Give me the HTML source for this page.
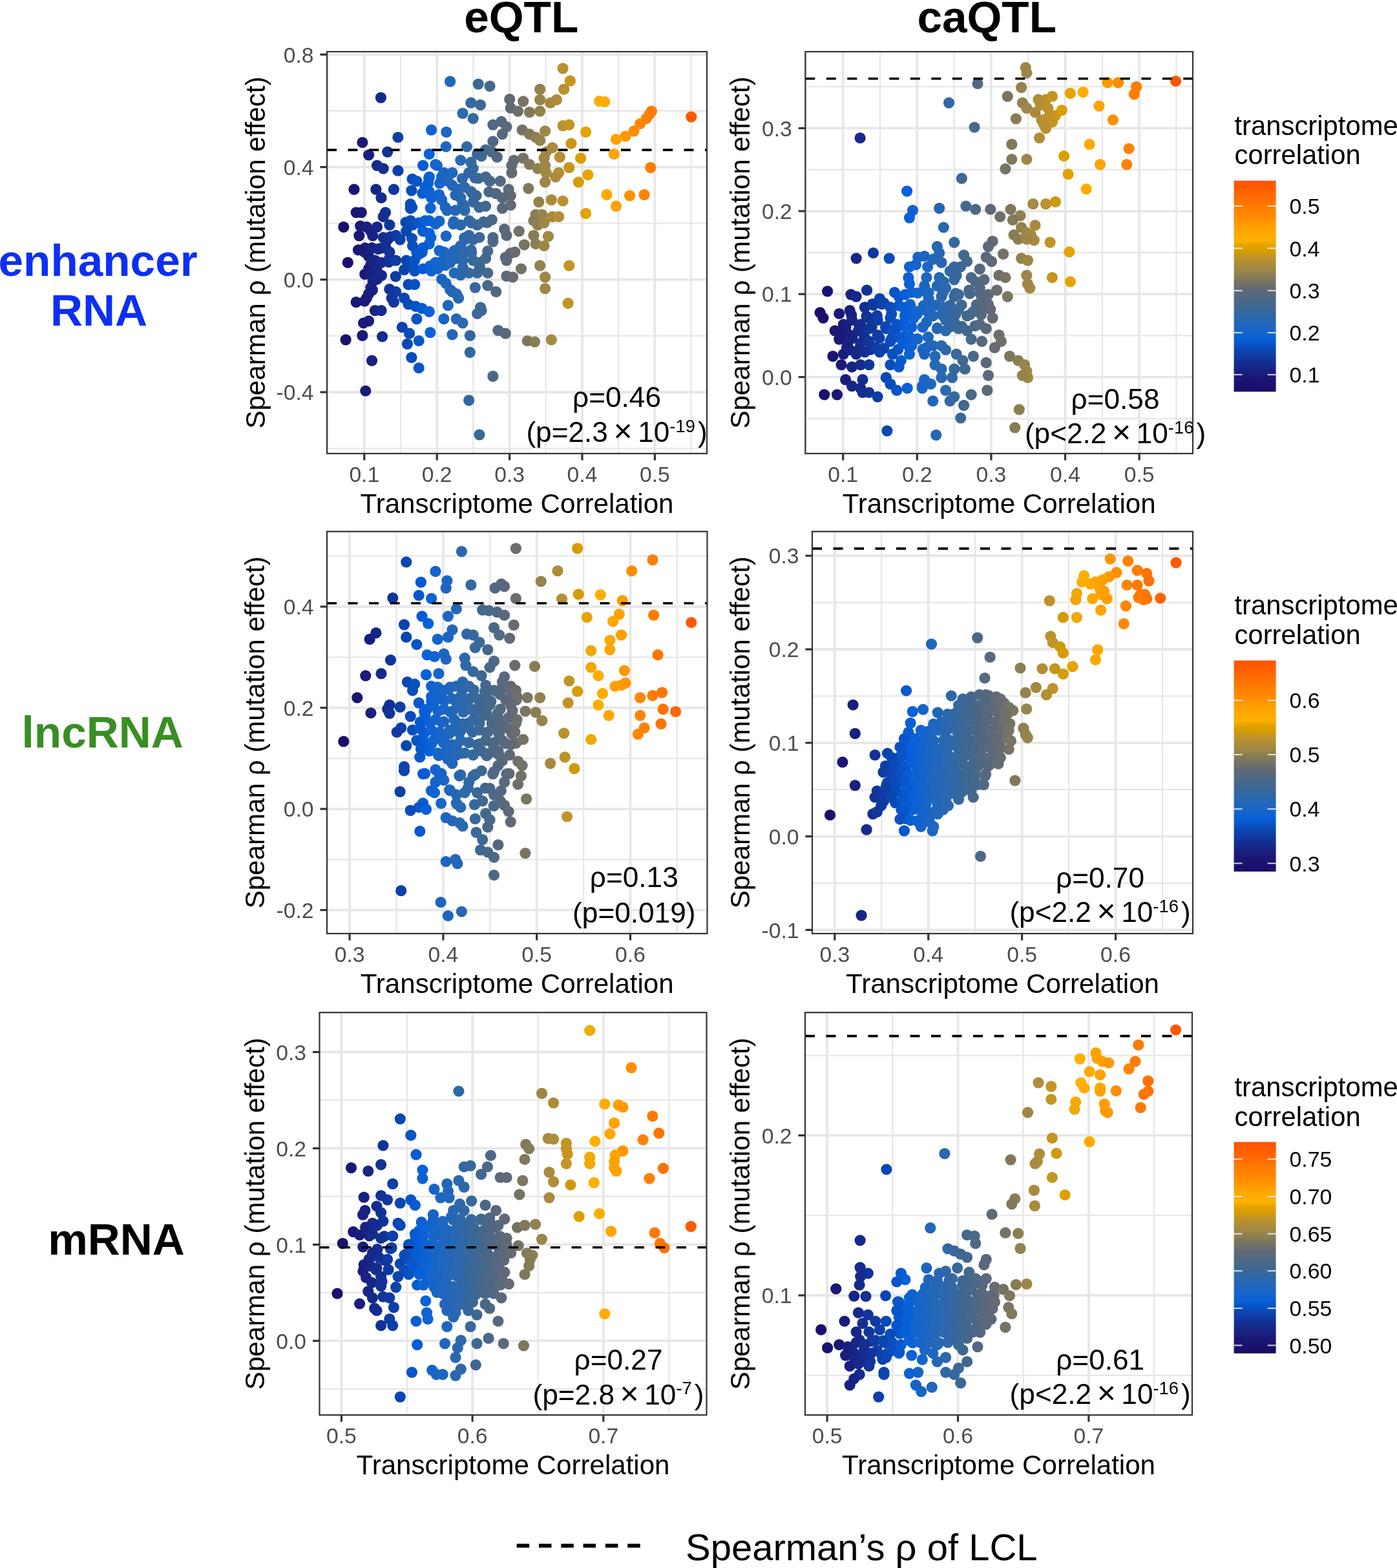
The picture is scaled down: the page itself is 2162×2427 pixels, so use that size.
<!DOCTYPE html>
<html><head><meta charset="utf-8"><title>eQTL caQTL transcriptome correlation</title>
<style>html,body{margin:0;padding:0;background:#fff;}svg{display:block;}text{font-family:"Liberation Sans", Arial, Helvetica, sans-serif;}.tk{font-size:33.7px;fill:#4d4d4d;}.at{font-size:42.1px;fill:#000;}.an{font-size:44.2px;fill:#000;}.sup{font-size:27.4px;}.lt{font-size:41.8px;fill:#000;}.ll{font-size:33.8px;fill:#000;}.hd{font-size:69.3px;font-weight:bold;}</style></head><body>
<svg width="2162" height="2427" viewBox="0 0 2162 2427">
<rect width="2162" height="2427" fill="#fff"/>
<text x="806.7" y="50.3" text-anchor="middle" class="hd" fill="#000">eQTL</text>
<text x="1527.2" y="50.3" text-anchor="middle" class="hd" fill="#000">caQTL</text>
<text x="151.6" y="426.5" text-anchor="middle" class="hd" fill="#0d2ff2">enhancer</text>
<text x="153" y="503.8" text-anchor="middle" class="hd" fill="#0d2ff2">RNA</text>
<text x="158.7" y="1157.4" text-anchor="middle" class="hd" fill="#388e23">lncRNA</text>
<text x="180" y="1942.3" text-anchor="middle" class="hd" fill="#000">mRNA</text>
<g id="pA">
<rect x="506" y="80" width="588.0" height="622.0" fill="#fff"/>
<clipPath id="cA"><rect x="506" y="80" width="588.0" height="622.0"/></clipPath>
<g clip-path="url(#cA)">
<line x1="506" x2="1094" y1="171.5" y2="171.5" stroke="#e7e7e7" stroke-width="2.3"/>
<line x1="506" x2="1094" y1="345.7" y2="345.7" stroke="#e7e7e7" stroke-width="2.3"/>
<line x1="506" x2="1094" y1="519.9" y2="519.9" stroke="#e7e7e7" stroke-width="2.3"/>
<line x1="506" x2="1094" y1="694.1" y2="694.1" stroke="#e7e7e7" stroke-width="2.3"/>
<line x1="507.6" x2="507.6" y1="80" y2="702" stroke="#e7e7e7" stroke-width="2.3"/>
<line x1="620.0" x2="620.0" y1="80" y2="702" stroke="#e7e7e7" stroke-width="2.3"/>
<line x1="732.4" x2="732.4" y1="80" y2="702" stroke="#e7e7e7" stroke-width="2.3"/>
<line x1="844.8" x2="844.8" y1="80" y2="702" stroke="#e7e7e7" stroke-width="2.3"/>
<line x1="957.2" x2="957.2" y1="80" y2="702" stroke="#e7e7e7" stroke-width="2.3"/>
<line x1="1069.6" x2="1069.6" y1="80" y2="702" stroke="#e7e7e7" stroke-width="2.3"/>
<line x1="506" x2="1094" y1="84.4" y2="84.4" stroke="#e7e7e7" stroke-width="3.8"/>
<line x1="506" x2="1094" y1="258.6" y2="258.6" stroke="#e7e7e7" stroke-width="3.8"/>
<line x1="506" x2="1094" y1="432.8" y2="432.8" stroke="#e7e7e7" stroke-width="3.8"/>
<line x1="506" x2="1094" y1="607.0" y2="607.0" stroke="#e7e7e7" stroke-width="3.8"/>
<line x1="563.8" x2="563.8" y1="80" y2="702" stroke="#e7e7e7" stroke-width="3.8"/>
<line x1="676.2" x2="676.2" y1="80" y2="702" stroke="#e7e7e7" stroke-width="3.8"/>
<line x1="788.6" x2="788.6" y1="80" y2="702" stroke="#e7e7e7" stroke-width="3.8"/>
<line x1="901.0" x2="901.0" y1="80" y2="702" stroke="#e7e7e7" stroke-width="3.8"/>
<line x1="1013.4" x2="1013.4" y1="80" y2="702" stroke="#e7e7e7" stroke-width="3.8"/>
<circle cx="555.8" cy="364.8" r="8.6" fill="#1b1775"/>
<circle cx="576.8" cy="365.0" r="8.6" fill="#182282"/>
<circle cx="604.2" cy="366.3" r="8.6" fill="#113499"/>
<circle cx="564.9" cy="383.8" r="8.6" fill="#1b1b79"/>
<circle cx="590.7" cy="383.9" r="8.6" fill="#152b8d"/>
<circle cx="578.6" cy="404.3" r="8.6" fill="#172484"/>
<circle cx="601.8" cy="405.6" r="8.6" fill="#123397"/>
<circle cx="564.7" cy="424.4" r="8.6" fill="#1b1b79"/>
<circle cx="590.5" cy="426.3" r="8.6" fill="#152b8d"/>
<circle cx="612.3" cy="427.8" r="8.6" fill="#0f3aa1"/>
<circle cx="576.4" cy="448.9" r="8.6" fill="#182282"/>
<circle cx="602.8" cy="447.5" r="8.6" fill="#113398"/>
<circle cx="676.3" cy="256.0" r="8.6" fill="#1464cc"/>
<circle cx="638.1" cy="277.2" r="8.6" fill="#094ebe"/>
<circle cx="663.7" cy="276.1" r="8.6" fill="#0b61d6"/>
<circle cx="689.2" cy="276.8" r="8.6" fill="#1b65c2"/>
<circle cx="715.4" cy="276.3" r="8.6" fill="#2a68ae"/>
<circle cx="740.4" cy="276.0" r="8.6" fill="#3b6896"/>
<circle cx="653.7" cy="299.1" r="8.6" fill="#085cd3"/>
<circle cx="679.6" cy="301.3" r="8.6" fill="#1664c9"/>
<circle cx="705.0" cy="301.8" r="8.6" fill="#2467b6"/>
<circle cx="730.7" cy="298.9" r="8.6" fill="#35689f"/>
<circle cx="756.8" cy="297.0" r="8.6" fill="#47688a"/>
<circle cx="637.6" cy="321.0" r="8.6" fill="#094ebd"/>
<circle cx="666.2" cy="322.1" r="8.6" fill="#0d62d4"/>
<circle cx="689.2" cy="320.8" r="8.6" fill="#1c65c2"/>
<circle cx="718.0" cy="320.9" r="8.6" fill="#2c68ab"/>
<circle cx="741.7" cy="320.8" r="8.6" fill="#3c6895"/>
<circle cx="628.0" cy="344.0" r="8.6" fill="#0b46b1"/>
<circle cx="650.0" cy="345.0" r="8.6" fill="#0858ce"/>
<circle cx="679.9" cy="342.3" r="8.6" fill="#1664c9"/>
<circle cx="702.3" cy="343.2" r="8.6" fill="#2367b8"/>
<circle cx="729.5" cy="344.9" r="8.6" fill="#3468a0"/>
<circle cx="754.1" cy="344.3" r="8.6" fill="#45688b"/>
<circle cx="637.4" cy="369.1" r="8.6" fill="#094ebd"/>
<circle cx="666.7" cy="367.8" r="8.6" fill="#0d62d4"/>
<circle cx="690.3" cy="365.3" r="8.6" fill="#1c65c1"/>
<circle cx="718.7" cy="368.1" r="8.6" fill="#2c68ab"/>
<circle cx="741.9" cy="367.5" r="8.6" fill="#3c6895"/>
<circle cx="653.2" cy="390.4" r="8.6" fill="#085bd2"/>
<circle cx="680.0" cy="387.8" r="8.6" fill="#1664c9"/>
<circle cx="703.0" cy="388.0" r="8.6" fill="#2367b7"/>
<circle cx="729.7" cy="391.9" r="8.6" fill="#3468a0"/>
<circle cx="754.8" cy="388.6" r="8.6" fill="#46688b"/>
<circle cx="639.0" cy="412.1" r="8.6" fill="#094fbf"/>
<circle cx="665.6" cy="411.6" r="8.6" fill="#0c62d4"/>
<circle cx="689.1" cy="410.6" r="8.6" fill="#1b65c2"/>
<circle cx="716.4" cy="414.0" r="8.6" fill="#2b68ad"/>
<circle cx="742.4" cy="413.2" r="8.6" fill="#3d6894"/>
<circle cx="871.1" cy="105.8" r="8.6" fill="#b9912f"/>
<circle cx="882.4" cy="125.2" r="8.6" fill="#c7961c"/>
<circle cx="696.6" cy="126.2" r="8.6" fill="#2066bc"/>
<circle cx="740.2" cy="130.1" r="8.6" fill="#3b6896"/>
<circle cx="758.0" cy="133.3" r="8.6" fill="#486889"/>
<circle cx="872.7" cy="138.2" r="8.6" fill="#bb912d"/>
<circle cx="835.6" cy="138.2" r="8.6" fill="#93834c"/>
<circle cx="589.4" cy="151.1" r="8.6" fill="#152a8c"/>
<circle cx="788.7" cy="153.7" r="8.6" fill="#606878"/>
<circle cx="809.7" cy="156.9" r="8.6" fill="#777364"/>
<circle cx="835.6" cy="154.3" r="8.6" fill="#93834c"/>
<circle cx="851.7" cy="159.2" r="8.6" fill="#a68940"/>
<circle cx="861.4" cy="154.3" r="8.6" fill="#b08c38"/>
<circle cx="927.6" cy="156.6" r="8.6" fill="#ffae00"/>
<circle cx="935.7" cy="157.5" r="8.6" fill="#ffab00"/>
<circle cx="728.9" cy="159.2" r="8.6" fill="#3368a1"/>
<circle cx="743.5" cy="162.4" r="8.6" fill="#3d6893"/>
<circle cx="790.3" cy="167.2" r="8.6" fill="#626976"/>
<circle cx="801.6" cy="172.1" r="8.6" fill="#6e6f6a"/>
<circle cx="819.4" cy="173.7" r="8.6" fill="#81795b"/>
<circle cx="835.6" cy="172.1" r="8.6" fill="#93834c"/>
<circle cx="716.0" cy="175.3" r="8.6" fill="#2b68ad"/>
<circle cx="732.2" cy="183.4" r="8.6" fill="#36689e"/>
<circle cx="1008.4" cy="172.1" r="8.6" fill="#ff7d00"/>
<circle cx="1005.2" cy="176.9" r="8.6" fill="#ff7e00"/>
<circle cx="1000.3" cy="183.4" r="8.6" fill="#ff8100"/>
<circle cx="990.7" cy="191.5" r="8.6" fill="#ff8600"/>
<circle cx="981.0" cy="202.8" r="8.6" fill="#ff8b00"/>
<circle cx="968.0" cy="210.9" r="8.6" fill="#ff9600"/>
<circle cx="953.5" cy="215.7" r="8.6" fill="#ffa200"/>
<circle cx="1069.8" cy="180.8" r="8.6" fill="#ff5800"/>
<circle cx="762.9" cy="193.1" r="8.6" fill="#4c6886"/>
<circle cx="775.8" cy="188.2" r="8.6" fill="#56687f"/>
<circle cx="783.9" cy="196.3" r="8.6" fill="#5d687a"/>
<circle cx="871.1" cy="194.7" r="8.6" fill="#b9912f"/>
<circle cx="880.8" cy="193.1" r="8.6" fill="#c49521"/>
<circle cx="667.6" cy="201.2" r="8.6" fill="#0e62d3"/>
<circle cx="690.8" cy="204.4" r="8.6" fill="#1c66c1"/>
<circle cx="615.9" cy="212.5" r="8.6" fill="#0e3da5"/>
<circle cx="808.1" cy="201.2" r="8.6" fill="#757265"/>
<circle cx="819.4" cy="207.6" r="8.6" fill="#81795b"/>
<circle cx="829.1" cy="212.5" r="8.6" fill="#8b7f51"/>
<circle cx="843.6" cy="202.8" r="8.6" fill="#9e8746"/>
<circle cx="835.6" cy="217.3" r="8.6" fill="#93834c"/>
<circle cx="777.4" cy="207.6" r="8.6" fill="#57687e"/>
<circle cx="906.6" cy="204.4" r="8.6" fill="#e3a300"/>
<circle cx="560.9" cy="220.5" r="8.6" fill="#1b1977"/>
<circle cx="762.9" cy="218.9" r="8.6" fill="#4c6886"/>
<circle cx="690.2" cy="227.0" r="8.6" fill="#1c65c1"/>
<circle cx="722.5" cy="227.0" r="8.6" fill="#2f68a7"/>
<circle cx="884.0" cy="222.2" r="8.6" fill="#c99718"/>
<circle cx="854.9" cy="228.6" r="8.6" fill="#a98a3d"/>
<circle cx="845.3" cy="235.1" r="8.6" fill="#a08745"/>
<circle cx="751.6" cy="231.9" r="8.6" fill="#43688d"/>
<circle cx="761.3" cy="235.1" r="8.6" fill="#4b6887"/>
<circle cx="745.1" cy="241.6" r="8.6" fill="#3e6892"/>
<circle cx="738.6" cy="238.3" r="8.6" fill="#3a6898"/>
<circle cx="599.7" cy="235.1" r="8.6" fill="#123195"/>
<circle cx="570.6" cy="239.9" r="8.6" fill="#191f7e"/>
<circle cx="664.3" cy="238.3" r="8.6" fill="#0b61d6"/>
<circle cx="769.3" cy="243.2" r="8.6" fill="#516883"/>
<circle cx="950.3" cy="238.3" r="8.6" fill="#ffa300"/>
<circle cx="866.3" cy="243.2" r="8.6" fill="#b58e33"/>
<circle cx="898.6" cy="244.8" r="8.6" fill="#da9f02"/>
<circle cx="712.8" cy="248.0" r="8.6" fill="#2968b0"/>
<circle cx="654.6" cy="256.1" r="8.6" fill="#075cd4"/>
<circle cx="674.0" cy="254.5" r="8.6" fill="#1364cd"/>
<circle cx="809.7" cy="244.8" r="8.6" fill="#777364"/>
<circle cx="795.2" cy="248.0" r="8.6" fill="#676c71"/>
<circle cx="791.9" cy="256.1" r="8.6" fill="#646a74"/>
<circle cx="791.9" cy="267.4" r="8.6" fill="#646a74"/>
<circle cx="819.4" cy="254.5" r="8.6" fill="#81795b"/>
<circle cx="832.3" cy="260.9" r="8.6" fill="#8f814f"/>
<circle cx="842.0" cy="244.8" r="8.6" fill="#9c8648"/>
<circle cx="843.6" cy="256.1" r="8.6" fill="#9e8746"/>
<circle cx="845.3" cy="267.4" r="8.6" fill="#a08745"/>
<circle cx="583.5" cy="256.1" r="8.6" fill="#162788"/>
<circle cx="593.2" cy="260.9" r="8.6" fill="#142d8f"/>
<circle cx="615.9" cy="264.2" r="8.6" fill="#0e3da5"/>
<circle cx="1006.8" cy="259.3" r="8.6" fill="#ff7d00"/>
<circle cx="728.9" cy="251.2" r="8.6" fill="#3368a1"/>
<circle cx="732.2" cy="260.9" r="8.6" fill="#36689e"/>
<circle cx="725.7" cy="267.4" r="8.6" fill="#3168a4"/>
<circle cx="735.4" cy="275.5" r="8.6" fill="#38689b"/>
<circle cx="686.9" cy="267.4" r="8.6" fill="#1a65c4"/>
<circle cx="699.9" cy="267.4" r="8.6" fill="#2166ba"/>
<circle cx="683.7" cy="273.9" r="8.6" fill="#1865c6"/>
<circle cx="693.4" cy="280.3" r="8.6" fill="#1e66bf"/>
<circle cx="680.5" cy="283.6" r="8.6" fill="#1764c8"/>
<circle cx="864.6" cy="267.4" r="8.6" fill="#b38e35"/>
<circle cx="880.8" cy="259.3" r="8.6" fill="#c49521"/>
<circle cx="859.8" cy="273.9" r="8.6" fill="#ae8b39"/>
<circle cx="909.9" cy="270.6" r="8.6" fill="#e7a500"/>
<circle cx="895.3" cy="281.9" r="8.6" fill="#d79d04"/>
<circle cx="751.6" cy="273.9" r="8.6" fill="#43688d"/>
<circle cx="758.0" cy="280.3" r="8.6" fill="#486889"/>
<circle cx="774.2" cy="280.3" r="8.6" fill="#556880"/>
<circle cx="644.9" cy="280.3" r="8.6" fill="#0854c7"/>
<circle cx="664.3" cy="273.9" r="8.6" fill="#0b61d6"/>
<circle cx="662.7" cy="283.6" r="8.6" fill="#0a61d7"/>
<circle cx="657.9" cy="290.0" r="8.6" fill="#075fd9"/>
<circle cx="664.3" cy="296.5" r="8.6" fill="#0b61d6"/>
<circle cx="843.6" cy="281.9" r="8.6" fill="#9e8746"/>
<circle cx="548.0" cy="293.2" r="8.6" fill="#1b1572"/>
<circle cx="581.9" cy="293.2" r="8.6" fill="#172686"/>
<circle cx="609.4" cy="293.2" r="8.6" fill="#10389e"/>
<circle cx="699.9" cy="286.8" r="8.6" fill="#2166ba"/>
<circle cx="709.6" cy="293.2" r="8.6" fill="#2767b2"/>
<circle cx="719.2" cy="290.0" r="8.6" fill="#2d68aa"/>
<circle cx="728.9" cy="296.5" r="8.6" fill="#3368a1"/>
<circle cx="737.0" cy="302.9" r="8.6" fill="#396899"/>
<circle cx="817.8" cy="291.6" r="8.6" fill="#7f785d"/>
<circle cx="787.1" cy="293.2" r="8.6" fill="#5f6879"/>
<circle cx="790.3" cy="302.9" r="8.6" fill="#626976"/>
<circle cx="767.7" cy="299.7" r="8.6" fill="#506884"/>
<circle cx="777.4" cy="306.2" r="8.6" fill="#57687e"/>
<circle cx="939.0" cy="301.3" r="8.6" fill="#ffa900"/>
<circle cx="974.5" cy="302.9" r="8.6" fill="#ff9100"/>
<circle cx="997.1" cy="301.3" r="8.6" fill="#ff8300"/>
<circle cx="636.9" cy="294.9" r="8.6" fill="#094dbc"/>
<circle cx="590.0" cy="306.2" r="8.6" fill="#152b8d"/>
<circle cx="667.6" cy="306.2" r="8.6" fill="#0e62d3"/>
<circle cx="683.7" cy="309.4" r="8.6" fill="#1865c6"/>
<circle cx="833.9" cy="312.6" r="8.6" fill="#91824e"/>
<circle cx="853.3" cy="309.4" r="8.6" fill="#a88a3f"/>
<circle cx="871.1" cy="311.0" r="8.6" fill="#b9912f"/>
<circle cx="712.8" cy="306.2" r="8.6" fill="#2968b0"/>
<circle cx="716.0" cy="315.9" r="8.6" fill="#2b68ad"/>
<circle cx="732.2" cy="312.6" r="8.6" fill="#36689e"/>
<circle cx="953.5" cy="319.1" r="8.6" fill="#ffa200"/>
<circle cx="635.2" cy="315.9" r="8.6" fill="#0a4cba"/>
<circle cx="635.2" cy="322.3" r="8.6" fill="#0a4cba"/>
<circle cx="790.3" cy="317.5" r="8.6" fill="#626976"/>
<circle cx="777.4" cy="322.3" r="8.6" fill="#57687e"/>
<circle cx="751.6" cy="319.1" r="8.6" fill="#43688d"/>
<circle cx="691.8" cy="325.6" r="8.6" fill="#1d66c0"/>
<circle cx="704.7" cy="325.6" r="8.6" fill="#2467b6"/>
<circle cx="719.2" cy="325.6" r="8.6" fill="#2d68aa"/>
<circle cx="906.6" cy="330.4" r="8.6" fill="#e3a300"/>
<circle cx="551.2" cy="328.8" r="8.6" fill="#1b1673"/>
<circle cx="559.3" cy="328.8" r="8.6" fill="#1b1976"/>
<circle cx="596.5" cy="328.8" r="8.6" fill="#132f92"/>
<circle cx="593.2" cy="335.3" r="8.6" fill="#142d8f"/>
<circle cx="829.1" cy="332.0" r="8.6" fill="#8b7f51"/>
<circle cx="838.8" cy="332.0" r="8.6" fill="#98844a"/>
<circle cx="854.9" cy="335.3" r="8.6" fill="#a98a3d"/>
<circle cx="864.6" cy="335.3" r="8.6" fill="#b38e35"/>
<circle cx="825.9" cy="341.7" r="8.6" fill="#877d55"/>
<circle cx="531.8" cy="351.4" r="8.6" fill="#1a0f6b"/>
<circle cx="557.7" cy="349.8" r="8.6" fill="#1b1876"/>
<circle cx="567.4" cy="351.4" r="8.6" fill="#1a1d7b"/>
<circle cx="573.9" cy="357.9" r="8.6" fill="#182180"/>
<circle cx="583.5" cy="351.4" r="8.6" fill="#162788"/>
<circle cx="602.9" cy="348.2" r="8.6" fill="#113398"/>
<circle cx="635.2" cy="341.7" r="8.6" fill="#0a4cba"/>
<circle cx="638.5" cy="348.2" r="8.6" fill="#094fbe"/>
<circle cx="648.2" cy="344.9" r="8.6" fill="#0857cb"/>
<circle cx="657.9" cy="341.7" r="8.6" fill="#075fd9"/>
<circle cx="664.3" cy="341.7" r="8.6" fill="#0b61d6"/>
<circle cx="674.0" cy="346.6" r="8.6" fill="#1364cd"/>
<circle cx="701.5" cy="346.6" r="8.6" fill="#2267b8"/>
<circle cx="712.8" cy="348.2" r="8.6" fill="#2968b0"/>
<circle cx="725.7" cy="341.7" r="8.6" fill="#3168a4"/>
<circle cx="738.6" cy="348.2" r="8.6" fill="#3a6898"/>
<circle cx="748.3" cy="343.3" r="8.6" fill="#41688f"/>
<circle cx="761.3" cy="340.1" r="8.6" fill="#4b6887"/>
<circle cx="780.6" cy="354.6" r="8.6" fill="#5a687c"/>
<circle cx="803.3" cy="357.9" r="8.6" fill="#707069"/>
<circle cx="783.9" cy="364.3" r="8.6" fill="#5d687a"/>
<circle cx="832.3" cy="348.2" r="8.6" fill="#8f814f"/>
<circle cx="842.0" cy="344.9" r="8.6" fill="#9c8648"/>
<circle cx="612.6" cy="364.3" r="8.6" fill="#0f3ba2"/>
<circle cx="628.8" cy="357.9" r="8.6" fill="#0b47b2"/>
<circle cx="654.6" cy="357.9" r="8.6" fill="#075cd4"/>
<circle cx="664.3" cy="361.1" r="8.6" fill="#0b61d6"/>
<circle cx="593.2" cy="367.6" r="8.6" fill="#142d8f"/>
<circle cx="599.7" cy="370.8" r="8.6" fill="#123195"/>
<circle cx="619.1" cy="370.8" r="8.6" fill="#0d3fa8"/>
<circle cx="725.7" cy="364.3" r="8.6" fill="#3168a4"/>
<circle cx="719.2" cy="370.8" r="8.6" fill="#2d68aa"/>
<circle cx="732.2" cy="370.8" r="8.6" fill="#36689e"/>
<circle cx="762.9" cy="367.6" r="8.6" fill="#4c6886"/>
<circle cx="762.9" cy="374.0" r="8.6" fill="#4c6886"/>
<circle cx="825.9" cy="364.3" r="8.6" fill="#877d55"/>
<circle cx="848.5" cy="365.9" r="8.6" fill="#a38843"/>
<circle cx="811.3" cy="378.9" r="8.6" fill="#787463"/>
<circle cx="829.1" cy="377.3" r="8.6" fill="#8b7f51"/>
<circle cx="842.0" cy="380.5" r="8.6" fill="#9c8648"/>
<circle cx="554.5" cy="386.9" r="8.6" fill="#1b1774"/>
<circle cx="564.2" cy="390.2" r="8.6" fill="#1b1b79"/>
<circle cx="570.6" cy="396.6" r="8.6" fill="#191f7e"/>
<circle cx="575.5" cy="383.7" r="8.6" fill="#182281"/>
<circle cx="585.2" cy="385.3" r="8.6" fill="#162889"/>
<circle cx="596.5" cy="380.5" r="8.6" fill="#132f92"/>
<circle cx="602.9" cy="390.2" r="8.6" fill="#113398"/>
<circle cx="638.5" cy="380.5" r="8.6" fill="#094fbe"/>
<circle cx="644.9" cy="390.2" r="8.6" fill="#0854c7"/>
<circle cx="664.3" cy="377.3" r="8.6" fill="#0b61d6"/>
<circle cx="654.6" cy="383.7" r="8.6" fill="#075cd4"/>
<circle cx="712.8" cy="380.5" r="8.6" fill="#2968b0"/>
<circle cx="706.3" cy="386.9" r="8.6" fill="#2567b5"/>
<circle cx="719.2" cy="390.2" r="8.6" fill="#2d68aa"/>
<circle cx="728.9" cy="386.9" r="8.6" fill="#3368a1"/>
<circle cx="686.9" cy="390.2" r="8.6" fill="#1a65c4"/>
<circle cx="696.6" cy="393.4" r="8.6" fill="#2066bc"/>
<circle cx="790.3" cy="391.8" r="8.6" fill="#626976"/>
<circle cx="796.8" cy="390.2" r="8.6" fill="#696d6f"/>
<circle cx="782.3" cy="398.3" r="8.6" fill="#5b687b"/>
<circle cx="538.3" cy="406.3" r="8.6" fill="#1a116e"/>
<circle cx="573.9" cy="409.6" r="8.6" fill="#182180"/>
<circle cx="580.3" cy="403.1" r="8.6" fill="#172585"/>
<circle cx="590.0" cy="406.3" r="8.6" fill="#152b8d"/>
<circle cx="602.9" cy="399.9" r="8.6" fill="#113398"/>
<circle cx="612.6" cy="403.1" r="8.6" fill="#0f3ba2"/>
<circle cx="628.8" cy="403.1" r="8.6" fill="#0b47b2"/>
<circle cx="641.7" cy="403.1" r="8.6" fill="#0951c3"/>
<circle cx="648.2" cy="393.4" r="8.6" fill="#0857cb"/>
<circle cx="674.0" cy="406.3" r="8.6" fill="#1364cd"/>
<circle cx="685.3" cy="403.1" r="8.6" fill="#1965c5"/>
<circle cx="696.6" cy="406.3" r="8.6" fill="#2066bc"/>
<circle cx="706.3" cy="399.9" r="8.6" fill="#2567b5"/>
<circle cx="716.0" cy="403.1" r="8.6" fill="#2b68ad"/>
<circle cx="732.2" cy="403.1" r="8.6" fill="#36689e"/>
<circle cx="741.9" cy="406.3" r="8.6" fill="#3c6895"/>
<circle cx="751.6" cy="399.9" r="8.6" fill="#43688d"/>
<circle cx="783.9" cy="403.1" r="8.6" fill="#5d687a"/>
<circle cx="806.5" cy="416.0" r="8.6" fill="#737267"/>
<circle cx="835.6" cy="411.2" r="8.6" fill="#93834c"/>
<circle cx="880.8" cy="411.2" r="8.6" fill="#c49521"/>
<circle cx="570.6" cy="416.0" r="8.6" fill="#191f7e"/>
<circle cx="583.5" cy="419.3" r="8.6" fill="#162788"/>
<circle cx="573.9" cy="425.7" r="8.6" fill="#182180"/>
<circle cx="586.8" cy="425.7" r="8.6" fill="#15298a"/>
<circle cx="625.5" cy="417.6" r="8.6" fill="#0b44af"/>
<circle cx="641.7" cy="419.3" r="8.6" fill="#0951c3"/>
<circle cx="654.6" cy="416.0" r="8.6" fill="#075cd4"/>
<circle cx="667.6" cy="419.3" r="8.6" fill="#0e62d3"/>
<circle cx="677.2" cy="416.0" r="8.6" fill="#1564cb"/>
<circle cx="703.1" cy="422.5" r="8.6" fill="#2367b7"/>
<circle cx="712.8" cy="425.7" r="8.6" fill="#2968b0"/>
<circle cx="725.7" cy="422.5" r="8.6" fill="#3168a4"/>
<circle cx="738.6" cy="422.5" r="8.6" fill="#3a6898"/>
<circle cx="754.8" cy="422.5" r="8.6" fill="#46688b"/>
<circle cx="783.9" cy="427.3" r="8.6" fill="#5d687a"/>
<circle cx="793.6" cy="428.9" r="8.6" fill="#666b72"/>
<circle cx="843.6" cy="428.9" r="8.6" fill="#9e8746"/>
<circle cx="577.1" cy="435.4" r="8.6" fill="#182383"/>
<circle cx="583.5" cy="432.2" r="8.6" fill="#162788"/>
<circle cx="573.9" cy="445.1" r="8.6" fill="#182180"/>
<circle cx="632.0" cy="440.3" r="8.6" fill="#0a49b6"/>
<circle cx="641.7" cy="440.3" r="8.6" fill="#0951c3"/>
<circle cx="683.7" cy="432.2" r="8.6" fill="#1865c6"/>
<circle cx="690.2" cy="438.6" r="8.6" fill="#1c65c1"/>
<circle cx="696.6" cy="448.3" r="8.6" fill="#2066bc"/>
<circle cx="735.4" cy="445.1" r="8.6" fill="#38689b"/>
<circle cx="754.8" cy="441.9" r="8.6" fill="#46688b"/>
<circle cx="767.7" cy="451.6" r="8.6" fill="#506884"/>
<circle cx="843.6" cy="446.7" r="8.6" fill="#9e8746"/>
<circle cx="570.6" cy="454.8" r="8.6" fill="#191f7e"/>
<circle cx="567.4" cy="461.3" r="8.6" fill="#1a1d7b"/>
<circle cx="612.6" cy="451.6" r="8.6" fill="#0f3ba2"/>
<circle cx="606.2" cy="461.3" r="8.6" fill="#11369b"/>
<circle cx="625.5" cy="461.3" r="8.6" fill="#0b44af"/>
<circle cx="699.9" cy="451.6" r="8.6" fill="#2166ba"/>
<circle cx="706.3" cy="454.8" r="8.6" fill="#2567b5"/>
<circle cx="709.6" cy="461.3" r="8.6" fill="#2767b2"/>
<circle cx="551.2" cy="467.7" r="8.6" fill="#1b1673"/>
<circle cx="564.2" cy="466.1" r="8.6" fill="#1b1b79"/>
<circle cx="609.4" cy="467.7" r="8.6" fill="#10389e"/>
<circle cx="632.0" cy="471.0" r="8.6" fill="#0a49b6"/>
<circle cx="693.4" cy="472.6" r="8.6" fill="#1e66bf"/>
<circle cx="879.2" cy="469.3" r="8.6" fill="#c19426"/>
<circle cx="743.5" cy="475.8" r="8.6" fill="#3d6893"/>
<circle cx="745.1" cy="480.6" r="8.6" fill="#3e6892"/>
<circle cx="580.3" cy="480.6" r="8.6" fill="#172585"/>
<circle cx="590.0" cy="480.6" r="8.6" fill="#152b8d"/>
<circle cx="643.3" cy="474.2" r="8.6" fill="#0953c5"/>
<circle cx="653.0" cy="477.4" r="8.6" fill="#085bd2"/>
<circle cx="664.3" cy="482.3" r="8.6" fill="#0b61d6"/>
<circle cx="738.6" cy="485.5" r="8.6" fill="#3a6898"/>
<circle cx="644.9" cy="493.6" r="8.6" fill="#0854c7"/>
<circle cx="686.9" cy="493.6" r="8.6" fill="#1a65c4"/>
<circle cx="706.3" cy="493.6" r="8.6" fill="#2567b5"/>
<circle cx="716.0" cy="500.0" r="8.6" fill="#2b68ad"/>
<circle cx="570.6" cy="496.8" r="8.6" fill="#191f7e"/>
<circle cx="562.5" cy="500.0" r="8.6" fill="#1b1a78"/>
<circle cx="622.3" cy="506.5" r="8.6" fill="#0c42ab"/>
<circle cx="633.6" cy="516.2" r="8.6" fill="#0a4ab8"/>
<circle cx="560.9" cy="519.4" r="8.6" fill="#1b1977"/>
<circle cx="591.6" cy="521.0" r="8.6" fill="#142c8e"/>
<circle cx="665.9" cy="514.6" r="8.6" fill="#0c62d4"/>
<circle cx="699.9" cy="517.8" r="8.6" fill="#2166ba"/>
<circle cx="727.3" cy="519.4" r="8.6" fill="#3268a2"/>
<circle cx="770.9" cy="511.3" r="8.6" fill="#526882"/>
<circle cx="782.3" cy="516.2" r="8.6" fill="#5b687b"/>
<circle cx="535.1" cy="525.9" r="8.6" fill="#1a106d"/>
<circle cx="630.4" cy="532.3" r="8.6" fill="#0a48b4"/>
<circle cx="648.2" cy="527.5" r="8.6" fill="#0857cb"/>
<circle cx="816.2" cy="527.5" r="8.6" fill="#7d775f"/>
<circle cx="827.5" cy="529.1" r="8.6" fill="#897e53"/>
<circle cx="853.3" cy="525.9" r="8.6" fill="#a88a3f"/>
<circle cx="727.3" cy="545.3" r="8.6" fill="#3268a2"/>
<circle cx="575.5" cy="558.2" r="8.6" fill="#182281"/>
<circle cx="636.9" cy="553.3" r="8.6" fill="#094dbc"/>
<circle cx="648.2" cy="569.5" r="8.6" fill="#0857cb"/>
<circle cx="762.9" cy="582.4" r="8.6" fill="#4c6886"/>
<circle cx="565.8" cy="605.0" r="8.6" fill="#1a1c7a"/>
<circle cx="725.7" cy="619.6" r="8.6" fill="#3168a4"/>
<circle cx="741.9" cy="672.9" r="8.6" fill="#3c6895"/>
<line x1="506" x2="1094" y1="232.1" y2="232.1" stroke="#000" stroke-width="3.6" stroke-dasharray="15 17.5"/>
</g>
<rect x="506" y="80" width="588.0" height="622.0" fill="none" stroke="#333333" stroke-width="2.2"/>
<line x1="563.8" x2="563.8" y1="702" y2="712.5" stroke="#333333" stroke-width="3.2"/>
<text x="563.8" y="746.2" text-anchor="middle" class="tk">0.1</text>
<line x1="676.2" x2="676.2" y1="702" y2="712.5" stroke="#333333" stroke-width="3.2"/>
<text x="676.2" y="746.2" text-anchor="middle" class="tk">0.2</text>
<line x1="788.6" x2="788.6" y1="702" y2="712.5" stroke="#333333" stroke-width="3.2"/>
<text x="788.6" y="746.2" text-anchor="middle" class="tk">0.3</text>
<line x1="901.0" x2="901.0" y1="702" y2="712.5" stroke="#333333" stroke-width="3.2"/>
<text x="901.0" y="746.2" text-anchor="middle" class="tk">0.4</text>
<line x1="1013.4" x2="1013.4" y1="702" y2="712.5" stroke="#333333" stroke-width="3.2"/>
<text x="1013.4" y="746.2" text-anchor="middle" class="tk">0.5</text>
<line x1="495.5" x2="506" y1="84.4" y2="84.4" stroke="#333333" stroke-width="3.2"/>
<text x="485.5" y="96.5" text-anchor="end" class="tk">0.8</text>
<line x1="495.5" x2="506" y1="258.6" y2="258.6" stroke="#333333" stroke-width="3.2"/>
<text x="485.5" y="270.7" text-anchor="end" class="tk">0.4</text>
<line x1="495.5" x2="506" y1="432.8" y2="432.8" stroke="#333333" stroke-width="3.2"/>
<text x="485.5" y="444.9" text-anchor="end" class="tk">0.0</text>
<line x1="495.5" x2="506" y1="607.0" y2="607.0" stroke="#333333" stroke-width="3.2"/>
<text x="485.5" y="619.1" text-anchor="end" class="tk">-0.4</text>
<text x="800.0" y="793.5" text-anchor="middle" class="at">Transcriptome Correlation</text>
<text transform="translate(409.5,391.0) rotate(-90)" text-anchor="middle" class="at">Spearman ρ (mutation effect)</text>
<text x="954.5" y="629.5" text-anchor="middle" class="an">ρ=0.46</text>
<text x="954.5" y="684.0" text-anchor="middle" class="an">(p=2.3<tspan dx="8.5" style="font-size:50px">×</tspan><tspan dx="8.5">10</tspan><tspan class="sup" dy="-15.4">-19</tspan><tspan dy="15.4" dx="4">)</tspan></text>
</g>
<g id="pB">
<rect x="1246.3" y="80" width="599.7" height="622.0" fill="#fff"/>
<clipPath id="cB"><rect x="1246.3" y="80" width="599.7" height="622.0"/></clipPath>
<g clip-path="url(#cB)">
<line x1="1246.3" x2="1846" y1="134.2" y2="134.2" stroke="#e7e7e7" stroke-width="2.3"/>
<line x1="1246.3" x2="1846" y1="262.6" y2="262.6" stroke="#e7e7e7" stroke-width="2.3"/>
<line x1="1246.3" x2="1846" y1="391.0" y2="391.0" stroke="#e7e7e7" stroke-width="2.3"/>
<line x1="1246.3" x2="1846" y1="519.4" y2="519.4" stroke="#e7e7e7" stroke-width="2.3"/>
<line x1="1246.3" x2="1846" y1="647.8" y2="647.8" stroke="#e7e7e7" stroke-width="2.3"/>
<line x1="1247.4" x2="1247.4" y1="80" y2="702" stroke="#e7e7e7" stroke-width="2.3"/>
<line x1="1362.0" x2="1362.0" y1="80" y2="702" stroke="#e7e7e7" stroke-width="2.3"/>
<line x1="1476.6" x2="1476.6" y1="80" y2="702" stroke="#e7e7e7" stroke-width="2.3"/>
<line x1="1591.2" x2="1591.2" y1="80" y2="702" stroke="#e7e7e7" stroke-width="2.3"/>
<line x1="1705.8" x2="1705.8" y1="80" y2="702" stroke="#e7e7e7" stroke-width="2.3"/>
<line x1="1820.4" x2="1820.4" y1="80" y2="702" stroke="#e7e7e7" stroke-width="2.3"/>
<line x1="1246.3" x2="1846" y1="198.4" y2="198.4" stroke="#e7e7e7" stroke-width="3.8"/>
<line x1="1246.3" x2="1846" y1="326.8" y2="326.8" stroke="#e7e7e7" stroke-width="3.8"/>
<line x1="1246.3" x2="1846" y1="455.2" y2="455.2" stroke="#e7e7e7" stroke-width="3.8"/>
<line x1="1246.3" x2="1846" y1="583.6" y2="583.6" stroke="#e7e7e7" stroke-width="3.8"/>
<line x1="1304.7" x2="1304.7" y1="80" y2="702" stroke="#e7e7e7" stroke-width="3.8"/>
<line x1="1419.3" x2="1419.3" y1="80" y2="702" stroke="#e7e7e7" stroke-width="3.8"/>
<line x1="1533.9" x2="1533.9" y1="80" y2="702" stroke="#e7e7e7" stroke-width="3.8"/>
<line x1="1648.5" x2="1648.5" y1="80" y2="702" stroke="#e7e7e7" stroke-width="3.8"/>
<line x1="1763.1" x2="1763.1" y1="80" y2="702" stroke="#e7e7e7" stroke-width="3.8"/>
<circle cx="1420.3" cy="453.5" r="8.6" fill="#1564cb"/>
<circle cx="1437.0" cy="452.8" r="8.6" fill="#1e66be"/>
<circle cx="1459.3" cy="452.8" r="8.6" fill="#2a68ae"/>
<circle cx="1479.0" cy="454.0" r="8.6" fill="#37689b"/>
<circle cx="1500.9" cy="454.5" r="8.6" fill="#47688a"/>
<circle cx="1517.1" cy="454.4" r="8.6" fill="#536881"/>
<circle cx="1350.2" cy="470.5" r="8.6" fill="#10379e"/>
<circle cx="1368.0" cy="469.2" r="8.6" fill="#0b44af"/>
<circle cx="1391.0" cy="473.0" r="8.6" fill="#0857cc"/>
<circle cx="1408.5" cy="471.3" r="8.6" fill="#0c62d4"/>
<circle cx="1429.6" cy="472.8" r="8.6" fill="#1a65c4"/>
<circle cx="1449.1" cy="472.3" r="8.6" fill="#2567b5"/>
<circle cx="1470.3" cy="472.6" r="8.6" fill="#3268a3"/>
<circle cx="1488.1" cy="472.0" r="8.6" fill="#3d6893"/>
<circle cx="1511.3" cy="471.5" r="8.6" fill="#4f6884"/>
<circle cx="1529.3" cy="470.9" r="8.6" fill="#5d687a"/>
<circle cx="1317.8" cy="487.7" r="8.6" fill="#182282"/>
<circle cx="1341.1" cy="489.3" r="8.6" fill="#123195"/>
<circle cx="1357.3" cy="488.7" r="8.6" fill="#0e3da4"/>
<circle cx="1379.8" cy="485.6" r="8.6" fill="#094ebd"/>
<circle cx="1400.5" cy="488.3" r="8.6" fill="#075fd8"/>
<circle cx="1419.5" cy="486.0" r="8.6" fill="#1464cc"/>
<circle cx="1437.9" cy="486.1" r="8.6" fill="#1e66be"/>
<circle cx="1457.2" cy="486.9" r="8.6" fill="#2968af"/>
<circle cx="1478.9" cy="486.6" r="8.6" fill="#37689c"/>
<circle cx="1501.3" cy="486.9" r="8.6" fill="#47688a"/>
<circle cx="1518.6" cy="487.0" r="8.6" fill="#546880"/>
<circle cx="1308.9" cy="506.8" r="8.6" fill="#1a1d7c"/>
<circle cx="1329.8" cy="504.1" r="8.6" fill="#152a8b"/>
<circle cx="1349.1" cy="505.8" r="8.6" fill="#10379c"/>
<circle cx="1370.6" cy="505.6" r="8.6" fill="#0b46b2"/>
<circle cx="1388.1" cy="506.8" r="8.6" fill="#0855c8"/>
<circle cx="1410.9" cy="506.3" r="8.6" fill="#0e62d2"/>
<circle cx="1428.1" cy="506.3" r="8.6" fill="#1965c5"/>
<circle cx="1450.7" cy="507.7" r="8.6" fill="#2567b4"/>
<circle cx="1470.4" cy="506.0" r="8.6" fill="#3268a3"/>
<circle cx="1488.4" cy="505.0" r="8.6" fill="#3e6893"/>
<circle cx="1509.0" cy="504.4" r="8.6" fill="#4d6886"/>
<circle cx="1301.1" cy="523.1" r="8.6" fill="#1b1977"/>
<circle cx="1319.1" cy="523.3" r="8.6" fill="#182383"/>
<circle cx="1337.7" cy="521.3" r="8.6" fill="#132e91"/>
<circle cx="1361.0" cy="523.3" r="8.6" fill="#0d3fa8"/>
<circle cx="1379.9" cy="524.4" r="8.6" fill="#094ebd"/>
<circle cx="1400.0" cy="520.3" r="8.6" fill="#075fd8"/>
<circle cx="1420.0" cy="524.6" r="8.6" fill="#1564cb"/>
<circle cx="1436.4" cy="521.7" r="8.6" fill="#1e66bf"/>
<circle cx="1310.5" cy="537.5" r="8.6" fill="#1a1e7d"/>
<circle cx="1329.6" cy="540.5" r="8.6" fill="#15298b"/>
<circle cx="1347.0" cy="541.1" r="8.6" fill="#11359a"/>
<circle cx="1367.9" cy="539.1" r="8.6" fill="#0b44af"/>
<circle cx="1389.8" cy="541.0" r="8.6" fill="#0856ca"/>
<circle cx="1407.5" cy="537.9" r="8.6" fill="#0b61d5"/>
<circle cx="1428.1" cy="540.6" r="8.6" fill="#1965c5"/>
<circle cx="1587.2" cy="104.7" r="8.6" fill="#9b8649"/>
<circle cx="1588.9" cy="113.0" r="8.6" fill="#9d8647"/>
<circle cx="1513.0" cy="129.5" r="8.6" fill="#506883"/>
<circle cx="1714.1" cy="127.8" r="8.6" fill="#ff9900"/>
<circle cx="1730.6" cy="127.8" r="8.6" fill="#ff8b00"/>
<circle cx="1758.6" cy="134.4" r="8.6" fill="#ff7c00"/>
<circle cx="1755.3" cy="145.9" r="8.6" fill="#ff7e00"/>
<circle cx="1819.6" cy="125.5" r="8.6" fill="#ff5800"/>
<circle cx="1580.6" cy="135.4" r="8.6" fill="#92824d"/>
<circle cx="1559.2" cy="149.2" r="8.6" fill="#7b7561"/>
<circle cx="1656.4" cy="144.3" r="8.6" fill="#e6a400"/>
<circle cx="1676.2" cy="142.6" r="8.6" fill="#ffad00"/>
<circle cx="1607.0" cy="154.2" r="8.6" fill="#af8c39"/>
<circle cx="1618.5" cy="154.2" r="8.6" fill="#ba912e"/>
<circle cx="1628.4" cy="149.2" r="8.6" fill="#c5961f"/>
<circle cx="1582.3" cy="159.1" r="8.6" fill="#94834c"/>
<circle cx="1588.9" cy="167.4" r="8.6" fill="#9d8647"/>
<circle cx="1602.0" cy="174.0" r="8.6" fill="#aa8a3d"/>
<circle cx="1610.3" cy="162.4" r="8.6" fill="#b28d36"/>
<circle cx="1621.8" cy="167.4" r="8.6" fill="#bd922b"/>
<circle cx="1633.4" cy="178.9" r="8.6" fill="#cd9812"/>
<circle cx="1643.3" cy="170.7" r="8.6" fill="#d89d04"/>
<circle cx="1701.0" cy="164.1" r="8.6" fill="#ffa200"/>
<circle cx="1468.5" cy="159.1" r="8.6" fill="#3068a5"/>
<circle cx="1572.4" cy="183.8" r="8.6" fill="#887d54"/>
<circle cx="1611.9" cy="185.5" r="8.6" fill="#b48e34"/>
<circle cx="1621.8" cy="182.2" r="8.6" fill="#bd922b"/>
<circle cx="1628.4" cy="188.8" r="8.6" fill="#c5961f"/>
<circle cx="1618.5" cy="198.7" r="8.6" fill="#ba912e"/>
<circle cx="1615.2" cy="192.1" r="8.6" fill="#b78f31"/>
<circle cx="1722.4" cy="185.5" r="8.6" fill="#ff9100"/>
<circle cx="1508.1" cy="197.0" r="8.6" fill="#4c6886"/>
<circle cx="1331.1" cy="213.5" r="8.6" fill="#152a8c"/>
<circle cx="1608.6" cy="213.5" r="8.6" fill="#b08c38"/>
<circle cx="1565.8" cy="223.4" r="8.6" fill="#81795b"/>
<circle cx="1686.1" cy="223.4" r="8.6" fill="#ffaa00"/>
<circle cx="1747.1" cy="230.0" r="8.6" fill="#ff8200"/>
<circle cx="1646.6" cy="241.5" r="8.6" fill="#da9f01"/>
<circle cx="1565.8" cy="246.5" r="8.6" fill="#81795b"/>
<circle cx="1588.9" cy="246.5" r="8.6" fill="#9d8647"/>
<circle cx="1702.6" cy="254.7" r="8.6" fill="#ffa200"/>
<circle cx="1743.8" cy="254.7" r="8.6" fill="#ff8400"/>
<circle cx="1555.9" cy="261.3" r="8.6" fill="#777464"/>
<circle cx="1653.1" cy="269.6" r="8.6" fill="#e2a300"/>
<circle cx="1488.3" cy="276.2" r="8.6" fill="#3e6893"/>
<circle cx="1403.6" cy="295.9" r="8.6" fill="#0860d8"/>
<circle cx="1681.2" cy="292.6" r="8.6" fill="#ffac00"/>
<circle cx="1598.8" cy="315.7" r="8.6" fill="#a78940"/>
<circle cx="1618.5" cy="315.7" r="8.6" fill="#ba912e"/>
<circle cx="1633.4" cy="312.4" r="8.6" fill="#cd9812"/>
<circle cx="1453.7" cy="322.3" r="8.6" fill="#2767b2"/>
<circle cx="1494.9" cy="319.0" r="8.6" fill="#42688d"/>
<circle cx="1509.7" cy="324.0" r="8.6" fill="#4e6885"/>
<circle cx="1532.8" cy="324.0" r="8.6" fill="#5f6878"/>
<circle cx="1564.1" cy="324.0" r="8.6" fill="#80785c"/>
<circle cx="1579.0" cy="333.8" r="8.6" fill="#8f814e"/>
<circle cx="1567.4" cy="340.4" r="8.6" fill="#837a59"/>
<circle cx="1412.5" cy="325.6" r="8.6" fill="#0f63d1"/>
<circle cx="1407.5" cy="337.1" r="8.6" fill="#0b61d5"/>
<circle cx="1547.7" cy="335.5" r="8.6" fill="#6f6f6a"/>
<circle cx="1602.0" cy="348.7" r="8.6" fill="#aa8a3d"/>
<circle cx="1460.3" cy="352.0" r="8.6" fill="#2b68ad"/>
<circle cx="1580.6" cy="352.0" r="8.6" fill="#92824d"/>
<circle cx="1588.9" cy="360.2" r="8.6" fill="#9d8647"/>
<circle cx="1569.1" cy="363.5" r="8.6" fill="#847b58"/>
<circle cx="1575.7" cy="370.1" r="8.6" fill="#8b7f51"/>
<circle cx="1595.5" cy="363.5" r="8.6" fill="#a38842"/>
<circle cx="1600.4" cy="371.8" r="8.6" fill="#a88a3e"/>
<circle cx="1588.9" cy="370.1" r="8.6" fill="#9d8647"/>
<circle cx="1625.1" cy="375.1" r="8.6" fill="#c09428"/>
<circle cx="1476.8" cy="375.1" r="8.6" fill="#36689e"/>
<circle cx="1450.4" cy="381.7" r="8.6" fill="#2567b4"/>
<circle cx="1453.7" cy="391.5" r="8.6" fill="#2767b2"/>
<circle cx="1536.1" cy="373.4" r="8.6" fill="#636975"/>
<circle cx="1529.5" cy="381.7" r="8.6" fill="#5d687a"/>
<circle cx="1654.8" cy="389.9" r="8.6" fill="#e4a300"/>
<circle cx="1351.5" cy="391.5" r="8.6" fill="#10389f"/>
<circle cx="1325.1" cy="399.8" r="8.6" fill="#162788"/>
<circle cx="1376.2" cy="399.8" r="8.6" fill="#0a4bb8"/>
<circle cx="1420.7" cy="398.1" r="8.6" fill="#1564cb"/>
<circle cx="1430.6" cy="396.5" r="8.6" fill="#1a65c3"/>
<circle cx="1443.8" cy="401.4" r="8.6" fill="#2266b9"/>
<circle cx="1457.0" cy="406.4" r="8.6" fill="#2968b0"/>
<circle cx="1491.6" cy="394.8" r="8.6" fill="#406890"/>
<circle cx="1496.6" cy="404.7" r="8.6" fill="#43688c"/>
<circle cx="1486.7" cy="413.0" r="8.6" fill="#3c6894"/>
<circle cx="1526.2" cy="398.1" r="8.6" fill="#5a687c"/>
<circle cx="1534.5" cy="404.7" r="8.6" fill="#616877"/>
<circle cx="1552.6" cy="393.2" r="8.6" fill="#747266"/>
<circle cx="1580.6" cy="399.8" r="8.6" fill="#92824d"/>
<circle cx="1590.5" cy="403.1" r="8.6" fill="#9e8746"/>
<circle cx="1407.5" cy="413.0" r="8.6" fill="#0b61d5"/>
<circle cx="1417.4" cy="409.7" r="8.6" fill="#1364cd"/>
<circle cx="1435.6" cy="413.0" r="8.6" fill="#1d66c0"/>
<circle cx="1470.2" cy="419.6" r="8.6" fill="#3168a4"/>
<circle cx="1476.8" cy="413.0" r="8.6" fill="#36689e"/>
<circle cx="1480.1" cy="426.2" r="8.6" fill="#38689a"/>
<circle cx="1516.3" cy="416.3" r="8.6" fill="#536881"/>
<circle cx="1405.9" cy="429.5" r="8.6" fill="#0a61d7"/>
<circle cx="1407.5" cy="439.3" r="8.6" fill="#0b61d5"/>
<circle cx="1433.9" cy="429.5" r="8.6" fill="#1c65c1"/>
<circle cx="1430.6" cy="442.6" r="8.6" fill="#1a65c3"/>
<circle cx="1453.7" cy="429.5" r="8.6" fill="#2767b2"/>
<circle cx="1460.3" cy="436.0" r="8.6" fill="#2b68ad"/>
<circle cx="1476.8" cy="432.8" r="8.6" fill="#36689e"/>
<circle cx="1450.4" cy="442.6" r="8.6" fill="#2567b4"/>
<circle cx="1463.6" cy="445.9" r="8.6" fill="#2d68aa"/>
<circle cx="1503.1" cy="429.5" r="8.6" fill="#486889"/>
<circle cx="1509.7" cy="436.0" r="8.6" fill="#4e6885"/>
<circle cx="1522.9" cy="432.8" r="8.6" fill="#58687e"/>
<circle cx="1516.3" cy="445.9" r="8.6" fill="#536881"/>
<circle cx="1546.0" cy="426.2" r="8.6" fill="#6d6e6b"/>
<circle cx="1555.9" cy="429.5" r="8.6" fill="#777464"/>
<circle cx="1588.9" cy="426.2" r="8.6" fill="#9d8647"/>
<circle cx="1590.5" cy="439.3" r="8.6" fill="#9e8746"/>
<circle cx="1593.8" cy="445.9" r="8.6" fill="#a28843"/>
<circle cx="1628.4" cy="429.5" r="8.6" fill="#c5961f"/>
<circle cx="1656.4" cy="436.0" r="8.6" fill="#e6a400"/>
<circle cx="1280.6" cy="450.9" r="8.6" fill="#1a126f"/>
<circle cx="1316.9" cy="455.8" r="8.6" fill="#182282"/>
<circle cx="1325.1" cy="459.1" r="8.6" fill="#162788"/>
<circle cx="1341.6" cy="449.2" r="8.6" fill="#123195"/>
<circle cx="1361.4" cy="462.4" r="8.6" fill="#0d40a9"/>
<circle cx="1384.5" cy="452.5" r="8.6" fill="#0952c3"/>
<circle cx="1391.1" cy="459.1" r="8.6" fill="#0857cc"/>
<circle cx="1400.9" cy="455.8" r="8.6" fill="#075fd9"/>
<circle cx="1410.8" cy="452.5" r="8.6" fill="#0e62d3"/>
<circle cx="1433.9" cy="452.5" r="8.6" fill="#1c65c1"/>
<circle cx="1437.2" cy="462.4" r="8.6" fill="#1e66be"/>
<circle cx="1457.0" cy="459.1" r="8.6" fill="#2968b0"/>
<circle cx="1476.8" cy="459.1" r="8.6" fill="#36689e"/>
<circle cx="1483.4" cy="455.8" r="8.6" fill="#3a6897"/>
<circle cx="1499.8" cy="449.2" r="8.6" fill="#46688a"/>
<circle cx="1519.6" cy="462.4" r="8.6" fill="#556880"/>
<circle cx="1529.5" cy="455.8" r="8.6" fill="#5d687a"/>
<circle cx="1542.7" cy="449.2" r="8.6" fill="#6a6d6e"/>
<circle cx="1559.2" cy="459.1" r="8.6" fill="#7b7561"/>
<circle cx="1269.1" cy="483.9" r="8.6" fill="#1a0e6a"/>
<circle cx="1274.0" cy="492.1" r="8.6" fill="#1a0f6c"/>
<circle cx="1298.7" cy="485.5" r="8.6" fill="#1b1876"/>
<circle cx="1315.2" cy="480.6" r="8.6" fill="#182180"/>
<circle cx="1338.3" cy="475.6" r="8.6" fill="#132f92"/>
<circle cx="1351.5" cy="472.3" r="8.6" fill="#10389f"/>
<circle cx="1364.7" cy="470.7" r="8.6" fill="#0c42ac"/>
<circle cx="1377.9" cy="475.6" r="8.6" fill="#094cba"/>
<circle cx="1397.7" cy="475.6" r="8.6" fill="#075dd5"/>
<circle cx="1404.2" cy="485.5" r="8.6" fill="#0961d8"/>
<circle cx="1417.4" cy="482.2" r="8.6" fill="#1364cd"/>
<circle cx="1400.9" cy="492.1" r="8.6" fill="#075fd9"/>
<circle cx="1414.1" cy="492.1" r="8.6" fill="#1063d0"/>
<circle cx="1427.3" cy="478.9" r="8.6" fill="#1965c6"/>
<circle cx="1440.5" cy="475.6" r="8.6" fill="#2066bc"/>
<circle cx="1443.8" cy="488.8" r="8.6" fill="#2266b9"/>
<circle cx="1433.9" cy="498.7" r="8.6" fill="#1c65c1"/>
<circle cx="1460.3" cy="475.6" r="8.6" fill="#2b68ad"/>
<circle cx="1470.2" cy="485.5" r="8.6" fill="#3168a4"/>
<circle cx="1483.4" cy="478.9" r="8.6" fill="#3a6897"/>
<circle cx="1463.6" cy="495.4" r="8.6" fill="#2d68aa"/>
<circle cx="1476.8" cy="498.7" r="8.6" fill="#36689e"/>
<circle cx="1496.6" cy="488.8" r="8.6" fill="#43688c"/>
<circle cx="1506.4" cy="482.2" r="8.6" fill="#4b6887"/>
<circle cx="1519.6" cy="475.6" r="8.6" fill="#556880"/>
<circle cx="1532.8" cy="478.9" r="8.6" fill="#5f6878"/>
<circle cx="1536.1" cy="492.1" r="8.6" fill="#636975"/>
<circle cx="1305.3" cy="502.0" r="8.6" fill="#1b1b79"/>
<circle cx="1318.5" cy="495.4" r="8.6" fill="#182383"/>
<circle cx="1331.7" cy="502.0" r="8.6" fill="#152b8d"/>
<circle cx="1344.9" cy="492.1" r="8.6" fill="#113498"/>
<circle cx="1358.1" cy="495.4" r="8.6" fill="#0e3da5"/>
<circle cx="1377.9" cy="492.1" r="8.6" fill="#094cba"/>
<circle cx="1387.8" cy="502.0" r="8.6" fill="#0854c8"/>
<circle cx="1400.9" cy="505.3" r="8.6" fill="#075fd9"/>
<circle cx="1450.4" cy="508.6" r="8.6" fill="#2567b4"/>
<circle cx="1463.6" cy="511.9" r="8.6" fill="#2d68aa"/>
<circle cx="1483.4" cy="508.6" r="8.6" fill="#3a6897"/>
<circle cx="1496.6" cy="511.9" r="8.6" fill="#43688c"/>
<circle cx="1516.3" cy="502.0" r="8.6" fill="#536881"/>
<circle cx="1526.2" cy="508.6" r="8.6" fill="#5a687c"/>
<circle cx="1292.2" cy="511.9" r="8.6" fill="#1b1673"/>
<circle cx="1302.0" cy="515.2" r="8.6" fill="#1b1977"/>
<circle cx="1315.2" cy="518.5" r="8.6" fill="#182180"/>
<circle cx="1328.4" cy="511.9" r="8.6" fill="#15298a"/>
<circle cx="1344.9" cy="508.6" r="8.6" fill="#113498"/>
<circle cx="1358.1" cy="518.5" r="8.6" fill="#0e3da5"/>
<circle cx="1371.3" cy="508.6" r="8.6" fill="#0a47b2"/>
<circle cx="1381.2" cy="511.9" r="8.6" fill="#094fbf"/>
<circle cx="1391.1" cy="521.8" r="8.6" fill="#0857cc"/>
<circle cx="1407.5" cy="521.8" r="8.6" fill="#0b61d5"/>
<circle cx="1417.4" cy="525.1" r="8.6" fill="#1364cd"/>
<circle cx="1298.7" cy="525.1" r="8.6" fill="#1b1876"/>
<circle cx="1311.9" cy="531.7" r="8.6" fill="#191f7e"/>
<circle cx="1331.7" cy="531.7" r="8.6" fill="#152b8d"/>
<circle cx="1344.9" cy="528.4" r="8.6" fill="#113498"/>
<circle cx="1354.8" cy="538.2" r="8.6" fill="#0f3ba2"/>
<circle cx="1377.9" cy="528.4" r="8.6" fill="#094cba"/>
<circle cx="1397.7" cy="531.7" r="8.6" fill="#075dd5"/>
<circle cx="1410.8" cy="535.0" r="8.6" fill="#0e62d3"/>
<circle cx="1433.9" cy="538.2" r="8.6" fill="#1c65c1"/>
<circle cx="1443.8" cy="535.0" r="8.6" fill="#2266b9"/>
<circle cx="1457.0" cy="535.0" r="8.6" fill="#2968b0"/>
<circle cx="1503.1" cy="525.1" r="8.6" fill="#486889"/>
<circle cx="1519.6" cy="528.4" r="8.6" fill="#556880"/>
<circle cx="1546.0" cy="518.5" r="8.6" fill="#6d6e6b"/>
<circle cx="1549.3" cy="528.4" r="8.6" fill="#707069"/>
<circle cx="1288.9" cy="551.4" r="8.6" fill="#1b1572"/>
<circle cx="1305.3" cy="548.1" r="8.6" fill="#1b1b79"/>
<circle cx="1315.2" cy="541.5" r="8.6" fill="#182180"/>
<circle cx="1325.1" cy="548.1" r="8.6" fill="#162788"/>
<circle cx="1338.3" cy="544.8" r="8.6" fill="#132f92"/>
<circle cx="1361.4" cy="544.8" r="8.6" fill="#0d40a9"/>
<circle cx="1381.2" cy="548.1" r="8.6" fill="#094fbf"/>
<circle cx="1394.4" cy="558.0" r="8.6" fill="#085ad0"/>
<circle cx="1407.5" cy="548.1" r="8.6" fill="#0b61d5"/>
<circle cx="1430.6" cy="548.1" r="8.6" fill="#1a65c3"/>
<circle cx="1447.1" cy="551.4" r="8.6" fill="#2367b7"/>
<circle cx="1463.6" cy="541.5" r="8.6" fill="#2d68aa"/>
<circle cx="1480.1" cy="548.1" r="8.6" fill="#38689a"/>
<circle cx="1490.0" cy="558.0" r="8.6" fill="#3f6891"/>
<circle cx="1506.4" cy="551.4" r="8.6" fill="#4b6887"/>
<circle cx="1539.4" cy="538.2" r="8.6" fill="#666b72"/>
<circle cx="1562.5" cy="551.4" r="8.6" fill="#7e775e"/>
<circle cx="1575.7" cy="558.0" r="8.6" fill="#8b7f51"/>
<circle cx="1585.6" cy="564.6" r="8.6" fill="#98854a"/>
<circle cx="1302.0" cy="564.6" r="8.6" fill="#1b1977"/>
<circle cx="1318.5" cy="567.9" r="8.6" fill="#182383"/>
<circle cx="1331.7" cy="564.6" r="8.6" fill="#152b8d"/>
<circle cx="1344.9" cy="564.6" r="8.6" fill="#113498"/>
<circle cx="1377.9" cy="564.6" r="8.6" fill="#094cba"/>
<circle cx="1391.1" cy="567.9" r="8.6" fill="#0857cc"/>
<circle cx="1447.1" cy="564.6" r="8.6" fill="#2367b7"/>
<circle cx="1457.0" cy="571.2" r="8.6" fill="#2968b0"/>
<circle cx="1476.8" cy="571.2" r="8.6" fill="#36689e"/>
<circle cx="1493.3" cy="571.2" r="8.6" fill="#41688e"/>
<circle cx="1526.2" cy="561.3" r="8.6" fill="#5a687c"/>
<circle cx="1588.9" cy="574.5" r="8.6" fill="#9d8647"/>
<circle cx="1590.5" cy="584.4" r="8.6" fill="#9e8746"/>
<circle cx="1582.3" cy="581.1" r="8.6" fill="#94834c"/>
<circle cx="1308.6" cy="587.7" r="8.6" fill="#1a1d7b"/>
<circle cx="1318.5" cy="597.6" r="8.6" fill="#182383"/>
<circle cx="1335.0" cy="587.7" r="8.6" fill="#142d8f"/>
<circle cx="1331.7" cy="600.9" r="8.6" fill="#152b8d"/>
<circle cx="1371.3" cy="584.4" r="8.6" fill="#0a47b2"/>
<circle cx="1377.9" cy="594.3" r="8.6" fill="#094cba"/>
<circle cx="1430.6" cy="587.7" r="8.6" fill="#1a65c3"/>
<circle cx="1427.3" cy="597.6" r="8.6" fill="#1965c6"/>
<circle cx="1440.5" cy="594.3" r="8.6" fill="#2066bc"/>
<circle cx="1457.0" cy="584.4" r="8.6" fill="#2968b0"/>
<circle cx="1473.5" cy="584.4" r="8.6" fill="#3468a1"/>
<circle cx="1529.5" cy="581.1" r="8.6" fill="#5d687a"/>
<circle cx="1275.7" cy="610.8" r="8.6" fill="#1a106d"/>
<circle cx="1295.5" cy="610.8" r="8.6" fill="#1b1775"/>
<circle cx="1344.9" cy="607.5" r="8.6" fill="#113498"/>
<circle cx="1358.1" cy="614.1" r="8.6" fill="#0e3da5"/>
<circle cx="1335.0" cy="607.5" r="8.6" fill="#142d8f"/>
<circle cx="1387.8" cy="604.2" r="8.6" fill="#0854c8"/>
<circle cx="1404.2" cy="600.9" r="8.6" fill="#0961d8"/>
<circle cx="1427.3" cy="600.9" r="8.6" fill="#1965c6"/>
<circle cx="1463.6" cy="604.2" r="8.6" fill="#2d68aa"/>
<circle cx="1476.8" cy="614.1" r="8.6" fill="#36689e"/>
<circle cx="1470.2" cy="620.7" r="8.6" fill="#3168a4"/>
<circle cx="1503.1" cy="610.8" r="8.6" fill="#486889"/>
<circle cx="1527.9" cy="604.2" r="8.6" fill="#5c687b"/>
<circle cx="1443.8" cy="620.7" r="8.6" fill="#2266b9"/>
<circle cx="1491.6" cy="627.3" r="8.6" fill="#406890"/>
<circle cx="1577.3" cy="633.9" r="8.6" fill="#8d8050"/>
<circle cx="1486.7" cy="647.0" r="8.6" fill="#3c6894"/>
<circle cx="1372.9" cy="666.8" r="8.6" fill="#0a48b4"/>
<circle cx="1448.7" cy="673.4" r="8.6" fill="#2467b6"/>
<circle cx="1570.7" cy="661.9" r="8.6" fill="#867c56"/>
<line x1="1246.3" x2="1846" y1="121.8" y2="121.8" stroke="#000" stroke-width="3.6" stroke-dasharray="15 17.5"/>
</g>
<rect x="1246.3" y="80" width="599.7" height="622.0" fill="none" stroke="#333333" stroke-width="2.2"/>
<line x1="1304.7" x2="1304.7" y1="702" y2="712.5" stroke="#333333" stroke-width="3.2"/>
<text x="1304.7" y="746.2" text-anchor="middle" class="tk">0.1</text>
<line x1="1419.3" x2="1419.3" y1="702" y2="712.5" stroke="#333333" stroke-width="3.2"/>
<text x="1419.3" y="746.2" text-anchor="middle" class="tk">0.2</text>
<line x1="1533.9" x2="1533.9" y1="702" y2="712.5" stroke="#333333" stroke-width="3.2"/>
<text x="1533.9" y="746.2" text-anchor="middle" class="tk">0.3</text>
<line x1="1648.5" x2="1648.5" y1="702" y2="712.5" stroke="#333333" stroke-width="3.2"/>
<text x="1648.5" y="746.2" text-anchor="middle" class="tk">0.4</text>
<line x1="1763.1" x2="1763.1" y1="702" y2="712.5" stroke="#333333" stroke-width="3.2"/>
<text x="1763.1" y="746.2" text-anchor="middle" class="tk">0.5</text>
<line x1="1235.8" x2="1246.3" y1="198.4" y2="198.4" stroke="#333333" stroke-width="3.2"/>
<text x="1225.8" y="210.5" text-anchor="end" class="tk">0.3</text>
<line x1="1235.8" x2="1246.3" y1="326.8" y2="326.8" stroke="#333333" stroke-width="3.2"/>
<text x="1225.8" y="338.9" text-anchor="end" class="tk">0.2</text>
<line x1="1235.8" x2="1246.3" y1="455.2" y2="455.2" stroke="#333333" stroke-width="3.2"/>
<text x="1225.8" y="467.3" text-anchor="end" class="tk">0.1</text>
<line x1="1235.8" x2="1246.3" y1="583.6" y2="583.6" stroke="#333333" stroke-width="3.2"/>
<text x="1225.8" y="595.7" text-anchor="end" class="tk">0.0</text>
<text x="1546.2" y="793.5" text-anchor="middle" class="at">Transcriptome Correlation</text>
<text transform="translate(1159.7,391.0) rotate(-90)" text-anchor="middle" class="at">Spearman ρ (mutation effect)</text>
<text x="1726" y="632.5" text-anchor="middle" class="an">ρ=0.58</text>
<text x="1726" y="686.0" text-anchor="middle" class="an">(p&lt;2.2<tspan dx="8.5" style="font-size:50px">×</tspan><tspan dx="8.5">10</tspan><tspan class="sup" dy="-15.4">-16</tspan><tspan dy="15.4" dx="4">)</tspan></text>
</g>
<g id="pC">
<rect x="506" y="822.7" width="588.5" height="622.3" fill="#fff"/>
<clipPath id="cC"><rect x="506" y="822.7" width="588.5" height="622.3"/></clipPath>
<g clip-path="url(#cC)">
<line x1="506" x2="1094.5" y1="860.7" y2="860.7" stroke="#e7e7e7" stroke-width="2.3"/>
<line x1="506" x2="1094.5" y1="1017.3" y2="1017.3" stroke="#e7e7e7" stroke-width="2.3"/>
<line x1="506" x2="1094.5" y1="1173.8" y2="1173.8" stroke="#e7e7e7" stroke-width="2.3"/>
<line x1="506" x2="1094.5" y1="1330.3" y2="1330.3" stroke="#e7e7e7" stroke-width="2.3"/>
<line x1="468.7" x2="468.7" y1="822.7" y2="1445" stroke="#e7e7e7" stroke-width="2.3"/>
<line x1="613.5" x2="613.5" y1="822.7" y2="1445" stroke="#e7e7e7" stroke-width="2.3"/>
<line x1="758.3" x2="758.3" y1="822.7" y2="1445" stroke="#e7e7e7" stroke-width="2.3"/>
<line x1="903.1" x2="903.1" y1="822.7" y2="1445" stroke="#e7e7e7" stroke-width="2.3"/>
<line x1="1047.9" x2="1047.9" y1="822.7" y2="1445" stroke="#e7e7e7" stroke-width="2.3"/>
<line x1="506" x2="1094.5" y1="939.0" y2="939.0" stroke="#e7e7e7" stroke-width="3.8"/>
<line x1="506" x2="1094.5" y1="1095.5" y2="1095.5" stroke="#e7e7e7" stroke-width="3.8"/>
<line x1="506" x2="1094.5" y1="1252.1" y2="1252.1" stroke="#e7e7e7" stroke-width="3.8"/>
<line x1="506" x2="1094.5" y1="1408.6" y2="1408.6" stroke="#e7e7e7" stroke-width="3.8"/>
<line x1="541.1" x2="541.1" y1="822.7" y2="1445" stroke="#e7e7e7" stroke-width="3.8"/>
<line x1="685.9" x2="685.9" y1="822.7" y2="1445" stroke="#e7e7e7" stroke-width="3.8"/>
<line x1="830.7" x2="830.7" y1="822.7" y2="1445" stroke="#e7e7e7" stroke-width="3.8"/>
<line x1="975.5" x2="975.5" y1="822.7" y2="1445" stroke="#e7e7e7" stroke-width="3.8"/>
<circle cx="678.7" cy="1068.3" r="8.6" fill="#1564ca"/>
<circle cx="694.3" cy="1067.1" r="8.6" fill="#1e66bf"/>
<circle cx="715.6" cy="1068.0" r="8.6" fill="#2a68ae"/>
<circle cx="733.1" cy="1067.9" r="8.6" fill="#36689e"/>
<circle cx="750.4" cy="1070.7" r="8.6" fill="#42688e"/>
<circle cx="769.4" cy="1070.6" r="8.6" fill="#506883"/>
<circle cx="788.7" cy="1066.4" r="8.6" fill="#606878"/>
<circle cx="667.9" cy="1085.2" r="8.6" fill="#0d62d3"/>
<circle cx="688.1" cy="1084.1" r="8.6" fill="#1a65c3"/>
<circle cx="705.6" cy="1086.0" r="8.6" fill="#2467b6"/>
<circle cx="724.0" cy="1085.3" r="8.6" fill="#2f68a6"/>
<circle cx="742.7" cy="1087.7" r="8.6" fill="#3c6895"/>
<circle cx="759.8" cy="1085.5" r="8.6" fill="#496888"/>
<circle cx="782.9" cy="1083.6" r="8.6" fill="#5b687b"/>
<circle cx="799.0" cy="1083.3" r="8.6" fill="#6b6d6d"/>
<circle cx="656.6" cy="1101.1" r="8.6" fill="#075dd6"/>
<circle cx="677.9" cy="1100.7" r="8.6" fill="#1564cb"/>
<circle cx="697.4" cy="1102.4" r="8.6" fill="#2066bc"/>
<circle cx="717.0" cy="1102.2" r="8.6" fill="#2b68ad"/>
<circle cx="734.9" cy="1102.5" r="8.6" fill="#37689c"/>
<circle cx="753.0" cy="1103.9" r="8.6" fill="#44688c"/>
<circle cx="770.4" cy="1103.6" r="8.6" fill="#516882"/>
<circle cx="793.0" cy="1100.2" r="8.6" fill="#646a74"/>
<circle cx="650.3" cy="1117.6" r="8.6" fill="#0858cd"/>
<circle cx="665.2" cy="1118.0" r="8.6" fill="#0b61d6"/>
<circle cx="683.8" cy="1117.8" r="8.6" fill="#1865c7"/>
<circle cx="705.9" cy="1118.2" r="8.6" fill="#2467b6"/>
<circle cx="725.1" cy="1119.0" r="8.6" fill="#3068a5"/>
<circle cx="742.0" cy="1119.8" r="8.6" fill="#3c6895"/>
<circle cx="761.3" cy="1120.0" r="8.6" fill="#4a6888"/>
<circle cx="780.2" cy="1116.1" r="8.6" fill="#59687d"/>
<circle cx="798.5" cy="1119.6" r="8.6" fill="#6a6d6e"/>
<circle cx="656.0" cy="1136.0" r="8.6" fill="#075dd5"/>
<circle cx="678.2" cy="1134.1" r="8.6" fill="#1564cb"/>
<circle cx="695.5" cy="1135.3" r="8.6" fill="#1e66be"/>
<circle cx="712.2" cy="1132.6" r="8.6" fill="#2868b1"/>
<circle cx="731.2" cy="1133.1" r="8.6" fill="#3468a0"/>
<circle cx="753.0" cy="1134.2" r="8.6" fill="#44688c"/>
<circle cx="772.4" cy="1136.8" r="8.6" fill="#536881"/>
<circle cx="792.3" cy="1135.8" r="8.6" fill="#636a75"/>
<circle cx="667.7" cy="1151.4" r="8.6" fill="#0d62d3"/>
<circle cx="686.3" cy="1149.6" r="8.6" fill="#1965c5"/>
<circle cx="706.7" cy="1153.3" r="8.6" fill="#2567b5"/>
<circle cx="725.1" cy="1149.0" r="8.6" fill="#3068a5"/>
<circle cx="741.4" cy="1151.5" r="8.6" fill="#3b6896"/>
<circle cx="762.1" cy="1150.3" r="8.6" fill="#4b6887"/>
<circle cx="782.4" cy="1150.7" r="8.6" fill="#5b687c"/>
<circle cx="798.7" cy="1150.1" r="8.6" fill="#6a6d6e"/>
<circle cx="678.9" cy="1169.5" r="8.6" fill="#1564ca"/>
<circle cx="697.2" cy="1167.5" r="8.6" fill="#1f66bc"/>
<circle cx="712.7" cy="1165.9" r="8.6" fill="#2868b1"/>
<circle cx="732.3" cy="1168.0" r="8.6" fill="#35689f"/>
<circle cx="753.2" cy="1169.6" r="8.6" fill="#44688c"/>
<circle cx="772.2" cy="1168.4" r="8.6" fill="#536881"/>
<circle cx="788.7" cy="1168.7" r="8.6" fill="#606878"/>
<circle cx="777.4" cy="1177.5" r="8.6" fill="#57687f"/>
<circle cx="657.6" cy="1197.3" r="8.6" fill="#075ed7"/>
<circle cx="683.0" cy="1197.4" r="8.6" fill="#1865c7"/>
<circle cx="710.9" cy="1200.8" r="8.6" fill="#2767b2"/>
<circle cx="735.4" cy="1198.6" r="8.6" fill="#37689c"/>
<circle cx="762.8" cy="1197.8" r="8.6" fill="#4b6887"/>
<circle cx="787.9" cy="1197.4" r="8.6" fill="#5f6879"/>
<circle cx="667.4" cy="1223.8" r="8.6" fill="#0d62d4"/>
<circle cx="695.7" cy="1222.6" r="8.6" fill="#1f66bd"/>
<circle cx="724.3" cy="1219.9" r="8.6" fill="#3068a6"/>
<circle cx="751.1" cy="1219.9" r="8.6" fill="#42688d"/>
<circle cx="775.4" cy="1224.0" r="8.6" fill="#556880"/>
<circle cx="682.6" cy="1243.5" r="8.6" fill="#1765c7"/>
<circle cx="706.7" cy="1244.1" r="8.6" fill="#2567b5"/>
<circle cx="734.5" cy="1245.4" r="8.6" fill="#37689c"/>
<circle cx="764.2" cy="1247.3" r="8.6" fill="#4c6886"/>
<circle cx="798.4" cy="848.8" r="8.6" fill="#6a6d6e"/>
<circle cx="893.7" cy="848.8" r="8.6" fill="#d59c05"/>
<circle cx="714.4" cy="853.7" r="8.6" fill="#2968af"/>
<circle cx="628.8" cy="869.8" r="8.6" fill="#0b46b1"/>
<circle cx="1010.0" cy="866.6" r="8.6" fill="#ff7c00"/>
<circle cx="674.0" cy="884.4" r="8.6" fill="#1263ce"/>
<circle cx="863.0" cy="883.7" r="8.6" fill="#b18c37"/>
<circle cx="977.7" cy="883.7" r="8.6" fill="#ff8e00"/>
<circle cx="651.4" cy="901.2" r="8.6" fill="#0859cf"/>
<circle cx="691.8" cy="898.9" r="8.6" fill="#1c66c0"/>
<circle cx="690.2" cy="910.2" r="8.6" fill="#1c65c2"/>
<circle cx="728.9" cy="905.4" r="8.6" fill="#3368a2"/>
<circle cx="766.1" cy="910.2" r="8.6" fill="#4e6885"/>
<circle cx="775.8" cy="903.8" r="8.6" fill="#56687f"/>
<circle cx="780.6" cy="907.7" r="8.6" fill="#59687d"/>
<circle cx="837.2" cy="899.9" r="8.6" fill="#95834c"/>
<circle cx="607.8" cy="925.7" r="8.6" fill="#10369c"/>
<circle cx="648.2" cy="921.5" r="8.6" fill="#0856ca"/>
<circle cx="667.6" cy="926.4" r="8.6" fill="#0d62d4"/>
<circle cx="798.4" cy="926.4" r="8.6" fill="#6a6d6e"/>
<circle cx="869.5" cy="927.0" r="8.6" fill="#b79031"/>
<circle cx="895.3" cy="919.9" r="8.6" fill="#d79d04"/>
<circle cx="929.3" cy="920.6" r="8.6" fill="#ffad00"/>
<circle cx="963.2" cy="929.6" r="8.6" fill="#ff9b00"/>
<circle cx="706.3" cy="942.5" r="8.6" fill="#2567b5"/>
<circle cx="693.4" cy="953.9" r="8.6" fill="#1d66bf"/>
<circle cx="746.7" cy="944.2" r="8.6" fill="#3f6891"/>
<circle cx="756.4" cy="945.1" r="8.6" fill="#46688a"/>
<circle cx="769.3" cy="947.4" r="8.6" fill="#506883"/>
<circle cx="780.6" cy="952.2" r="8.6" fill="#59687d"/>
<circle cx="653.0" cy="953.9" r="8.6" fill="#085ad1"/>
<circle cx="662.7" cy="965.2" r="8.6" fill="#0961d8"/>
<circle cx="908.3" cy="955.5" r="8.6" fill="#e5a400"/>
<circle cx="958.3" cy="950.6" r="8.6" fill="#ff9f00"/>
<circle cx="948.6" cy="961.9" r="8.6" fill="#ffa500"/>
<circle cx="1011.7" cy="952.2" r="8.6" fill="#ff7b00"/>
<circle cx="1069.8" cy="963.5" r="8.6" fill="#ff5800"/>
<circle cx="625.5" cy="966.8" r="8.6" fill="#0c43ae"/>
<circle cx="764.5" cy="971.6" r="8.6" fill="#4d6886"/>
<circle cx="795.2" cy="967.4" r="8.6" fill="#676b71"/>
<circle cx="581.9" cy="979.7" r="8.6" fill="#172586"/>
<circle cx="572.2" cy="989.4" r="8.6" fill="#191f7e"/>
<circle cx="699.9" cy="974.9" r="8.6" fill="#2166ba"/>
<circle cx="693.4" cy="986.2" r="8.6" fill="#1d66bf"/>
<circle cx="677.2" cy="989.4" r="8.6" fill="#1464cc"/>
<circle cx="722.5" cy="981.3" r="8.6" fill="#2e68a8"/>
<circle cx="732.2" cy="982.9" r="8.6" fill="#35689f"/>
<circle cx="741.9" cy="994.2" r="8.6" fill="#3c6895"/>
<circle cx="735.4" cy="1002.3" r="8.6" fill="#37689c"/>
<circle cx="772.6" cy="982.9" r="8.6" fill="#536881"/>
<circle cx="788.7" cy="987.8" r="8.6" fill="#606878"/>
<circle cx="628.8" cy="986.2" r="8.6" fill="#0b46b1"/>
<circle cx="644.9" cy="997.5" r="8.6" fill="#0953c6"/>
<circle cx="961.6" cy="982.9" r="8.6" fill="#ff9c00"/>
<circle cx="943.8" cy="991.0" r="8.6" fill="#ffa700"/>
<circle cx="943.8" cy="1005.6" r="8.6" fill="#ffa700"/>
<circle cx="914.7" cy="1007.2" r="8.6" fill="#efa800"/>
<circle cx="1018.1" cy="1013.6" r="8.6" fill="#ff7700"/>
<circle cx="754.8" cy="1005.6" r="8.6" fill="#45688b"/>
<circle cx="661.1" cy="1013.6" r="8.6" fill="#0860d9"/>
<circle cx="672.4" cy="1016.2" r="8.6" fill="#1163d0"/>
<circle cx="686.9" cy="1012.0" r="8.6" fill="#1a65c4"/>
<circle cx="690.2" cy="1020.1" r="8.6" fill="#1c65c2"/>
<circle cx="719.2" cy="1018.5" r="8.6" fill="#2c68ab"/>
<circle cx="720.9" cy="1029.8" r="8.6" fill="#2d68a9"/>
<circle cx="764.5" cy="1023.3" r="8.6" fill="#4d6886"/>
<circle cx="758.0" cy="1033.0" r="8.6" fill="#486889"/>
<circle cx="604.5" cy="1021.7" r="8.6" fill="#113499"/>
<circle cx="796.8" cy="1029.8" r="8.6" fill="#686c70"/>
<circle cx="827.5" cy="1031.4" r="8.6" fill="#887e54"/>
<circle cx="914.7" cy="1033.0" r="8.6" fill="#efa800"/>
<circle cx="926.0" cy="1045.9" r="8.6" fill="#ffae00"/>
<circle cx="966.4" cy="1037.9" r="8.6" fill="#ff9800"/>
<circle cx="565.8" cy="1045.9" r="8.6" fill="#1b1b79"/>
<circle cx="590.0" cy="1042.7" r="8.6" fill="#152a8c"/>
<circle cx="659.5" cy="1044.3" r="8.6" fill="#0760da"/>
<circle cx="678.9" cy="1042.7" r="8.6" fill="#1564ca"/>
<circle cx="732.2" cy="1039.5" r="8.6" fill="#35689f"/>
<circle cx="745.1" cy="1045.9" r="8.6" fill="#3e6892"/>
<circle cx="780.6" cy="1047.6" r="8.6" fill="#59687d"/>
<circle cx="777.4" cy="1055.6" r="8.6" fill="#57687f"/>
<circle cx="630.4" cy="1055.6" r="8.6" fill="#0a47b3"/>
<circle cx="641.7" cy="1058.9" r="8.6" fill="#0951c1"/>
<circle cx="638.5" cy="1068.6" r="8.6" fill="#094ebd"/>
<circle cx="667.6" cy="1062.1" r="8.6" fill="#0d62d4"/>
<circle cx="677.2" cy="1063.7" r="8.6" fill="#1464cc"/>
<circle cx="686.9" cy="1068.6" r="8.6" fill="#1a65c4"/>
<circle cx="696.6" cy="1063.7" r="8.6" fill="#1f66bd"/>
<circle cx="706.3" cy="1062.1" r="8.6" fill="#2567b5"/>
<circle cx="716.0" cy="1055.6" r="8.6" fill="#2a68ae"/>
<circle cx="725.7" cy="1062.1" r="8.6" fill="#3168a5"/>
<circle cx="751.6" cy="1060.5" r="8.6" fill="#42688d"/>
<circle cx="764.5" cy="1068.6" r="8.6" fill="#4d6886"/>
<circle cx="777.4" cy="1063.7" r="8.6" fill="#57687f"/>
<circle cx="790.3" cy="1062.1" r="8.6" fill="#616977"/>
<circle cx="798.4" cy="1068.6" r="8.6" fill="#6a6d6e"/>
<circle cx="880.8" cy="1054.0" r="8.6" fill="#c39523"/>
<circle cx="893.7" cy="1070.2" r="8.6" fill="#d59c05"/>
<circle cx="951.9" cy="1062.1" r="8.6" fill="#ffa300"/>
<circle cx="961.6" cy="1060.5" r="8.6" fill="#ff9c00"/>
<circle cx="968.0" cy="1057.2" r="8.6" fill="#ff9700"/>
<circle cx="932.5" cy="1073.4" r="8.6" fill="#ffac00"/>
<circle cx="990.7" cy="1079.9" r="8.6" fill="#ff8600"/>
<circle cx="1010.0" cy="1076.6" r="8.6" fill="#ff7c00"/>
<circle cx="1024.6" cy="1071.8" r="8.6" fill="#ff7300"/>
<circle cx="552.8" cy="1079.9" r="8.6" fill="#1b1673"/>
<circle cx="667.6" cy="1078.3" r="8.6" fill="#0d62d4"/>
<circle cx="680.5" cy="1081.5" r="8.6" fill="#1664c9"/>
<circle cx="699.9" cy="1081.5" r="8.6" fill="#2166ba"/>
<circle cx="712.8" cy="1078.3" r="8.6" fill="#2868b0"/>
<circle cx="725.7" cy="1081.5" r="8.6" fill="#3168a5"/>
<circle cx="738.6" cy="1081.5" r="8.6" fill="#396899"/>
<circle cx="751.6" cy="1078.3" r="8.6" fill="#42688d"/>
<circle cx="774.2" cy="1075.0" r="8.6" fill="#546880"/>
<circle cx="787.1" cy="1081.5" r="8.6" fill="#5e6879"/>
<circle cx="800.0" cy="1078.3" r="8.6" fill="#6c6e6c"/>
<circle cx="816.2" cy="1079.9" r="8.6" fill="#7d765f"/>
<circle cx="835.6" cy="1079.9" r="8.6" fill="#92824d"/>
<circle cx="648.2" cy="1087.9" r="8.6" fill="#0856ca"/>
<circle cx="602.9" cy="1091.2" r="8.6" fill="#123397"/>
<circle cx="599.7" cy="1097.6" r="8.6" fill="#133094"/>
<circle cx="619.1" cy="1094.4" r="8.6" fill="#0d3fa7"/>
<circle cx="602.9" cy="1104.1" r="8.6" fill="#123397"/>
<circle cx="661.1" cy="1097.6" r="8.6" fill="#0860d9"/>
<circle cx="670.8" cy="1091.2" r="8.6" fill="#0f63d1"/>
<circle cx="686.9" cy="1097.6" r="8.6" fill="#1a65c4"/>
<circle cx="699.9" cy="1100.9" r="8.6" fill="#2166ba"/>
<circle cx="712.8" cy="1094.4" r="8.6" fill="#2868b0"/>
<circle cx="728.9" cy="1097.6" r="8.6" fill="#3368a2"/>
<circle cx="741.9" cy="1094.4" r="8.6" fill="#3c6895"/>
<circle cx="758.0" cy="1091.2" r="8.6" fill="#486889"/>
<circle cx="774.2" cy="1097.6" r="8.6" fill="#546880"/>
<circle cx="790.3" cy="1091.2" r="8.6" fill="#616977"/>
<circle cx="812.9" cy="1100.9" r="8.6" fill="#797562"/>
<circle cx="829.1" cy="1102.5" r="8.6" fill="#8a7f52"/>
<circle cx="838.8" cy="1115.4" r="8.6" fill="#97844b"/>
<circle cx="879.2" cy="1087.9" r="8.6" fill="#c09427"/>
<circle cx="926.0" cy="1091.2" r="8.6" fill="#ffae00"/>
<circle cx="942.2" cy="1107.3" r="8.6" fill="#ffa800"/>
<circle cx="1026.2" cy="1097.6" r="8.6" fill="#ff7200"/>
<circle cx="1045.6" cy="1101.5" r="8.6" fill="#ff6500"/>
<circle cx="990.7" cy="1107.3" r="8.6" fill="#ff8600"/>
<circle cx="573.9" cy="1103.5" r="8.6" fill="#19207f"/>
<circle cx="635.2" cy="1108.9" r="8.6" fill="#0a4bb9"/>
<circle cx="657.9" cy="1107.3" r="8.6" fill="#075ed7"/>
<circle cx="674.0" cy="1113.8" r="8.6" fill="#1263ce"/>
<circle cx="686.9" cy="1117.0" r="8.6" fill="#1a65c4"/>
<circle cx="703.1" cy="1113.8" r="8.6" fill="#2367b8"/>
<circle cx="716.0" cy="1120.3" r="8.6" fill="#2a68ae"/>
<circle cx="732.2" cy="1113.8" r="8.6" fill="#35689f"/>
<circle cx="748.3" cy="1107.3" r="8.6" fill="#40688f"/>
<circle cx="761.3" cy="1113.8" r="8.6" fill="#4a6888"/>
<circle cx="774.2" cy="1117.0" r="8.6" fill="#546880"/>
<circle cx="787.1" cy="1110.6" r="8.6" fill="#5e6879"/>
<circle cx="800.0" cy="1113.8" r="8.6" fill="#6c6e6c"/>
<circle cx="620.7" cy="1126.7" r="8.6" fill="#0d40a9"/>
<circle cx="614.2" cy="1133.2" r="8.6" fill="#0f3ba2"/>
<circle cx="638.5" cy="1129.9" r="8.6" fill="#094ebd"/>
<circle cx="651.4" cy="1128.3" r="8.6" fill="#0859cf"/>
<circle cx="667.6" cy="1129.9" r="8.6" fill="#0d62d4"/>
<circle cx="680.5" cy="1133.2" r="8.6" fill="#1664c9"/>
<circle cx="696.6" cy="1129.9" r="8.6" fill="#1f66bd"/>
<circle cx="709.6" cy="1133.2" r="8.6" fill="#2667b3"/>
<circle cx="725.7" cy="1126.7" r="8.6" fill="#3168a5"/>
<circle cx="741.9" cy="1129.9" r="8.6" fill="#3c6895"/>
<circle cx="754.8" cy="1133.2" r="8.6" fill="#45688b"/>
<circle cx="767.7" cy="1129.9" r="8.6" fill="#4f6884"/>
<circle cx="783.9" cy="1126.7" r="8.6" fill="#5c687b"/>
<circle cx="796.8" cy="1133.2" r="8.6" fill="#686c70"/>
<circle cx="872.7" cy="1134.8" r="8.6" fill="#ba912e"/>
<circle cx="914.7" cy="1144.5" r="8.6" fill="#efa800"/>
<circle cx="987.4" cy="1136.4" r="8.6" fill="#ff8800"/>
<circle cx="997.1" cy="1126.7" r="8.6" fill="#ff8300"/>
<circle cx="1023.0" cy="1120.3" r="8.6" fill="#ff7400"/>
<circle cx="531.8" cy="1147.7" r="8.6" fill="#1a0e6b"/>
<circle cx="628.8" cy="1154.2" r="8.6" fill="#0b46b1"/>
<circle cx="644.9" cy="1146.1" r="8.6" fill="#0953c6"/>
<circle cx="657.9" cy="1149.3" r="8.6" fill="#075ed7"/>
<circle cx="670.8" cy="1146.1" r="8.6" fill="#0f63d1"/>
<circle cx="686.9" cy="1146.1" r="8.6" fill="#1a65c4"/>
<circle cx="699.9" cy="1152.6" r="8.6" fill="#2166ba"/>
<circle cx="712.8" cy="1146.1" r="8.6" fill="#2868b0"/>
<circle cx="725.7" cy="1149.3" r="8.6" fill="#3168a5"/>
<circle cx="738.6" cy="1152.6" r="8.6" fill="#396899"/>
<circle cx="751.6" cy="1146.1" r="8.6" fill="#42688d"/>
<circle cx="764.5" cy="1149.3" r="8.6" fill="#4d6886"/>
<circle cx="777.4" cy="1146.1" r="8.6" fill="#57687f"/>
<circle cx="790.3" cy="1152.6" r="8.6" fill="#616977"/>
<circle cx="809.7" cy="1144.5" r="8.6" fill="#767365"/>
<circle cx="651.4" cy="1159.0" r="8.6" fill="#0859cf"/>
<circle cx="664.3" cy="1162.3" r="8.6" fill="#0a61d6"/>
<circle cx="677.2" cy="1165.5" r="8.6" fill="#1464cc"/>
<circle cx="690.2" cy="1162.3" r="8.6" fill="#1c65c2"/>
<circle cx="706.3" cy="1168.7" r="8.6" fill="#2567b5"/>
<circle cx="719.2" cy="1165.5" r="8.6" fill="#2c68ab"/>
<circle cx="732.2" cy="1168.7" r="8.6" fill="#35689f"/>
<circle cx="745.1" cy="1162.3" r="8.6" fill="#3e6892"/>
<circle cx="758.0" cy="1165.5" r="8.6" fill="#486889"/>
<circle cx="770.9" cy="1162.3" r="8.6" fill="#526882"/>
<circle cx="649.8" cy="1171.9" r="8.6" fill="#0857cc"/>
<circle cx="693.4" cy="1175.2" r="8.6" fill="#1d66bf"/>
<circle cx="699.9" cy="1181.6" r="8.6" fill="#2166ba"/>
<circle cx="801.6" cy="1178.4" r="8.6" fill="#6d6f6b"/>
<circle cx="808.1" cy="1184.9" r="8.6" fill="#747266"/>
<circle cx="851.7" cy="1181.6" r="8.6" fill="#a58940"/>
<circle cx="874.3" cy="1171.9" r="8.6" fill="#bc922c"/>
<circle cx="888.9" cy="1189.7" r="8.6" fill="#d0990c"/>
<circle cx="625.5" cy="1186.5" r="8.6" fill="#0c43ae"/>
<circle cx="625.5" cy="1193.0" r="8.6" fill="#0c43ae"/>
<circle cx="654.6" cy="1197.8" r="8.6" fill="#085cd3"/>
<circle cx="674.0" cy="1191.3" r="8.6" fill="#1263ce"/>
<circle cx="680.5" cy="1201.0" r="8.6" fill="#1664c9"/>
<circle cx="674.0" cy="1210.7" r="8.6" fill="#1263ce"/>
<circle cx="686.9" cy="1207.5" r="8.6" fill="#1a65c4"/>
<circle cx="712.8" cy="1199.4" r="8.6" fill="#2868b0"/>
<circle cx="732.2" cy="1201.0" r="8.6" fill="#35689f"/>
<circle cx="745.1" cy="1193.0" r="8.6" fill="#3e6892"/>
<circle cx="725.7" cy="1210.7" r="8.6" fill="#3168a5"/>
<circle cx="770.9" cy="1184.9" r="8.6" fill="#526882"/>
<circle cx="764.5" cy="1194.6" r="8.6" fill="#4d6886"/>
<circle cx="783.9" cy="1197.8" r="8.6" fill="#5c687b"/>
<circle cx="780.6" cy="1210.7" r="8.6" fill="#59687d"/>
<circle cx="806.5" cy="1201.0" r="8.6" fill="#737167"/>
<circle cx="801.6" cy="1214.0" r="8.6" fill="#6d6f6b"/>
<circle cx="672.4" cy="1226.9" r="8.6" fill="#1163d0"/>
<circle cx="619.1" cy="1225.3" r="8.6" fill="#0d3fa7"/>
<circle cx="696.6" cy="1223.6" r="8.6" fill="#1f66bd"/>
<circle cx="706.3" cy="1230.1" r="8.6" fill="#2567b5"/>
<circle cx="719.2" cy="1226.9" r="8.6" fill="#2c68ab"/>
<circle cx="738.6" cy="1226.9" r="8.6" fill="#396899"/>
<circle cx="758.0" cy="1220.4" r="8.6" fill="#486889"/>
<circle cx="764.5" cy="1230.1" r="8.6" fill="#4d6886"/>
<circle cx="774.2" cy="1239.8" r="8.6" fill="#546880"/>
<circle cx="814.6" cy="1236.6" r="8.6" fill="#7b7661"/>
<circle cx="706.3" cy="1243.0" r="8.6" fill="#2567b5"/>
<circle cx="712.8" cy="1249.5" r="8.6" fill="#2868b0"/>
<circle cx="746.7" cy="1239.8" r="8.6" fill="#3f6891"/>
<circle cx="654.6" cy="1243.0" r="8.6" fill="#085cd3"/>
<circle cx="648.2" cy="1249.5" r="8.6" fill="#0856ca"/>
<circle cx="635.2" cy="1254.3" r="8.6" fill="#0a4bb9"/>
<circle cx="659.5" cy="1252.7" r="8.6" fill="#0760da"/>
<circle cx="780.6" cy="1246.3" r="8.6" fill="#59687d"/>
<circle cx="787.1" cy="1256.0" r="8.6" fill="#5e6879"/>
<circle cx="790.3" cy="1272.1" r="8.6" fill="#616977"/>
<circle cx="690.2" cy="1265.6" r="8.6" fill="#1c65c2"/>
<circle cx="699.9" cy="1270.5" r="8.6" fill="#2166ba"/>
<circle cx="711.2" cy="1273.7" r="8.6" fill="#2768b2"/>
<circle cx="716.0" cy="1278.6" r="8.6" fill="#2a68ae"/>
<circle cx="735.4" cy="1267.3" r="8.6" fill="#37689c"/>
<circle cx="751.6" cy="1259.2" r="8.6" fill="#42688d"/>
<circle cx="758.0" cy="1268.9" r="8.6" fill="#486889"/>
<circle cx="754.8" cy="1280.2" r="8.6" fill="#45688b"/>
<circle cx="877.6" cy="1264.0" r="8.6" fill="#bf9329"/>
<circle cx="649.8" cy="1286.7" r="8.6" fill="#0857cc"/>
<circle cx="737.0" cy="1288.3" r="8.6" fill="#38689a"/>
<circle cx="746.7" cy="1299.6" r="8.6" fill="#3f6891"/>
<circle cx="770.9" cy="1307.7" r="8.6" fill="#526882"/>
<circle cx="743.5" cy="1315.7" r="8.6" fill="#3d6894"/>
<circle cx="754.8" cy="1319.0" r="8.6" fill="#45688b"/>
<circle cx="764.5" cy="1327.0" r="8.6" fill="#4d6886"/>
<circle cx="812.9" cy="1320.6" r="8.6" fill="#797562"/>
<circle cx="704.7" cy="1330.3" r="8.6" fill="#2467b7"/>
<circle cx="690.2" cy="1333.5" r="8.6" fill="#1c65c2"/>
<circle cx="707.9" cy="1336.7" r="8.6" fill="#2567b4"/>
<circle cx="764.5" cy="1354.5" r="8.6" fill="#4d6886"/>
<circle cx="620.7" cy="1378.7" r="8.6" fill="#0d40a9"/>
<circle cx="682.1" cy="1396.5" r="8.6" fill="#1765c8"/>
<circle cx="693.4" cy="1417.5" r="8.6" fill="#1d66bf"/>
<circle cx="714.4" cy="1411.0" r="8.6" fill="#2968af"/>
<line x1="506" x2="1094.5" y1="933.8" y2="933.8" stroke="#000" stroke-width="3.6" stroke-dasharray="15 17.5"/>
</g>
<rect x="506" y="822.7" width="588.5" height="622.3" fill="none" stroke="#333333" stroke-width="2.2"/>
<line x1="541.1" x2="541.1" y1="1445" y2="1455.5" stroke="#333333" stroke-width="3.2"/>
<text x="541.1" y="1489.2" text-anchor="middle" class="tk">0.3</text>
<line x1="685.9" x2="685.9" y1="1445" y2="1455.5" stroke="#333333" stroke-width="3.2"/>
<text x="685.9" y="1489.2" text-anchor="middle" class="tk">0.4</text>
<line x1="830.7" x2="830.7" y1="1445" y2="1455.5" stroke="#333333" stroke-width="3.2"/>
<text x="830.7" y="1489.2" text-anchor="middle" class="tk">0.5</text>
<line x1="975.5" x2="975.5" y1="1445" y2="1455.5" stroke="#333333" stroke-width="3.2"/>
<text x="975.5" y="1489.2" text-anchor="middle" class="tk">0.6</text>
<line x1="495.5" x2="506" y1="939.0" y2="939.0" stroke="#333333" stroke-width="3.2"/>
<text x="485.5" y="951.1" text-anchor="end" class="tk">0.4</text>
<line x1="495.5" x2="506" y1="1095.5" y2="1095.5" stroke="#333333" stroke-width="3.2"/>
<text x="485.5" y="1107.6" text-anchor="end" class="tk">0.2</text>
<line x1="495.5" x2="506" y1="1252.1" y2="1252.1" stroke="#333333" stroke-width="3.2"/>
<text x="485.5" y="1264.2" text-anchor="end" class="tk">0.0</text>
<line x1="495.5" x2="506" y1="1408.6" y2="1408.6" stroke="#333333" stroke-width="3.2"/>
<text x="485.5" y="1420.7" text-anchor="end" class="tk">-0.2</text>
<text x="800.2" y="1536.5" text-anchor="middle" class="at">Transcriptome Correlation</text>
<text transform="translate(409.3,1133.8) rotate(-90)" text-anchor="middle" class="at">Spearman ρ (mutation effect)</text>
<text x="981.3" y="1373.4" text-anchor="middle" class="an">ρ=0.13</text>
<text x="981.3" y="1427.5" text-anchor="middle" class="an">(p=0.019)</text>
</g>
<g id="pD">
<rect x="1257" y="822.7" width="589.0" height="622.3" fill="#fff"/>
<clipPath id="cD"><rect x="1257" y="822.7" width="589.0" height="622.3"/></clipPath>
<g clip-path="url(#cD)">
<line x1="1257" x2="1846" y1="932.6" y2="932.6" stroke="#e7e7e7" stroke-width="2.3"/>
<line x1="1257" x2="1846" y1="1077.4" y2="1077.4" stroke="#e7e7e7" stroke-width="2.3"/>
<line x1="1257" x2="1846" y1="1222.2" y2="1222.2" stroke="#e7e7e7" stroke-width="2.3"/>
<line x1="1257" x2="1846" y1="1367.0" y2="1367.0" stroke="#e7e7e7" stroke-width="2.3"/>
<line x1="1219.3" x2="1219.3" y1="822.7" y2="1445" stroke="#e7e7e7" stroke-width="2.3"/>
<line x1="1364.2" x2="1364.2" y1="822.7" y2="1445" stroke="#e7e7e7" stroke-width="2.3"/>
<line x1="1509.2" x2="1509.2" y1="822.7" y2="1445" stroke="#e7e7e7" stroke-width="2.3"/>
<line x1="1654.0" x2="1654.0" y1="822.7" y2="1445" stroke="#e7e7e7" stroke-width="2.3"/>
<line x1="1799.0" x2="1799.0" y1="822.7" y2="1445" stroke="#e7e7e7" stroke-width="2.3"/>
<line x1="1257" x2="1846" y1="860.2" y2="860.2" stroke="#e7e7e7" stroke-width="3.8"/>
<line x1="1257" x2="1846" y1="1005.0" y2="1005.0" stroke="#e7e7e7" stroke-width="3.8"/>
<line x1="1257" x2="1846" y1="1149.8" y2="1149.8" stroke="#e7e7e7" stroke-width="3.8"/>
<line x1="1257" x2="1846" y1="1294.6" y2="1294.6" stroke="#e7e7e7" stroke-width="3.8"/>
<line x1="1257" x2="1846" y1="1439.4" y2="1439.4" stroke="#e7e7e7" stroke-width="3.8"/>
<line x1="1291.8" x2="1291.8" y1="822.7" y2="1445" stroke="#e7e7e7" stroke-width="3.8"/>
<line x1="1436.7" x2="1436.7" y1="822.7" y2="1445" stroke="#e7e7e7" stroke-width="3.8"/>
<line x1="1581.6" x2="1581.6" y1="822.7" y2="1445" stroke="#e7e7e7" stroke-width="3.8"/>
<line x1="1726.5" x2="1726.5" y1="822.7" y2="1445" stroke="#e7e7e7" stroke-width="3.8"/>
<circle cx="1530.2" cy="1076.8" r="8.6" fill="#58687d"/>
<circle cx="1491.3" cy="1091.6" r="8.6" fill="#3b6897"/>
<circle cx="1508.1" cy="1091.2" r="8.6" fill="#47688a"/>
<circle cx="1524.5" cy="1086.8" r="8.6" fill="#546881"/>
<circle cx="1538.2" cy="1089.9" r="8.6" fill="#5f6879"/>
<circle cx="1553.9" cy="1088.4" r="8.6" fill="#6f6f6a"/>
<circle cx="1466.7" cy="1105.4" r="8.6" fill="#2a68ae"/>
<circle cx="1483.2" cy="1105.5" r="8.6" fill="#35689f"/>
<circle cx="1497.5" cy="1102.5" r="8.6" fill="#3f6891"/>
<circle cx="1512.7" cy="1104.9" r="8.6" fill="#4b6887"/>
<circle cx="1529.9" cy="1102.4" r="8.6" fill="#58687e"/>
<circle cx="1544.8" cy="1103.2" r="8.6" fill="#656b73"/>
<circle cx="1560.0" cy="1104.1" r="8.6" fill="#757365"/>
<circle cx="1456.8" cy="1117.7" r="8.6" fill="#2467b6"/>
<circle cx="1474.4" cy="1117.7" r="8.6" fill="#2f68a7"/>
<circle cx="1489.6" cy="1118.3" r="8.6" fill="#3a6898"/>
<circle cx="1505.6" cy="1115.9" r="8.6" fill="#45688b"/>
<circle cx="1519.9" cy="1114.6" r="8.6" fill="#506883"/>
<circle cx="1540.1" cy="1117.7" r="8.6" fill="#606878"/>
<circle cx="1551.8" cy="1115.2" r="8.6" fill="#6d6e6b"/>
<circle cx="1436.3" cy="1132.0" r="8.6" fill="#1965c5"/>
<circle cx="1451.2" cy="1130.1" r="8.6" fill="#2166ba"/>
<circle cx="1464.6" cy="1130.5" r="8.6" fill="#2968b0"/>
<circle cx="1481.3" cy="1131.9" r="8.6" fill="#3468a0"/>
<circle cx="1496.8" cy="1130.2" r="8.6" fill="#3e6892"/>
<circle cx="1512.4" cy="1131.5" r="8.6" fill="#4a6887"/>
<circle cx="1529.4" cy="1132.9" r="8.6" fill="#58687e"/>
<circle cx="1547.8" cy="1129.1" r="8.6" fill="#686c70"/>
<circle cx="1560.0" cy="1131.6" r="8.6" fill="#757365"/>
<circle cx="1411.2" cy="1144.0" r="8.6" fill="#0760d9"/>
<circle cx="1428.3" cy="1146.6" r="8.6" fill="#1464cb"/>
<circle cx="1441.2" cy="1142.6" r="8.6" fill="#1c65c2"/>
<circle cx="1460.1" cy="1146.0" r="8.6" fill="#2667b3"/>
<circle cx="1471.8" cy="1146.2" r="8.6" fill="#2d68a9"/>
<circle cx="1489.7" cy="1143.3" r="8.6" fill="#3a6898"/>
<circle cx="1508.6" cy="1146.6" r="8.6" fill="#47688a"/>
<circle cx="1522.2" cy="1142.3" r="8.6" fill="#526882"/>
<circle cx="1539.0" cy="1144.5" r="8.6" fill="#5f6879"/>
<circle cx="1554.7" cy="1142.3" r="8.6" fill="#707069"/>
<circle cx="1401.9" cy="1159.9" r="8.6" fill="#0859ce"/>
<circle cx="1420.0" cy="1158.8" r="8.6" fill="#0e62d2"/>
<circle cx="1435.9" cy="1160.2" r="8.6" fill="#1965c6"/>
<circle cx="1452.3" cy="1160.6" r="8.6" fill="#2267b9"/>
<circle cx="1467.1" cy="1156.3" r="8.6" fill="#2a68ae"/>
<circle cx="1483.9" cy="1158.1" r="8.6" fill="#36689e"/>
<circle cx="1498.5" cy="1157.5" r="8.6" fill="#406890"/>
<circle cx="1516.3" cy="1157.3" r="8.6" fill="#4d6885"/>
<circle cx="1531.4" cy="1156.1" r="8.6" fill="#59687d"/>
<circle cx="1548.4" cy="1157.8" r="8.6" fill="#696d6f"/>
<circle cx="1391.9" cy="1171.8" r="8.6" fill="#0950c1"/>
<circle cx="1409.3" cy="1174.5" r="8.6" fill="#075fd8"/>
<circle cx="1423.8" cy="1171.8" r="8.6" fill="#1163cf"/>
<circle cx="1440.9" cy="1171.1" r="8.6" fill="#1b65c2"/>
<circle cx="1456.6" cy="1174.3" r="8.6" fill="#2467b6"/>
<circle cx="1472.9" cy="1172.4" r="8.6" fill="#2e68a8"/>
<circle cx="1490.3" cy="1172.5" r="8.6" fill="#3a6898"/>
<circle cx="1508.1" cy="1174.6" r="8.6" fill="#47688a"/>
<circle cx="1521.1" cy="1171.5" r="8.6" fill="#516883"/>
<circle cx="1538.5" cy="1171.2" r="8.6" fill="#5f6879"/>
<circle cx="1385.0" cy="1188.3" r="8.6" fill="#0a4ab7"/>
<circle cx="1402.1" cy="1186.8" r="8.6" fill="#0859ce"/>
<circle cx="1420.0" cy="1185.0" r="8.6" fill="#0e62d2"/>
<circle cx="1434.3" cy="1184.9" r="8.6" fill="#1865c7"/>
<circle cx="1448.2" cy="1185.1" r="8.6" fill="#2066bc"/>
<circle cx="1467.4" cy="1188.7" r="8.6" fill="#2a68ae"/>
<circle cx="1481.8" cy="1184.7" r="8.6" fill="#3468a0"/>
<circle cx="1497.9" cy="1187.9" r="8.6" fill="#3f6891"/>
<circle cx="1513.8" cy="1185.7" r="8.6" fill="#4b6887"/>
<circle cx="1530.7" cy="1184.7" r="8.6" fill="#59687d"/>
<circle cx="1379.8" cy="1199.6" r="8.6" fill="#0b46b1"/>
<circle cx="1392.8" cy="1199.4" r="8.6" fill="#0951c2"/>
<circle cx="1407.8" cy="1202.5" r="8.6" fill="#075ed6"/>
<circle cx="1425.4" cy="1201.2" r="8.6" fill="#1264ce"/>
<circle cx="1442.6" cy="1199.3" r="8.6" fill="#1c66c0"/>
<circle cx="1456.3" cy="1199.1" r="8.6" fill="#2467b6"/>
<circle cx="1474.1" cy="1198.6" r="8.6" fill="#2f68a7"/>
<circle cx="1491.7" cy="1201.5" r="8.6" fill="#3b6896"/>
<circle cx="1506.4" cy="1201.8" r="8.6" fill="#46688b"/>
<circle cx="1524.2" cy="1201.3" r="8.6" fill="#546881"/>
<circle cx="1371.8" cy="1215.7" r="8.6" fill="#0d40a9"/>
<circle cx="1386.6" cy="1214.1" r="8.6" fill="#0a4bba"/>
<circle cx="1401.5" cy="1212.2" r="8.6" fill="#0858ce"/>
<circle cx="1417.0" cy="1216.1" r="8.6" fill="#0c62d5"/>
<circle cx="1433.1" cy="1213.4" r="8.6" fill="#1765c8"/>
<circle cx="1449.8" cy="1214.3" r="8.6" fill="#2066bb"/>
<circle cx="1465.2" cy="1213.0" r="8.6" fill="#2968af"/>
<circle cx="1481.1" cy="1216.2" r="8.6" fill="#3468a0"/>
<circle cx="1497.2" cy="1212.7" r="8.6" fill="#3f6891"/>
<circle cx="1513.0" cy="1214.4" r="8.6" fill="#4b6887"/>
<circle cx="1360.8" cy="1226.8" r="8.6" fill="#10389e"/>
<circle cx="1380.0" cy="1229.3" r="8.6" fill="#0b46b1"/>
<circle cx="1395.0" cy="1228.1" r="8.6" fill="#0953c5"/>
<circle cx="1412.5" cy="1229.0" r="8.6" fill="#0860d8"/>
<circle cx="1424.6" cy="1228.4" r="8.6" fill="#1263ce"/>
<circle cx="1442.0" cy="1228.7" r="8.6" fill="#1c65c1"/>
<circle cx="1456.3" cy="1227.2" r="8.6" fill="#2467b6"/>
<circle cx="1472.0" cy="1227.9" r="8.6" fill="#2e68a9"/>
<circle cx="1488.8" cy="1225.6" r="8.6" fill="#396899"/>
<circle cx="1367.9" cy="1239.3" r="8.6" fill="#0e3da5"/>
<circle cx="1385.6" cy="1242.6" r="8.6" fill="#0a4bb8"/>
<circle cx="1400.2" cy="1242.1" r="8.6" fill="#0857cc"/>
<circle cx="1416.1" cy="1241.4" r="8.6" fill="#0b61d5"/>
<circle cx="1433.3" cy="1243.7" r="8.6" fill="#1765c8"/>
<circle cx="1449.9" cy="1240.1" r="8.6" fill="#2166bb"/>
<circle cx="1463.6" cy="1241.0" r="8.6" fill="#2868b0"/>
<circle cx="1394.9" cy="1253.2" r="8.6" fill="#0953c5"/>
<circle cx="1412.3" cy="1253.1" r="8.6" fill="#0860d9"/>
<circle cx="1424.2" cy="1254.5" r="8.6" fill="#1163cf"/>
<circle cx="1442.6" cy="1257.7" r="8.6" fill="#1c66c0"/>
<circle cx="1459.5" cy="1253.2" r="8.6" fill="#2667b4"/>
<circle cx="1402.2" cy="1267.1" r="8.6" fill="#0859cf"/>
<circle cx="1420.3" cy="1270.3" r="8.6" fill="#0e62d2"/>
<circle cx="1434.7" cy="1271.3" r="8.6" fill="#1865c7"/>
<circle cx="1718.2" cy="865.1" r="8.6" fill="#ff9700"/>
<circle cx="1745.7" cy="868.3" r="8.6" fill="#ff8400"/>
<circle cx="1820.1" cy="870.9" r="8.6" fill="#ff5800"/>
<circle cx="1760.2" cy="882.9" r="8.6" fill="#ff7c00"/>
<circle cx="1774.8" cy="887.7" r="8.6" fill="#ff7300"/>
<circle cx="1778.0" cy="899.1" r="8.6" fill="#ff7100"/>
<circle cx="1727.9" cy="886.1" r="8.6" fill="#ff8f00"/>
<circle cx="1716.5" cy="892.6" r="8.6" fill="#ff9900"/>
<circle cx="1706.8" cy="897.4" r="8.6" fill="#ffa100"/>
<circle cx="1677.7" cy="891.0" r="8.6" fill="#ffae00"/>
<circle cx="1674.5" cy="900.7" r="8.6" fill="#ffaf00"/>
<circle cx="1687.4" cy="903.9" r="8.6" fill="#ffab00"/>
<circle cx="1695.5" cy="900.7" r="8.6" fill="#ffa700"/>
<circle cx="1702.0" cy="910.4" r="8.6" fill="#ffa300"/>
<circle cx="1744.1" cy="905.5" r="8.6" fill="#ff8500"/>
<circle cx="1760.2" cy="905.5" r="8.6" fill="#ff7c00"/>
<circle cx="1666.4" cy="918.5" r="8.6" fill="#f0a900"/>
<circle cx="1664.8" cy="928.2" r="8.6" fill="#eda700"/>
<circle cx="1690.7" cy="926.6" r="8.6" fill="#ffa900"/>
<circle cx="1703.6" cy="920.1" r="8.6" fill="#ffa300"/>
<circle cx="1713.3" cy="926.6" r="8.6" fill="#ff9c00"/>
<circle cx="1708.5" cy="915.2" r="8.6" fill="#ffa000"/>
<circle cx="1765.1" cy="920.1" r="8.6" fill="#ff7a00"/>
<circle cx="1771.6" cy="920.1" r="8.6" fill="#ff7600"/>
<circle cx="1774.8" cy="926.6" r="8.6" fill="#ff7300"/>
<circle cx="1769.9" cy="928.2" r="8.6" fill="#ff7700"/>
<circle cx="1761.9" cy="924.9" r="8.6" fill="#ff7c00"/>
<circle cx="1795.8" cy="925.9" r="8.6" fill="#ff6600"/>
<circle cx="1624.3" cy="929.8" r="8.6" fill="#bb912d"/>
<circle cx="1742.4" cy="937.9" r="8.6" fill="#ff8600"/>
<circle cx="1703.6" cy="944.4" r="8.6" fill="#ffa300"/>
<circle cx="1645.3" cy="955.7" r="8.6" fill="#d69c05"/>
<circle cx="1666.4" cy="955.7" r="8.6" fill="#f0a900"/>
<circle cx="1739.2" cy="965.4" r="8.6" fill="#ff8800"/>
<circle cx="1625.9" cy="984.8" r="8.6" fill="#bc922c"/>
<circle cx="1629.2" cy="994.5" r="8.6" fill="#bf9429"/>
<circle cx="1640.5" cy="1001.0" r="8.6" fill="#d19a0a"/>
<circle cx="1645.3" cy="1010.7" r="8.6" fill="#d69c05"/>
<circle cx="1512.7" cy="987.1" r="8.6" fill="#4b6887"/>
<circle cx="1441.5" cy="996.8" r="8.6" fill="#1c65c1"/>
<circle cx="1698.7" cy="1005.8" r="8.6" fill="#ffa500"/>
<circle cx="1695.5" cy="1021.1" r="8.6" fill="#ffa700"/>
<circle cx="1532.1" cy="1017.2" r="8.6" fill="#5a687c"/>
<circle cx="1579.0" cy="1034.0" r="8.6" fill="#897e53"/>
<circle cx="1613.0" cy="1035.0" r="8.6" fill="#b08c38"/>
<circle cx="1632.4" cy="1035.0" r="8.6" fill="#c49521"/>
<circle cx="1645.3" cy="1043.1" r="8.6" fill="#d69c05"/>
<circle cx="1659.9" cy="1031.7" r="8.6" fill="#e5a400"/>
<circle cx="1524.0" cy="1049.5" r="8.6" fill="#536881"/>
<circle cx="1402.6" cy="1069.0" r="8.6" fill="#0859cf"/>
<circle cx="1603.3" cy="1064.1" r="8.6" fill="#a68940"/>
<circle cx="1629.2" cy="1065.7" r="8.6" fill="#bf9429"/>
<circle cx="1619.5" cy="1075.4" r="8.6" fill="#b68f32"/>
<circle cx="1587.1" cy="1072.2" r="8.6" fill="#93834c"/>
<circle cx="1472.2" cy="1077.0" r="8.6" fill="#2e68a9"/>
<circle cx="1320.1" cy="1091.0" r="8.6" fill="#1a1d7c"/>
<circle cx="1588.7" cy="1097.4" r="8.6" fill="#95844b"/>
<circle cx="1412.3" cy="1101.3" r="8.6" fill="#0860d9"/>
<circle cx="1428.5" cy="1098.1" r="8.6" fill="#1564cb"/>
<circle cx="1451.2" cy="1102.9" r="8.6" fill="#2166ba"/>
<circle cx="1567.7" cy="1099.7" r="8.6" fill="#7d775f"/>
<circle cx="1562.8" cy="1120.1" r="8.6" fill="#787463"/>
<circle cx="1323.3" cy="1135.3" r="8.6" fill="#191f7e"/>
<circle cx="1583.9" cy="1127.2" r="8.6" fill="#8f814f"/>
<circle cx="1587.1" cy="1136.9" r="8.6" fill="#93834c"/>
<circle cx="1590.3" cy="1141.8" r="8.6" fill="#98844a"/>
<circle cx="1303.9" cy="1179.6" r="8.6" fill="#1b1674"/>
<circle cx="1354.1" cy="1168.6" r="8.6" fill="#123397"/>
<circle cx="1323.3" cy="1215.6" r="8.6" fill="#191f7e"/>
<circle cx="1284.5" cy="1261.5" r="8.6" fill="#1a0f6c"/>
<circle cx="1341.1" cy="1284.2" r="8.6" fill="#152a8c"/>
<circle cx="1570.9" cy="1208.1" r="8.6" fill="#81795b"/>
<circle cx="1517.5" cy="1325.3" r="8.6" fill="#4e6885"/>
<circle cx="1333.1" cy="1416.9" r="8.6" fill="#172586"/>
<circle cx="1490.0" cy="1081.9" r="8.6" fill="#3a6898"/>
<circle cx="1503.0" cy="1078.7" r="8.6" fill="#43688d"/>
<circle cx="1515.9" cy="1075.4" r="8.6" fill="#4d6885"/>
<circle cx="1525.6" cy="1075.4" r="8.6" fill="#556880"/>
<circle cx="1541.8" cy="1078.7" r="8.6" fill="#626976"/>
<circle cx="1548.3" cy="1081.9" r="8.6" fill="#696c6f"/>
<circle cx="1483.5" cy="1091.6" r="8.6" fill="#35689e"/>
<circle cx="1496.5" cy="1088.4" r="8.6" fill="#3e6892"/>
<circle cx="1509.4" cy="1091.6" r="8.6" fill="#486889"/>
<circle cx="1522.4" cy="1088.4" r="8.6" fill="#526882"/>
<circle cx="1535.3" cy="1094.8" r="8.6" fill="#5c687b"/>
<circle cx="1548.3" cy="1091.6" r="8.6" fill="#696c6f"/>
<circle cx="1561.2" cy="1094.8" r="8.6" fill="#777364"/>
<circle cx="1477.1" cy="1104.6" r="8.6" fill="#3168a4"/>
<circle cx="1490.0" cy="1101.3" r="8.6" fill="#3a6898"/>
<circle cx="1503.0" cy="1104.6" r="8.6" fill="#43688d"/>
<circle cx="1515.9" cy="1101.3" r="8.6" fill="#4d6885"/>
<circle cx="1528.8" cy="1104.6" r="8.6" fill="#57687e"/>
<circle cx="1541.8" cy="1101.3" r="8.6" fill="#626976"/>
<circle cx="1554.7" cy="1104.6" r="8.6" fill="#707069"/>
<circle cx="1464.1" cy="1117.5" r="8.6" fill="#2868b0"/>
<circle cx="1477.1" cy="1114.3" r="8.6" fill="#3168a4"/>
<circle cx="1490.0" cy="1117.5" r="8.6" fill="#3a6898"/>
<circle cx="1503.0" cy="1114.3" r="8.6" fill="#43688d"/>
<circle cx="1515.9" cy="1117.5" r="8.6" fill="#4d6885"/>
<circle cx="1528.8" cy="1114.3" r="8.6" fill="#57687e"/>
<circle cx="1541.8" cy="1117.5" r="8.6" fill="#626976"/>
<circle cx="1554.7" cy="1114.3" r="8.6" fill="#707069"/>
<circle cx="1409.1" cy="1119.1" r="8.6" fill="#075fd8"/>
<circle cx="1444.7" cy="1120.7" r="8.6" fill="#1e66bf"/>
<circle cx="1405.9" cy="1133.7" r="8.6" fill="#085cd4"/>
<circle cx="1425.3" cy="1130.4" r="8.6" fill="#1263ce"/>
<circle cx="1444.7" cy="1130.4" r="8.6" fill="#1e66bf"/>
<circle cx="1457.6" cy="1130.4" r="8.6" fill="#2567b5"/>
<circle cx="1470.6" cy="1127.2" r="8.6" fill="#2d68aa"/>
<circle cx="1483.5" cy="1130.4" r="8.6" fill="#35689e"/>
<circle cx="1496.5" cy="1133.7" r="8.6" fill="#3e6892"/>
<circle cx="1509.4" cy="1130.4" r="8.6" fill="#486889"/>
<circle cx="1522.4" cy="1127.2" r="8.6" fill="#526882"/>
<circle cx="1535.3" cy="1130.4" r="8.6" fill="#5c687b"/>
<circle cx="1548.3" cy="1133.7" r="8.6" fill="#696c6f"/>
<circle cx="1561.2" cy="1130.4" r="8.6" fill="#777364"/>
<circle cx="1399.4" cy="1143.4" r="8.6" fill="#0856cb"/>
<circle cx="1415.6" cy="1143.4" r="8.6" fill="#0b61d6"/>
<circle cx="1431.8" cy="1143.4" r="8.6" fill="#1664c9"/>
<circle cx="1444.7" cy="1146.6" r="8.6" fill="#1e66bf"/>
<circle cx="1464.1" cy="1143.4" r="8.6" fill="#2868b0"/>
<circle cx="1477.1" cy="1146.6" r="8.6" fill="#3168a4"/>
<circle cx="1490.0" cy="1143.4" r="8.6" fill="#3a6898"/>
<circle cx="1503.0" cy="1146.6" r="8.6" fill="#43688d"/>
<circle cx="1515.9" cy="1143.4" r="8.6" fill="#4d6885"/>
<circle cx="1528.8" cy="1146.6" r="8.6" fill="#57687e"/>
<circle cx="1541.8" cy="1143.4" r="8.6" fill="#626976"/>
<circle cx="1558.0" cy="1140.2" r="8.6" fill="#737267"/>
<circle cx="1564.4" cy="1146.6" r="8.6" fill="#7a7562"/>
<circle cx="1392.9" cy="1156.3" r="8.6" fill="#0951c2"/>
<circle cx="1409.1" cy="1156.3" r="8.6" fill="#075fd8"/>
<circle cx="1425.3" cy="1159.6" r="8.6" fill="#1263ce"/>
<circle cx="1441.5" cy="1156.3" r="8.6" fill="#1c65c1"/>
<circle cx="1454.4" cy="1159.6" r="8.6" fill="#2367b7"/>
<circle cx="1467.4" cy="1156.3" r="8.6" fill="#2a68ae"/>
<circle cx="1483.5" cy="1159.6" r="8.6" fill="#35689e"/>
<circle cx="1496.5" cy="1156.3" r="8.6" fill="#3e6892"/>
<circle cx="1509.4" cy="1159.6" r="8.6" fill="#486889"/>
<circle cx="1522.4" cy="1156.3" r="8.6" fill="#526882"/>
<circle cx="1535.3" cy="1159.6" r="8.6" fill="#5c687b"/>
<circle cx="1548.3" cy="1156.3" r="8.6" fill="#696c6f"/>
<circle cx="1561.2" cy="1159.6" r="8.6" fill="#777364"/>
<circle cx="1373.5" cy="1166.0" r="8.6" fill="#0c41ab"/>
<circle cx="1380.0" cy="1172.5" r="8.6" fill="#0b46b1"/>
<circle cx="1396.2" cy="1169.3" r="8.6" fill="#0954c6"/>
<circle cx="1412.3" cy="1169.3" r="8.6" fill="#0860d9"/>
<circle cx="1425.3" cy="1172.5" r="8.6" fill="#1263ce"/>
<circle cx="1438.2" cy="1169.3" r="8.6" fill="#1a65c4"/>
<circle cx="1451.2" cy="1172.5" r="8.6" fill="#2166ba"/>
<circle cx="1467.4" cy="1169.3" r="8.6" fill="#2a68ae"/>
<circle cx="1480.3" cy="1172.5" r="8.6" fill="#3368a1"/>
<circle cx="1493.2" cy="1169.3" r="8.6" fill="#3c6895"/>
<circle cx="1506.2" cy="1172.5" r="8.6" fill="#45688b"/>
<circle cx="1519.1" cy="1169.3" r="8.6" fill="#506884"/>
<circle cx="1532.1" cy="1172.5" r="8.6" fill="#5a687c"/>
<circle cx="1548.3" cy="1172.5" r="8.6" fill="#696c6f"/>
<circle cx="1370.3" cy="1185.5" r="8.6" fill="#0d3fa8"/>
<circle cx="1386.4" cy="1182.2" r="8.6" fill="#0a4bb9"/>
<circle cx="1399.4" cy="1185.5" r="8.6" fill="#0856cb"/>
<circle cx="1412.3" cy="1182.2" r="8.6" fill="#0860d9"/>
<circle cx="1425.3" cy="1185.5" r="8.6" fill="#1263ce"/>
<circle cx="1438.2" cy="1182.2" r="8.6" fill="#1a65c4"/>
<circle cx="1451.2" cy="1185.5" r="8.6" fill="#2166ba"/>
<circle cx="1464.1" cy="1182.2" r="8.6" fill="#2868b0"/>
<circle cx="1477.1" cy="1185.5" r="8.6" fill="#3168a4"/>
<circle cx="1490.0" cy="1182.2" r="8.6" fill="#3a6898"/>
<circle cx="1503.0" cy="1185.5" r="8.6" fill="#43688d"/>
<circle cx="1515.9" cy="1182.2" r="8.6" fill="#4d6885"/>
<circle cx="1528.8" cy="1185.5" r="8.6" fill="#57687e"/>
<circle cx="1545.0" cy="1182.2" r="8.6" fill="#656b73"/>
<circle cx="1367.0" cy="1195.2" r="8.6" fill="#0e3da4"/>
<circle cx="1380.0" cy="1198.4" r="8.6" fill="#0b46b1"/>
<circle cx="1392.9" cy="1195.2" r="8.6" fill="#0951c2"/>
<circle cx="1405.9" cy="1198.4" r="8.6" fill="#085cd4"/>
<circle cx="1418.8" cy="1195.2" r="8.6" fill="#0d62d3"/>
<circle cx="1431.8" cy="1198.4" r="8.6" fill="#1664c9"/>
<circle cx="1444.7" cy="1195.2" r="8.6" fill="#1e66bf"/>
<circle cx="1457.6" cy="1198.4" r="8.6" fill="#2567b5"/>
<circle cx="1470.6" cy="1195.2" r="8.6" fill="#2d68aa"/>
<circle cx="1483.5" cy="1198.4" r="8.6" fill="#35689e"/>
<circle cx="1496.5" cy="1195.2" r="8.6" fill="#3e6892"/>
<circle cx="1509.4" cy="1198.4" r="8.6" fill="#486889"/>
<circle cx="1525.6" cy="1198.4" r="8.6" fill="#556880"/>
<circle cx="1373.5" cy="1211.3" r="8.6" fill="#0c41ab"/>
<circle cx="1386.4" cy="1208.1" r="8.6" fill="#0a4bb9"/>
<circle cx="1399.4" cy="1211.3" r="8.6" fill="#0856cb"/>
<circle cx="1415.6" cy="1208.1" r="8.6" fill="#0b61d6"/>
<circle cx="1428.5" cy="1211.3" r="8.6" fill="#1564cb"/>
<circle cx="1441.5" cy="1208.1" r="8.6" fill="#1c65c1"/>
<circle cx="1454.4" cy="1211.3" r="8.6" fill="#2367b7"/>
<circle cx="1467.4" cy="1208.1" r="8.6" fill="#2a68ae"/>
<circle cx="1483.5" cy="1211.3" r="8.6" fill="#35689e"/>
<circle cx="1496.5" cy="1208.1" r="8.6" fill="#3e6892"/>
<circle cx="1509.4" cy="1211.3" r="8.6" fill="#486889"/>
<circle cx="1522.4" cy="1214.6" r="8.6" fill="#526882"/>
<circle cx="1357.3" cy="1224.3" r="8.6" fill="#11359b"/>
<circle cx="1370.3" cy="1221.1" r="8.6" fill="#0d3fa8"/>
<circle cx="1386.4" cy="1224.3" r="8.6" fill="#0a4bb9"/>
<circle cx="1402.6" cy="1221.1" r="8.6" fill="#0859cf"/>
<circle cx="1418.8" cy="1224.3" r="8.6" fill="#0d62d3"/>
<circle cx="1431.8" cy="1221.1" r="8.6" fill="#1664c9"/>
<circle cx="1444.7" cy="1224.3" r="8.6" fill="#1e66bf"/>
<circle cx="1457.6" cy="1221.1" r="8.6" fill="#2567b5"/>
<circle cx="1470.6" cy="1224.3" r="8.6" fill="#2d68aa"/>
<circle cx="1486.8" cy="1224.3" r="8.6" fill="#38689b"/>
<circle cx="1503.0" cy="1224.3" r="8.6" fill="#43688d"/>
<circle cx="1354.1" cy="1234.0" r="8.6" fill="#123397"/>
<circle cx="1367.0" cy="1237.2" r="8.6" fill="#0e3da4"/>
<circle cx="1380.0" cy="1234.0" r="8.6" fill="#0b46b1"/>
<circle cx="1399.4" cy="1237.2" r="8.6" fill="#0856cb"/>
<circle cx="1412.3" cy="1234.0" r="8.6" fill="#0860d9"/>
<circle cx="1425.3" cy="1237.2" r="8.6" fill="#1263ce"/>
<circle cx="1438.2" cy="1234.0" r="8.6" fill="#1a65c4"/>
<circle cx="1451.2" cy="1237.2" r="8.6" fill="#2166ba"/>
<circle cx="1464.1" cy="1234.0" r="8.6" fill="#2868b0"/>
<circle cx="1483.5" cy="1237.2" r="8.6" fill="#35689e"/>
<circle cx="1506.2" cy="1234.0" r="8.6" fill="#45688b"/>
<circle cx="1363.8" cy="1246.9" r="8.6" fill="#0f3aa1"/>
<circle cx="1402.6" cy="1246.9" r="8.6" fill="#0859cf"/>
<circle cx="1418.8" cy="1246.9" r="8.6" fill="#0d62d3"/>
<circle cx="1431.8" cy="1250.2" r="8.6" fill="#1664c9"/>
<circle cx="1451.2" cy="1246.9" r="8.6" fill="#2166ba"/>
<circle cx="1467.4" cy="1246.9" r="8.6" fill="#2a68ae"/>
<circle cx="1350.9" cy="1259.9" r="8.6" fill="#123194"/>
<circle cx="1357.3" cy="1256.7" r="8.6" fill="#11359b"/>
<circle cx="1399.4" cy="1256.7" r="8.6" fill="#0856cb"/>
<circle cx="1428.5" cy="1259.9" r="8.6" fill="#1564cb"/>
<circle cx="1451.2" cy="1259.9" r="8.6" fill="#2166ba"/>
<circle cx="1392.9" cy="1268.0" r="8.6" fill="#0951c2"/>
<circle cx="1409.1" cy="1269.6" r="8.6" fill="#075fd8"/>
<circle cx="1422.0" cy="1272.8" r="8.6" fill="#1063d1"/>
<circle cx="1438.2" cy="1269.6" r="8.6" fill="#1a65c4"/>
<circle cx="1399.4" cy="1285.8" r="8.6" fill="#0856cb"/>
<circle cx="1425.3" cy="1279.3" r="8.6" fill="#1263ce"/>
<circle cx="1443.1" cy="1285.8" r="8.6" fill="#1d66c0"/>
<circle cx="1444.7" cy="1279.3" r="8.6" fill="#1e66bf"/>
<line x1="1257" x2="1846" y1="849.1" y2="849.1" stroke="#000" stroke-width="3.6" stroke-dasharray="15 17.5"/>
</g>
<rect x="1257" y="822.7" width="589.0" height="622.3" fill="none" stroke="#333333" stroke-width="2.2"/>
<line x1="1291.8" x2="1291.8" y1="1445" y2="1455.5" stroke="#333333" stroke-width="3.2"/>
<text x="1291.8" y="1489.2" text-anchor="middle" class="tk">0.3</text>
<line x1="1436.7" x2="1436.7" y1="1445" y2="1455.5" stroke="#333333" stroke-width="3.2"/>
<text x="1436.7" y="1489.2" text-anchor="middle" class="tk">0.4</text>
<line x1="1581.6" x2="1581.6" y1="1445" y2="1455.5" stroke="#333333" stroke-width="3.2"/>
<text x="1581.6" y="1489.2" text-anchor="middle" class="tk">0.5</text>
<line x1="1726.5" x2="1726.5" y1="1445" y2="1455.5" stroke="#333333" stroke-width="3.2"/>
<text x="1726.5" y="1489.2" text-anchor="middle" class="tk">0.6</text>
<line x1="1246.5" x2="1257" y1="860.2" y2="860.2" stroke="#333333" stroke-width="3.2"/>
<text x="1236.5" y="872.3" text-anchor="end" class="tk">0.3</text>
<line x1="1246.5" x2="1257" y1="1005.0" y2="1005.0" stroke="#333333" stroke-width="3.2"/>
<text x="1236.5" y="1017.1" text-anchor="end" class="tk">0.2</text>
<line x1="1246.5" x2="1257" y1="1149.8" y2="1149.8" stroke="#333333" stroke-width="3.2"/>
<text x="1236.5" y="1161.9" text-anchor="end" class="tk">0.1</text>
<line x1="1246.5" x2="1257" y1="1294.6" y2="1294.6" stroke="#333333" stroke-width="3.2"/>
<text x="1236.5" y="1306.7" text-anchor="end" class="tk">0.0</text>
<line x1="1246.5" x2="1257" y1="1439.4" y2="1439.4" stroke="#333333" stroke-width="3.2"/>
<text x="1236.5" y="1451.5" text-anchor="end" class="tk">-0.1</text>
<text x="1551.5" y="1536.5" text-anchor="middle" class="at">Transcriptome Correlation</text>
<text transform="translate(1159.7,1133.8) rotate(-90)" text-anchor="middle" class="at">Spearman ρ (mutation effect)</text>
<text x="1702.5" y="1373.6" text-anchor="middle" class="an">ρ=0.70</text>
<text x="1702.5" y="1427.3" text-anchor="middle" class="an">(p&lt;2.2<tspan dx="8.5" style="font-size:50px">×</tspan><tspan dx="8.5">10</tspan><tspan class="sup" dy="-15.4">-16</tspan><tspan dy="15.4" dx="4">)</tspan></text>
</g>
<g id="pE">
<rect x="494.5" y="1567.2" width="599.0" height="623.0" fill="#fff"/>
<clipPath id="cE"><rect x="494.5" y="1567.2" width="599.0" height="623.0"/></clipPath>
<g clip-path="url(#cE)">
<line x1="494.5" x2="1093.5" y1="1702.9" y2="1702.9" stroke="#e7e7e7" stroke-width="2.3"/>
<line x1="494.5" x2="1093.5" y1="1851.9" y2="1851.9" stroke="#e7e7e7" stroke-width="2.3"/>
<line x1="494.5" x2="1093.5" y1="2000.9" y2="2000.9" stroke="#e7e7e7" stroke-width="2.3"/>
<line x1="494.5" x2="1093.5" y1="2149.9" y2="2149.9" stroke="#e7e7e7" stroke-width="2.3"/>
<line x1="629.8" x2="629.8" y1="1567.2" y2="2190.2" stroke="#e7e7e7" stroke-width="2.3"/>
<line x1="832.5" x2="832.5" y1="1567.2" y2="2190.2" stroke="#e7e7e7" stroke-width="2.3"/>
<line x1="1035.2" x2="1035.2" y1="1567.2" y2="2190.2" stroke="#e7e7e7" stroke-width="2.3"/>
<line x1="494.5" x2="1093.5" y1="1628.4" y2="1628.4" stroke="#e7e7e7" stroke-width="3.8"/>
<line x1="494.5" x2="1093.5" y1="1777.4" y2="1777.4" stroke="#e7e7e7" stroke-width="3.8"/>
<line x1="494.5" x2="1093.5" y1="1926.4" y2="1926.4" stroke="#e7e7e7" stroke-width="3.8"/>
<line x1="494.5" x2="1093.5" y1="2075.4" y2="2075.4" stroke="#e7e7e7" stroke-width="3.8"/>
<line x1="528.4" x2="528.4" y1="1567.2" y2="2190.2" stroke="#e7e7e7" stroke-width="3.8"/>
<line x1="731.1" x2="731.1" y1="1567.2" y2="2190.2" stroke="#e7e7e7" stroke-width="3.8"/>
<line x1="933.8" x2="933.8" y1="1567.2" y2="2190.2" stroke="#e7e7e7" stroke-width="3.8"/>
<circle cx="670.4" cy="1888.6" r="8.6" fill="#1664ca"/>
<circle cx="684.9" cy="1890.5" r="8.6" fill="#1e66bf"/>
<circle cx="701.4" cy="1888.2" r="8.6" fill="#2767b3"/>
<circle cx="712.3" cy="1887.2" r="8.6" fill="#2d68aa"/>
<circle cx="729.2" cy="1887.6" r="8.6" fill="#38689a"/>
<circle cx="743.8" cy="1887.6" r="8.6" fill="#42688d"/>
<circle cx="757.4" cy="1889.6" r="8.6" fill="#4d6886"/>
<circle cx="648.9" cy="1904.5" r="8.6" fill="#075fd8"/>
<circle cx="663.4" cy="1899.8" r="8.6" fill="#1163cf"/>
<circle cx="678.7" cy="1900.4" r="8.6" fill="#1a65c4"/>
<circle cx="692.0" cy="1904.1" r="8.6" fill="#2166ba"/>
<circle cx="706.5" cy="1901.8" r="8.6" fill="#2968af"/>
<circle cx="720.4" cy="1900.8" r="8.6" fill="#3368a2"/>
<circle cx="733.6" cy="1901.1" r="8.6" fill="#3b6896"/>
<circle cx="749.4" cy="1903.9" r="8.6" fill="#47688a"/>
<circle cx="764.9" cy="1899.8" r="8.6" fill="#526882"/>
<circle cx="643.2" cy="1916.9" r="8.6" fill="#085ad1"/>
<circle cx="655.2" cy="1912.7" r="8.6" fill="#0b61d6"/>
<circle cx="670.9" cy="1914.2" r="8.6" fill="#1664c9"/>
<circle cx="684.8" cy="1914.3" r="8.6" fill="#1e66bf"/>
<circle cx="699.1" cy="1916.1" r="8.6" fill="#2567b4"/>
<circle cx="711.6" cy="1913.9" r="8.6" fill="#2d68aa"/>
<circle cx="725.9" cy="1915.0" r="8.6" fill="#36689d"/>
<circle cx="742.7" cy="1916.1" r="8.6" fill="#41688e"/>
<circle cx="756.8" cy="1915.3" r="8.6" fill="#4c6886"/>
<circle cx="773.8" cy="1913.6" r="8.6" fill="#59687d"/>
<circle cx="633.1" cy="1927.8" r="8.6" fill="#0952c4"/>
<circle cx="650.3" cy="1926.5" r="8.6" fill="#0760da"/>
<circle cx="660.6" cy="1926.9" r="8.6" fill="#0f62d1"/>
<circle cx="678.4" cy="1928.8" r="8.6" fill="#1a65c4"/>
<circle cx="689.9" cy="1927.2" r="8.6" fill="#2066bb"/>
<circle cx="705.2" cy="1924.8" r="8.6" fill="#2968b0"/>
<circle cx="718.8" cy="1927.6" r="8.6" fill="#3168a4"/>
<circle cx="735.4" cy="1927.1" r="8.6" fill="#3d6894"/>
<circle cx="748.7" cy="1925.6" r="8.6" fill="#46688a"/>
<circle cx="762.3" cy="1925.6" r="8.6" fill="#506883"/>
<circle cx="776.5" cy="1927.4" r="8.6" fill="#5b687b"/>
<circle cx="627.6" cy="1941.6" r="8.6" fill="#094dbc"/>
<circle cx="642.1" cy="1940.0" r="8.6" fill="#0859d0"/>
<circle cx="655.6" cy="1940.0" r="8.6" fill="#0b61d5"/>
<circle cx="669.9" cy="1940.8" r="8.6" fill="#1564ca"/>
<circle cx="686.7" cy="1938.4" r="8.6" fill="#1f66be"/>
<circle cx="697.6" cy="1941.1" r="8.6" fill="#2567b5"/>
<circle cx="712.7" cy="1940.7" r="8.6" fill="#2d68a9"/>
<circle cx="728.4" cy="1939.0" r="8.6" fill="#38689b"/>
<circle cx="741.4" cy="1939.1" r="8.6" fill="#41688f"/>
<circle cx="754.7" cy="1940.6" r="8.6" fill="#4b6887"/>
<circle cx="773.1" cy="1938.3" r="8.6" fill="#59687d"/>
<circle cx="784.3" cy="1939.7" r="8.6" fill="#626976"/>
<circle cx="635.3" cy="1952.0" r="8.6" fill="#0954c7"/>
<circle cx="649.4" cy="1952.8" r="8.6" fill="#075fd9"/>
<circle cx="663.3" cy="1953.1" r="8.6" fill="#1163cf"/>
<circle cx="676.3" cy="1954.3" r="8.6" fill="#1965c5"/>
<circle cx="693.4" cy="1954.1" r="8.6" fill="#2267b9"/>
<circle cx="707.2" cy="1950.2" r="8.6" fill="#2a68ae"/>
<circle cx="720.3" cy="1953.2" r="8.6" fill="#3268a2"/>
<circle cx="735.4" cy="1950.4" r="8.6" fill="#3d6894"/>
<circle cx="751.2" cy="1951.9" r="8.6" fill="#486889"/>
<circle cx="762.9" cy="1952.3" r="8.6" fill="#516883"/>
<circle cx="779.8" cy="1950.6" r="8.6" fill="#5e6879"/>
<circle cx="641.8" cy="1962.4" r="8.6" fill="#0859cf"/>
<circle cx="654.5" cy="1965.5" r="8.6" fill="#0a61d6"/>
<circle cx="670.5" cy="1966.6" r="8.6" fill="#1664ca"/>
<circle cx="682.7" cy="1964.5" r="8.6" fill="#1c66c1"/>
<circle cx="698.1" cy="1965.8" r="8.6" fill="#2567b5"/>
<circle cx="712.7" cy="1963.8" r="8.6" fill="#2d68a9"/>
<circle cx="730.4" cy="1965.7" r="8.6" fill="#396899"/>
<circle cx="740.6" cy="1963.7" r="8.6" fill="#40688f"/>
<circle cx="758.5" cy="1967.1" r="8.6" fill="#4e6885"/>
<circle cx="773.2" cy="1964.7" r="8.6" fill="#59687d"/>
<circle cx="661.0" cy="1978.7" r="8.6" fill="#0f63d1"/>
<circle cx="679.2" cy="1976.9" r="8.6" fill="#1a65c3"/>
<circle cx="691.5" cy="1977.4" r="8.6" fill="#2166ba"/>
<circle cx="706.9" cy="1975.2" r="8.6" fill="#2a68af"/>
<circle cx="719.2" cy="1975.7" r="8.6" fill="#3268a3"/>
<circle cx="735.9" cy="1976.5" r="8.6" fill="#3d6894"/>
<circle cx="750.6" cy="1977.2" r="8.6" fill="#486889"/>
<circle cx="764.8" cy="1978.5" r="8.6" fill="#526882"/>
<circle cx="776.8" cy="1975.6" r="8.6" fill="#5c687b"/>
<circle cx="672.4" cy="1988.8" r="8.6" fill="#1765c8"/>
<circle cx="683.5" cy="1990.0" r="8.6" fill="#1d66c0"/>
<circle cx="700.2" cy="1991.4" r="8.6" fill="#2667b4"/>
<circle cx="714.3" cy="1987.5" r="8.6" fill="#2f68a8"/>
<circle cx="726.2" cy="1987.7" r="8.6" fill="#36689d"/>
<circle cx="742.1" cy="1989.7" r="8.6" fill="#41688e"/>
<circle cx="758.9" cy="1991.2" r="8.6" fill="#4e6885"/>
<circle cx="676.3" cy="2000.5" r="8.6" fill="#1965c5"/>
<circle cx="689.3" cy="2003.5" r="8.6" fill="#2066bc"/>
<circle cx="705.0" cy="2004.0" r="8.6" fill="#2968b0"/>
<circle cx="719.2" cy="2003.7" r="8.6" fill="#3268a3"/>
<circle cx="735.9" cy="2004.0" r="8.6" fill="#3d6894"/>
<circle cx="747.4" cy="2000.2" r="8.6" fill="#45688b"/>
<circle cx="698.8" cy="2016.3" r="8.6" fill="#2567b5"/>
<circle cx="711.8" cy="2016.6" r="8.6" fill="#2d68aa"/>
<circle cx="726.1" cy="2014.6" r="8.6" fill="#36689d"/>
<circle cx="704.7" cy="2025.6" r="8.6" fill="#2868b0"/>
<circle cx="565.6" cy="1899.6" r="8.6" fill="#182282"/>
<circle cx="583.5" cy="1896.7" r="8.6" fill="#142d90"/>
<circle cx="571.7" cy="1912.8" r="8.6" fill="#162687"/>
<circle cx="594.6" cy="1913.7" r="8.6" fill="#11359a"/>
<circle cx="561.7" cy="1930.0" r="8.6" fill="#19207f"/>
<circle cx="583.9" cy="1933.5" r="8.6" fill="#142d90"/>
<circle cx="604.3" cy="1932.6" r="8.6" fill="#0e3ca3"/>
<circle cx="571.1" cy="1949.2" r="8.6" fill="#172686"/>
<circle cx="594.9" cy="1950.6" r="8.6" fill="#11359a"/>
<circle cx="561.9" cy="1967.7" r="8.6" fill="#19207f"/>
<circle cx="581.7" cy="1965.2" r="8.6" fill="#142c8e"/>
<circle cx="601.1" cy="1965.2" r="8.6" fill="#0f39a0"/>
<circle cx="575.4" cy="1985.3" r="8.6" fill="#162889"/>
<circle cx="591.1" cy="1983.7" r="8.6" fill="#123296"/>
<circle cx="912.7" cy="1595.0" r="8.6" fill="#f2aa00"/>
<circle cx="977.0" cy="1652.7" r="8.6" fill="#ff8d00"/>
<circle cx="709.9" cy="1689.0" r="8.6" fill="#2c68ac"/>
<circle cx="838.5" cy="1692.3" r="8.6" fill="#9d8647"/>
<circle cx="856.6" cy="1707.1" r="8.6" fill="#af8c38"/>
<circle cx="935.8" cy="1708.8" r="8.6" fill="#ffaa00"/>
<circle cx="957.2" cy="1710.4" r="8.6" fill="#ff9e00"/>
<circle cx="963.8" cy="1713.7" r="8.6" fill="#ff9800"/>
<circle cx="619.3" cy="1731.8" r="8.6" fill="#0b47b2"/>
<circle cx="1009.9" cy="1727.6" r="8.6" fill="#ff7b00"/>
<circle cx="950.6" cy="1738.4" r="8.6" fill="#ffa200"/>
<circle cx="944.0" cy="1754.9" r="8.6" fill="#ffa600"/>
<circle cx="1019.8" cy="1753.9" r="8.6" fill="#ff7500"/>
<circle cx="995.1" cy="1764.1" r="8.6" fill="#ff8300"/>
<circle cx="635.8" cy="1757.2" r="8.6" fill="#0854c7"/>
<circle cx="848.4" cy="1762.2" r="8.6" fill="#a7893f"/>
<circle cx="856.6" cy="1763.2" r="8.6" fill="#af8c38"/>
<circle cx="920.9" cy="1766.5" r="8.6" fill="#ffaf00"/>
<circle cx="876.4" cy="1769.7" r="8.6" fill="#c39523"/>
<circle cx="876.4" cy="1778.0" r="8.6" fill="#c39523"/>
<circle cx="878.1" cy="1786.2" r="8.6" fill="#c6961e"/>
<circle cx="592.9" cy="1773.0" r="8.6" fill="#113398"/>
<circle cx="813.8" cy="1771.4" r="8.6" fill="#80795c"/>
<circle cx="818.7" cy="1778.0" r="8.6" fill="#857c57"/>
<circle cx="644.0" cy="1787.2" r="8.6" fill="#085bd2"/>
<circle cx="759.4" cy="1788.5" r="8.6" fill="#4e6885"/>
<circle cx="812.1" cy="1794.5" r="8.6" fill="#7f785d"/>
<circle cx="963.8" cy="1781.3" r="8.6" fill="#ff9800"/>
<circle cx="952.2" cy="1787.9" r="8.6" fill="#ffa100"/>
<circle cx="950.6" cy="1797.8" r="8.6" fill="#ffa200"/>
<circle cx="912.7" cy="1791.2" r="8.6" fill="#f2aa00"/>
<circle cx="912.7" cy="1801.1" r="8.6" fill="#f2aa00"/>
<circle cx="876.4" cy="1801.1" r="8.6" fill="#c39523"/>
<circle cx="950.6" cy="1807.7" r="8.6" fill="#ffa200"/>
<circle cx="953.9" cy="1812.6" r="8.6" fill="#ffa100"/>
<circle cx="1026.4" cy="1808.3" r="8.6" fill="#ff7100"/>
<circle cx="543.5" cy="1807.7" r="8.6" fill="#1b1775"/>
<circle cx="569.8" cy="1812.6" r="8.6" fill="#172585"/>
<circle cx="589.6" cy="1802.7" r="8.6" fill="#123195"/>
<circle cx="718.2" cy="1806.0" r="8.6" fill="#3168a4"/>
<circle cx="728.1" cy="1804.4" r="8.6" fill="#38689b"/>
<circle cx="653.9" cy="1811.0" r="8.6" fill="#0a61d7"/>
<circle cx="653.9" cy="1824.1" r="8.6" fill="#0a61d7"/>
<circle cx="754.4" cy="1806.0" r="8.6" fill="#4a6887"/>
<circle cx="744.6" cy="1817.6" r="8.6" fill="#43688d"/>
<circle cx="850.0" cy="1814.3" r="8.6" fill="#a98a3e"/>
<circle cx="856.6" cy="1829.1" r="8.6" fill="#af8c38"/>
<circle cx="883.0" cy="1834.0" r="8.6" fill="#cd9810"/>
<circle cx="919.3" cy="1830.7" r="8.6" fill="#ffb000"/>
<circle cx="1005.0" cy="1824.1" r="8.6" fill="#ff7e00"/>
<circle cx="774.2" cy="1822.5" r="8.6" fill="#5a687c"/>
<circle cx="784.1" cy="1822.5" r="8.6" fill="#626976"/>
<circle cx="808.8" cy="1827.4" r="8.6" fill="#7b7660"/>
<circle cx="607.7" cy="1832.4" r="8.6" fill="#0e3ea7"/>
<circle cx="672.0" cy="1840.6" r="8.6" fill="#1764c8"/>
<circle cx="691.8" cy="1832.4" r="8.6" fill="#2166ba"/>
<circle cx="693.5" cy="1843.9" r="8.6" fill="#2267b9"/>
<circle cx="709.9" cy="1827.4" r="8.6" fill="#2c68ac"/>
<circle cx="718.2" cy="1837.3" r="8.6" fill="#3168a4"/>
<circle cx="803.9" cy="1848.9" r="8.6" fill="#767364"/>
<circle cx="850.0" cy="1853.8" r="8.6" fill="#a98a3e"/>
<circle cx="563.2" cy="1853.2" r="8.6" fill="#182180"/>
<circle cx="589.6" cy="1850.5" r="8.6" fill="#123195"/>
<circle cx="599.5" cy="1857.1" r="8.6" fill="#10389f"/>
<circle cx="619.3" cy="1862.1" r="8.6" fill="#0b47b2"/>
<circle cx="635.8" cy="1857.1" r="8.6" fill="#0854c7"/>
<circle cx="642.4" cy="1865.4" r="8.6" fill="#085ad0"/>
<circle cx="681.9" cy="1853.8" r="8.6" fill="#1c65c1"/>
<circle cx="695.1" cy="1853.8" r="8.6" fill="#2367b7"/>
<circle cx="729.7" cy="1858.8" r="8.6" fill="#396899"/>
<circle cx="751.1" cy="1865.4" r="8.6" fill="#486889"/>
<circle cx="711.6" cy="1863.7" r="8.6" fill="#2d68aa"/>
<circle cx="701.7" cy="1873.6" r="8.6" fill="#2767b2"/>
<circle cx="718.2" cy="1873.6" r="8.6" fill="#3168a4"/>
<circle cx="698.4" cy="1883.5" r="8.6" fill="#2567b5"/>
<circle cx="767.6" cy="1873.6" r="8.6" fill="#556880"/>
<circle cx="561.6" cy="1880.2" r="8.6" fill="#19207f"/>
<circle cx="564.9" cy="1873.6" r="8.6" fill="#182282"/>
<circle cx="583.0" cy="1867.0" r="8.6" fill="#142d8f"/>
<circle cx="589.6" cy="1876.9" r="8.6" fill="#123195"/>
<circle cx="670.4" cy="1880.2" r="8.6" fill="#1664ca"/>
<circle cx="896.2" cy="1882.8" r="8.6" fill="#db9f01"/>
<circle cx="927.5" cy="1878.5" r="8.6" fill="#ffad00"/>
<circle cx="576.4" cy="1893.4" r="8.6" fill="#15298a"/>
<circle cx="583.0" cy="1896.7" r="8.6" fill="#142d8f"/>
<circle cx="592.9" cy="1890.1" r="8.6" fill="#113398"/>
<circle cx="616.0" cy="1893.4" r="8.6" fill="#0b44af"/>
<circle cx="619.3" cy="1896.7" r="8.6" fill="#0b47b2"/>
<circle cx="652.2" cy="1891.7" r="8.6" fill="#0961d8"/>
<circle cx="665.4" cy="1896.7" r="8.6" fill="#1364ce"/>
<circle cx="685.2" cy="1896.7" r="8.6" fill="#1e66bf"/>
<circle cx="688.5" cy="1909.9" r="8.6" fill="#2066bc"/>
<circle cx="711.6" cy="1893.4" r="8.6" fill="#2d68aa"/>
<circle cx="728.1" cy="1891.7" r="8.6" fill="#38689b"/>
<circle cx="744.6" cy="1886.8" r="8.6" fill="#43688d"/>
<circle cx="757.7" cy="1885.1" r="8.6" fill="#4d6885"/>
<circle cx="780.8" cy="1886.8" r="8.6" fill="#5f6879"/>
<circle cx="754.4" cy="1898.3" r="8.6" fill="#4a6887"/>
<circle cx="770.9" cy="1896.7" r="8.6" fill="#57687e"/>
<circle cx="800.6" cy="1900.0" r="8.6" fill="#737167"/>
<circle cx="812.1" cy="1896.7" r="8.6" fill="#7f785d"/>
<circle cx="828.6" cy="1895.0" r="8.6" fill="#90824e"/>
<circle cx="546.7" cy="1906.6" r="8.6" fill="#1b1876"/>
<circle cx="556.6" cy="1911.5" r="8.6" fill="#1a1d7b"/>
<circle cx="576.4" cy="1909.9" r="8.6" fill="#15298a"/>
<circle cx="589.6" cy="1916.5" r="8.6" fill="#123195"/>
<circle cx="607.7" cy="1913.2" r="8.6" fill="#0e3ea7"/>
<circle cx="642.4" cy="1909.9" r="8.6" fill="#085ad0"/>
<circle cx="655.5" cy="1906.6" r="8.6" fill="#0b61d6"/>
<circle cx="672.0" cy="1913.2" r="8.6" fill="#1764c8"/>
<circle cx="691.8" cy="1913.2" r="8.6" fill="#2166ba"/>
<circle cx="705.0" cy="1916.5" r="8.6" fill="#2968b0"/>
<circle cx="718.2" cy="1909.9" r="8.6" fill="#3168a4"/>
<circle cx="731.4" cy="1913.2" r="8.6" fill="#3a6898"/>
<circle cx="744.6" cy="1909.9" r="8.6" fill="#43688d"/>
<circle cx="757.7" cy="1913.2" r="8.6" fill="#4d6885"/>
<circle cx="770.9" cy="1916.5" r="8.6" fill="#57687e"/>
<circle cx="784.1" cy="1916.5" r="8.6" fill="#626976"/>
<circle cx="838.5" cy="1918.1" r="8.6" fill="#9d8647"/>
<circle cx="945.7" cy="1905.9" r="8.6" fill="#ffa500"/>
<circle cx="1013.2" cy="1908.2" r="8.6" fill="#ff7a00"/>
<circle cx="1069.3" cy="1898.3" r="8.6" fill="#ff5900"/>
<circle cx="530.3" cy="1924.7" r="8.6" fill="#1b126f"/>
<circle cx="606.1" cy="1931.3" r="8.6" fill="#0e3da5"/>
<circle cx="632.5" cy="1926.3" r="8.6" fill="#0951c3"/>
<circle cx="639.1" cy="1932.9" r="8.6" fill="#0857cc"/>
<circle cx="658.8" cy="1926.3" r="8.6" fill="#0e62d3"/>
<circle cx="672.0" cy="1929.6" r="8.6" fill="#1764c8"/>
<circle cx="691.8" cy="1929.6" r="8.6" fill="#2166ba"/>
<circle cx="705.0" cy="1932.9" r="8.6" fill="#2968b0"/>
<circle cx="718.2" cy="1929.6" r="8.6" fill="#3168a4"/>
<circle cx="731.4" cy="1926.3" r="8.6" fill="#3a6898"/>
<circle cx="744.6" cy="1932.9" r="8.6" fill="#43688d"/>
<circle cx="757.7" cy="1926.3" r="8.6" fill="#4d6885"/>
<circle cx="770.9" cy="1929.6" r="8.6" fill="#57687e"/>
<circle cx="784.1" cy="1926.3" r="8.6" fill="#626976"/>
<circle cx="802.2" cy="1928.0" r="8.6" fill="#757266"/>
<circle cx="1021.5" cy="1924.7" r="8.6" fill="#ff7400"/>
<circle cx="1028.1" cy="1931.3" r="8.6" fill="#ff7000"/>
<circle cx="576.4" cy="1939.5" r="8.6" fill="#15298a"/>
<circle cx="586.3" cy="1946.1" r="8.6" fill="#132f92"/>
<circle cx="625.9" cy="1942.8" r="8.6" fill="#0a4cba"/>
<circle cx="645.7" cy="1939.5" r="8.6" fill="#075cd4"/>
<circle cx="655.5" cy="1946.1" r="8.6" fill="#0b61d6"/>
<circle cx="672.0" cy="1942.8" r="8.6" fill="#1764c8"/>
<circle cx="685.2" cy="1946.1" r="8.6" fill="#1e66bf"/>
<circle cx="698.4" cy="1942.8" r="8.6" fill="#2567b5"/>
<circle cx="711.6" cy="1946.1" r="8.6" fill="#2d68aa"/>
<circle cx="724.8" cy="1942.8" r="8.6" fill="#35689e"/>
<circle cx="738.0" cy="1946.1" r="8.6" fill="#3e6892"/>
<circle cx="751.1" cy="1942.8" r="8.6" fill="#486889"/>
<circle cx="764.3" cy="1946.1" r="8.6" fill="#526882"/>
<circle cx="777.5" cy="1942.8" r="8.6" fill="#5c687b"/>
<circle cx="790.7" cy="1939.5" r="8.6" fill="#696c6f"/>
<circle cx="815.4" cy="1939.5" r="8.6" fill="#827a5a"/>
<circle cx="823.7" cy="1942.8" r="8.6" fill="#8a7f52"/>
<circle cx="820.4" cy="1949.4" r="8.6" fill="#877d55"/>
<circle cx="563.2" cy="1957.7" r="8.6" fill="#182180"/>
<circle cx="573.1" cy="1959.3" r="8.6" fill="#162788"/>
<circle cx="583.0" cy="1962.6" r="8.6" fill="#142d8f"/>
<circle cx="599.5" cy="1949.4" r="8.6" fill="#10389f"/>
<circle cx="619.3" cy="1956.0" r="8.6" fill="#0b47b2"/>
<circle cx="625.9" cy="1965.9" r="8.6" fill="#0a4cba"/>
<circle cx="639.1" cy="1959.3" r="8.6" fill="#0857cc"/>
<circle cx="658.8" cy="1959.3" r="8.6" fill="#0e62d3"/>
<circle cx="672.0" cy="1962.6" r="8.6" fill="#1764c8"/>
<circle cx="685.2" cy="1959.3" r="8.6" fill="#1e66bf"/>
<circle cx="698.4" cy="1962.6" r="8.6" fill="#2567b5"/>
<circle cx="711.6" cy="1959.3" r="8.6" fill="#2d68aa"/>
<circle cx="724.8" cy="1962.6" r="8.6" fill="#35689e"/>
<circle cx="738.0" cy="1959.3" r="8.6" fill="#3e6892"/>
<circle cx="751.1" cy="1962.6" r="8.6" fill="#486889"/>
<circle cx="767.6" cy="1956.0" r="8.6" fill="#556880"/>
<circle cx="818.7" cy="1959.3" r="8.6" fill="#857c57"/>
<circle cx="566.5" cy="1977.4" r="8.6" fill="#182383"/>
<circle cx="589.6" cy="1975.8" r="8.6" fill="#123195"/>
<circle cx="616.0" cy="1975.8" r="8.6" fill="#0b44af"/>
<circle cx="632.5" cy="1972.5" r="8.6" fill="#0951c3"/>
<circle cx="648.9" cy="1972.5" r="8.6" fill="#075fd9"/>
<circle cx="665.4" cy="1975.8" r="8.6" fill="#1364ce"/>
<circle cx="678.6" cy="1972.5" r="8.6" fill="#1a65c4"/>
<circle cx="691.8" cy="1975.8" r="8.6" fill="#2166ba"/>
<circle cx="705.0" cy="1972.5" r="8.6" fill="#2968b0"/>
<circle cx="718.2" cy="1975.8" r="8.6" fill="#3168a4"/>
<circle cx="731.4" cy="1972.5" r="8.6" fill="#3a6898"/>
<circle cx="744.6" cy="1975.8" r="8.6" fill="#43688d"/>
<circle cx="757.7" cy="1979.1" r="8.6" fill="#4d6885"/>
<circle cx="780.8" cy="1969.2" r="8.6" fill="#5f6879"/>
<circle cx="812.1" cy="1972.5" r="8.6" fill="#7f785d"/>
<circle cx="589.6" cy="1990.6" r="8.6" fill="#123195"/>
<circle cx="612.7" cy="1992.3" r="8.6" fill="#0c42ac"/>
<circle cx="645.7" cy="1989.0" r="8.6" fill="#075cd4"/>
<circle cx="655.5" cy="1989.0" r="8.6" fill="#0b61d6"/>
<circle cx="672.0" cy="1992.3" r="8.6" fill="#1764c8"/>
<circle cx="691.8" cy="1989.0" r="8.6" fill="#2166ba"/>
<circle cx="705.0" cy="1992.3" r="8.6" fill="#2968b0"/>
<circle cx="718.2" cy="1989.0" r="8.6" fill="#3168a4"/>
<circle cx="731.4" cy="1992.3" r="8.6" fill="#3a6898"/>
<circle cx="744.6" cy="1989.0" r="8.6" fill="#43688d"/>
<circle cx="757.7" cy="1992.3" r="8.6" fill="#4d6885"/>
<circle cx="774.2" cy="1989.0" r="8.6" fill="#5a687c"/>
<circle cx="787.4" cy="1987.3" r="8.6" fill="#656b73"/>
<circle cx="522.0" cy="2002.2" r="8.6" fill="#1a106c"/>
<circle cx="569.8" cy="1998.9" r="8.6" fill="#172585"/>
<circle cx="576.4" cy="2008.8" r="8.6" fill="#15298a"/>
<circle cx="592.9" cy="2007.1" r="8.6" fill="#113398"/>
<circle cx="602.8" cy="2008.8" r="8.6" fill="#0f3ba2"/>
<circle cx="658.8" cy="2013.7" r="8.6" fill="#0e62d3"/>
<circle cx="685.2" cy="2002.2" r="8.6" fill="#1e66bf"/>
<circle cx="698.4" cy="1998.9" r="8.6" fill="#2567b5"/>
<circle cx="711.6" cy="2002.2" r="8.6" fill="#2d68aa"/>
<circle cx="724.8" cy="2002.2" r="8.6" fill="#35689e"/>
<circle cx="738.0" cy="1998.9" r="8.6" fill="#3e6892"/>
<circle cx="751.1" cy="2002.2" r="8.6" fill="#486889"/>
<circle cx="764.3" cy="2002.2" r="8.6" fill="#526882"/>
<circle cx="775.9" cy="2008.8" r="8.6" fill="#5b687c"/>
<circle cx="556.6" cy="2018.0" r="8.6" fill="#1a1d7b"/>
<circle cx="579.7" cy="2025.2" r="8.6" fill="#152b8d"/>
<circle cx="609.4" cy="2023.6" r="8.6" fill="#0d3fa8"/>
<circle cx="688.5" cy="2018.7" r="8.6" fill="#2066bc"/>
<circle cx="701.7" cy="2015.4" r="8.6" fill="#2767b2"/>
<circle cx="714.9" cy="2018.7" r="8.6" fill="#2f68a7"/>
<circle cx="731.4" cy="2015.4" r="8.6" fill="#3a6898"/>
<circle cx="751.1" cy="2018.7" r="8.6" fill="#486889"/>
<circle cx="757.7" cy="2025.2" r="8.6" fill="#4d6885"/>
<circle cx="583.0" cy="2028.5" r="8.6" fill="#142d8f"/>
<circle cx="660.5" cy="2031.8" r="8.6" fill="#0f62d2"/>
<circle cx="662.1" cy="2041.7" r="8.6" fill="#1063d0"/>
<circle cx="691.8" cy="2028.5" r="8.6" fill="#2166ba"/>
<circle cx="705.0" cy="2031.8" r="8.6" fill="#2968b0"/>
<circle cx="724.8" cy="2028.5" r="8.6" fill="#35689e"/>
<circle cx="738.0" cy="2035.1" r="8.6" fill="#3e6892"/>
<circle cx="701.7" cy="2038.4" r="8.6" fill="#2767b2"/>
<circle cx="935.8" cy="2033.5" r="8.6" fill="#ffaa00"/>
<circle cx="602.8" cy="2041.7" r="8.6" fill="#0f3ba2"/>
<circle cx="607.7" cy="2051.6" r="8.6" fill="#0e3ea7"/>
<circle cx="589.6" cy="2051.6" r="8.6" fill="#123195"/>
<circle cx="644.0" cy="2045.0" r="8.6" fill="#085bd2"/>
<circle cx="691.8" cy="2053.3" r="8.6" fill="#2166ba"/>
<circle cx="728.1" cy="2053.3" r="8.6" fill="#38689b"/>
<circle cx="770.9" cy="2045.0" r="8.6" fill="#57687e"/>
<circle cx="645.7" cy="2081.3" r="8.6" fill="#075cd4"/>
<circle cx="688.5" cy="2079.6" r="8.6" fill="#2066bc"/>
<circle cx="713.2" cy="2074.7" r="8.6" fill="#2e68a9"/>
<circle cx="708.3" cy="2086.2" r="8.6" fill="#2a68ad"/>
<circle cx="738.0" cy="2079.6" r="8.6" fill="#3e6892"/>
<circle cx="756.1" cy="2071.4" r="8.6" fill="#4c6886"/>
<circle cx="779.2" cy="2079.6" r="8.6" fill="#5d687a"/>
<circle cx="810.5" cy="2082.9" r="8.6" fill="#7d775f"/>
<circle cx="705.0" cy="2101.1" r="8.6" fill="#2968b0"/>
<circle cx="736.3" cy="2112.6" r="8.6" fill="#3d6893"/>
<circle cx="637.4" cy="2124.1" r="8.6" fill="#0855c9"/>
<circle cx="668.7" cy="2120.9" r="8.6" fill="#1564cb"/>
<circle cx="675.3" cy="2127.4" r="8.6" fill="#1865c6"/>
<circle cx="685.2" cy="2127.4" r="8.6" fill="#1e66bf"/>
<circle cx="705.0" cy="2129.1" r="8.6" fill="#2968b0"/>
<circle cx="713.2" cy="2119.2" r="8.6" fill="#2e68a9"/>
<circle cx="619.3" cy="2162.1" r="8.6" fill="#0b47b2"/>
<line x1="494.5" x2="1093.5" y1="1930.7" y2="1930.7" stroke="#000" stroke-width="3.6" stroke-dasharray="15 17.5"/>
</g>
<rect x="494.5" y="1567.2" width="599.0" height="623.0" fill="none" stroke="#333333" stroke-width="2.2"/>
<line x1="528.4" x2="528.4" y1="2190.2" y2="2200.7" stroke="#333333" stroke-width="3.2"/>
<text x="528.4" y="2234.4" text-anchor="middle" class="tk">0.5</text>
<line x1="731.1" x2="731.1" y1="2190.2" y2="2200.7" stroke="#333333" stroke-width="3.2"/>
<text x="731.1" y="2234.4" text-anchor="middle" class="tk">0.6</text>
<line x1="933.8" x2="933.8" y1="2190.2" y2="2200.7" stroke="#333333" stroke-width="3.2"/>
<text x="933.8" y="2234.4" text-anchor="middle" class="tk">0.7</text>
<line x1="484.0" x2="494.5" y1="1628.4" y2="1628.4" stroke="#333333" stroke-width="3.2"/>
<text x="474.0" y="1640.5" text-anchor="end" class="tk">0.3</text>
<line x1="484.0" x2="494.5" y1="1777.4" y2="1777.4" stroke="#333333" stroke-width="3.2"/>
<text x="474.0" y="1789.5" text-anchor="end" class="tk">0.2</text>
<line x1="484.0" x2="494.5" y1="1926.4" y2="1926.4" stroke="#333333" stroke-width="3.2"/>
<text x="474.0" y="1938.5" text-anchor="end" class="tk">0.1</text>
<line x1="484.0" x2="494.5" y1="2075.4" y2="2075.4" stroke="#333333" stroke-width="3.2"/>
<text x="474.0" y="2087.5" text-anchor="end" class="tk">0.0</text>
<text x="794.0" y="2281.7" text-anchor="middle" class="at">Transcriptome Correlation</text>
<text transform="translate(409.0,1878.7) rotate(-90)" text-anchor="middle" class="at">Spearman ρ (mutation effect)</text>
<text x="957.0" y="2120.2" text-anchor="middle" class="an">ρ=0.27</text>
<text x="957.0" y="2173.7" text-anchor="middle" class="an">(p=2.8<tspan dx="8.5" style="font-size:50px">×</tspan><tspan dx="8.5">10</tspan><tspan class="sup" dy="-15.4">-7</tspan><tspan dy="15.4" dx="4">)</tspan></text>
</g>
<g id="pF">
<rect x="1246" y="1567.2" width="599.0" height="623.0" fill="#fff"/>
<clipPath id="cF"><rect x="1246" y="1567.2" width="599.0" height="623.0"/></clipPath>
<g clip-path="url(#cF)">
<line x1="1246" x2="1845" y1="1633.6" y2="1633.6" stroke="#e7e7e7" stroke-width="2.3"/>
<line x1="1246" x2="1845" y1="1881.2" y2="1881.2" stroke="#e7e7e7" stroke-width="2.3"/>
<line x1="1246" x2="1845" y1="2128.8" y2="2128.8" stroke="#e7e7e7" stroke-width="2.3"/>
<line x1="1381.3" x2="1381.3" y1="1567.2" y2="2190.2" stroke="#e7e7e7" stroke-width="2.3"/>
<line x1="1583.7" x2="1583.7" y1="1567.2" y2="2190.2" stroke="#e7e7e7" stroke-width="2.3"/>
<line x1="1786.1" x2="1786.1" y1="1567.2" y2="2190.2" stroke="#e7e7e7" stroke-width="2.3"/>
<line x1="1246" x2="1845" y1="1757.4" y2="1757.4" stroke="#e7e7e7" stroke-width="3.8"/>
<line x1="1246" x2="1845" y1="2005.0" y2="2005.0" stroke="#e7e7e7" stroke-width="3.8"/>
<line x1="1280.1" x2="1280.1" y1="1567.2" y2="2190.2" stroke="#e7e7e7" stroke-width="3.8"/>
<line x1="1482.5" x2="1482.5" y1="1567.2" y2="2190.2" stroke="#e7e7e7" stroke-width="3.8"/>
<line x1="1684.9" x2="1684.9" y1="1567.2" y2="2190.2" stroke="#e7e7e7" stroke-width="3.8"/>
<circle cx="1469.0" cy="1981.4" r="8.6" fill="#3168a5"/>
<circle cx="1496.0" cy="1981.4" r="8.6" fill="#43688d"/>
<circle cx="1511.2" cy="1980.8" r="8.6" fill="#4f6884"/>
<circle cx="1432.3" cy="1992.8" r="8.6" fill="#1b65c2"/>
<circle cx="1449.1" cy="1989.8" r="8.6" fill="#2567b5"/>
<circle cx="1459.3" cy="1991.8" r="8.6" fill="#2a68ae"/>
<circle cx="1473.5" cy="1993.4" r="8.6" fill="#3468a1"/>
<circle cx="1489.8" cy="1989.4" r="8.6" fill="#3f6891"/>
<circle cx="1505.7" cy="1989.1" r="8.6" fill="#4a6887"/>
<circle cx="1519.9" cy="1989.4" r="8.6" fill="#556880"/>
<circle cx="1411.7" cy="2003.8" r="8.6" fill="#0f62d2"/>
<circle cx="1428.3" cy="2002.8" r="8.6" fill="#1965c5"/>
<circle cx="1440.7" cy="2001.0" r="8.6" fill="#2066bc"/>
<circle cx="1455.3" cy="2001.9" r="8.6" fill="#2868b1"/>
<circle cx="1470.8" cy="2005.2" r="8.6" fill="#3268a3"/>
<circle cx="1481.7" cy="2004.8" r="8.6" fill="#396899"/>
<circle cx="1494.2" cy="2004.3" r="8.6" fill="#42688e"/>
<circle cx="1512.9" cy="2004.2" r="8.6" fill="#506883"/>
<circle cx="1523.0" cy="2005.6" r="8.6" fill="#58687e"/>
<circle cx="1538.1" cy="2004.8" r="8.6" fill="#656a73"/>
<circle cx="1389.6" cy="2014.8" r="8.6" fill="#0856ca"/>
<circle cx="1406.6" cy="2017.6" r="8.6" fill="#0b61d6"/>
<circle cx="1420.1" cy="2013.8" r="8.6" fill="#1564cb"/>
<circle cx="1432.0" cy="2013.6" r="8.6" fill="#1b65c2"/>
<circle cx="1445.2" cy="2014.1" r="8.6" fill="#2267b8"/>
<circle cx="1462.2" cy="2014.0" r="8.6" fill="#2c68ab"/>
<circle cx="1476.6" cy="2014.3" r="8.6" fill="#36689e"/>
<circle cx="1491.5" cy="2017.0" r="8.6" fill="#406890"/>
<circle cx="1501.7" cy="2015.2" r="8.6" fill="#47688a"/>
<circle cx="1517.8" cy="2016.5" r="8.6" fill="#546881"/>
<circle cx="1533.5" cy="2013.3" r="8.6" fill="#606878"/>
<circle cx="1400.1" cy="2026.7" r="8.6" fill="#075fd8"/>
<circle cx="1410.1" cy="2029.9" r="8.6" fill="#0d62d3"/>
<circle cx="1428.7" cy="2028.1" r="8.6" fill="#1965c5"/>
<circle cx="1442.8" cy="2029.6" r="8.6" fill="#2166ba"/>
<circle cx="1452.6" cy="2027.3" r="8.6" fill="#2667b3"/>
<circle cx="1469.3" cy="2028.2" r="8.6" fill="#3168a4"/>
<circle cx="1484.5" cy="2026.8" r="8.6" fill="#3b6896"/>
<circle cx="1495.1" cy="2029.9" r="8.6" fill="#42688d"/>
<circle cx="1512.6" cy="2026.5" r="8.6" fill="#506884"/>
<circle cx="1523.1" cy="2028.4" r="8.6" fill="#58687e"/>
<circle cx="1536.0" cy="2025.3" r="8.6" fill="#626976"/>
<circle cx="1391.3" cy="2038.4" r="8.6" fill="#0857cd"/>
<circle cx="1406.3" cy="2040.2" r="8.6" fill="#0b61d6"/>
<circle cx="1420.5" cy="2041.3" r="8.6" fill="#1564cb"/>
<circle cx="1432.5" cy="2038.2" r="8.6" fill="#1b65c2"/>
<circle cx="1449.5" cy="2039.7" r="8.6" fill="#2567b5"/>
<circle cx="1459.7" cy="2042.0" r="8.6" fill="#2a68ad"/>
<circle cx="1475.3" cy="2039.2" r="8.6" fill="#35689f"/>
<circle cx="1489.0" cy="2039.4" r="8.6" fill="#3e6892"/>
<circle cx="1503.8" cy="2040.0" r="8.6" fill="#496888"/>
<circle cx="1516.9" cy="2042.0" r="8.6" fill="#536881"/>
<circle cx="1533.8" cy="2041.8" r="8.6" fill="#606878"/>
<circle cx="1398.4" cy="2052.0" r="8.6" fill="#075dd6"/>
<circle cx="1410.8" cy="2052.7" r="8.6" fill="#0e62d3"/>
<circle cx="1425.8" cy="2051.8" r="8.6" fill="#1865c7"/>
<circle cx="1440.4" cy="2049.9" r="8.6" fill="#2066bc"/>
<circle cx="1453.8" cy="2053.0" r="8.6" fill="#2767b2"/>
<circle cx="1469.2" cy="2051.0" r="8.6" fill="#3168a5"/>
<circle cx="1481.7" cy="2051.0" r="8.6" fill="#396899"/>
<circle cx="1494.9" cy="2051.7" r="8.6" fill="#42688d"/>
<circle cx="1511.3" cy="2054.2" r="8.6" fill="#4f6884"/>
<circle cx="1526.1" cy="2049.7" r="8.6" fill="#5a687c"/>
<circle cx="1392.7" cy="2064.1" r="8.6" fill="#0859ce"/>
<circle cx="1404.7" cy="2065.3" r="8.6" fill="#0961d7"/>
<circle cx="1418.6" cy="2062.4" r="8.6" fill="#1464cc"/>
<circle cx="1434.9" cy="2062.7" r="8.6" fill="#1d66c0"/>
<circle cx="1449.0" cy="2062.5" r="8.6" fill="#2467b6"/>
<circle cx="1460.8" cy="2062.1" r="8.6" fill="#2b68ac"/>
<circle cx="1474.2" cy="2062.3" r="8.6" fill="#3468a0"/>
<circle cx="1488.9" cy="2062.9" r="8.6" fill="#3e6892"/>
<circle cx="1505.9" cy="2061.5" r="8.6" fill="#4b6887"/>
<circle cx="1516.8" cy="2062.1" r="8.6" fill="#536881"/>
<circle cx="1412.4" cy="2078.3" r="8.6" fill="#0f63d1"/>
<circle cx="1426.1" cy="2074.4" r="8.6" fill="#1865c7"/>
<circle cx="1441.8" cy="2077.3" r="8.6" fill="#2166bb"/>
<circle cx="1452.7" cy="2078.3" r="8.6" fill="#2767b3"/>
<circle cx="1467.4" cy="2076.3" r="8.6" fill="#3068a6"/>
<circle cx="1480.1" cy="2074.4" r="8.6" fill="#38689a"/>
<circle cx="1431.2" cy="2089.3" r="8.6" fill="#1b65c3"/>
<circle cx="1330.0" cy="2074.2" r="8.6" fill="#152a8c"/>
<circle cx="1348.7" cy="2076.0" r="8.6" fill="#10379c"/>
<circle cx="1367.1" cy="2075.0" r="8.6" fill="#0b44ae"/>
<circle cx="1380.8" cy="2078.0" r="8.6" fill="#094fbf"/>
<circle cx="1320.5" cy="2093.0" r="8.6" fill="#172485"/>
<circle cx="1337.2" cy="2089.7" r="8.6" fill="#132e91"/>
<circle cx="1357.5" cy="2090.5" r="8.6" fill="#0e3da5"/>
<circle cx="1375.0" cy="2093.1" r="8.6" fill="#0a4ab7"/>
<circle cx="1391.9" cy="2092.4" r="8.6" fill="#0858cd"/>
<circle cx="1332.5" cy="2107.7" r="8.6" fill="#142b8e"/>
<circle cx="1346.6" cy="2107.2" r="8.6" fill="#11359a"/>
<circle cx="1365.9" cy="2104.0" r="8.6" fill="#0c43ad"/>
<circle cx="1819.6" cy="1594.0" r="8.6" fill="#ff5900"/>
<circle cx="1761.9" cy="1617.4" r="8.6" fill="#ff7b00"/>
<circle cx="1696.0" cy="1629.6" r="8.6" fill="#ffa500"/>
<circle cx="1697.7" cy="1637.9" r="8.6" fill="#ffa400"/>
<circle cx="1671.3" cy="1638.9" r="8.6" fill="#ffaf00"/>
<circle cx="1705.9" cy="1642.8" r="8.6" fill="#ffa000"/>
<circle cx="1715.8" cy="1645.1" r="8.6" fill="#ff9800"/>
<circle cx="1757.0" cy="1642.8" r="8.6" fill="#ff7d00"/>
<circle cx="1747.1" cy="1654.4" r="8.6" fill="#ff8300"/>
<circle cx="1686.1" cy="1658.6" r="8.6" fill="#ffaa00"/>
<circle cx="1702.6" cy="1663.6" r="8.6" fill="#ffa200"/>
<circle cx="1607.0" cy="1675.8" r="8.6" fill="#af8c39"/>
<circle cx="1626.8" cy="1681.7" r="8.6" fill="#c29525"/>
<circle cx="1672.9" cy="1675.8" r="8.6" fill="#ffaf00"/>
<circle cx="1677.9" cy="1684.0" r="8.6" fill="#ffad00"/>
<circle cx="1702.6" cy="1684.0" r="8.6" fill="#ffa200"/>
<circle cx="1702.6" cy="1689.0" r="8.6" fill="#ffa200"/>
<circle cx="1727.3" cy="1688.3" r="8.6" fill="#ff8e00"/>
<circle cx="1776.8" cy="1673.2" r="8.6" fill="#ff7200"/>
<circle cx="1776.8" cy="1689.0" r="8.6" fill="#ff7200"/>
<circle cx="1770.2" cy="1693.9" r="8.6" fill="#ff7600"/>
<circle cx="1626.8" cy="1701.5" r="8.6" fill="#c29525"/>
<circle cx="1664.7" cy="1705.5" r="8.6" fill="#f4ab00"/>
<circle cx="1663.0" cy="1717.0" r="8.6" fill="#f0a900"/>
<circle cx="1709.2" cy="1708.8" r="8.6" fill="#ff9d00"/>
<circle cx="1710.8" cy="1719.3" r="8.6" fill="#ff9c00"/>
<circle cx="1714.1" cy="1721.9" r="8.6" fill="#ff9900"/>
<circle cx="1765.2" cy="1714.4" r="8.6" fill="#ff7900"/>
<circle cx="1590.5" cy="1721.9" r="8.6" fill="#9e8746"/>
<circle cx="1628.4" cy="1761.5" r="8.6" fill="#c49520"/>
<circle cx="1686.1" cy="1767.1" r="8.6" fill="#ffaa00"/>
<circle cx="1461.9" cy="1785.6" r="8.6" fill="#2c68ab"/>
<circle cx="1608.6" cy="1786.2" r="8.6" fill="#b08c38"/>
<circle cx="1635.0" cy="1785.2" r="8.6" fill="#cf990e"/>
<circle cx="1605.3" cy="1797.8" r="8.6" fill="#ad8b3a"/>
<circle cx="1602.0" cy="1801.1" r="8.6" fill="#aa8a3d"/>
<circle cx="1564.1" cy="1795.1" r="8.6" fill="#7f785d"/>
<circle cx="1371.9" cy="1810.0" r="8.6" fill="#0a47b3"/>
<circle cx="1628.4" cy="1822.5" r="8.6" fill="#c49520"/>
<circle cx="1600.4" cy="1842.3" r="8.6" fill="#a88a3e"/>
<circle cx="1648.2" cy="1849.5" r="8.6" fill="#dca000"/>
<circle cx="1570.7" cy="1855.5" r="8.6" fill="#867c56"/>
<circle cx="1565.8" cy="1863.7" r="8.6" fill="#81795b"/>
<circle cx="1601.4" cy="1866.3" r="8.6" fill="#a98a3e"/>
<circle cx="1535.1" cy="1879.5" r="8.6" fill="#616977"/>
<circle cx="1439.8" cy="1900.6" r="8.6" fill="#2066bc"/>
<circle cx="1555.9" cy="1908.2" r="8.6" fill="#777364"/>
<circle cx="1575.7" cy="1909.2" r="8.6" fill="#8b7f51"/>
<circle cx="1496.6" cy="1911.5" r="8.6" fill="#43688c"/>
<circle cx="1508.1" cy="1913.2" r="8.6" fill="#4c6886"/>
<circle cx="1509.7" cy="1924.7" r="8.6" fill="#4e6885"/>
<circle cx="1331.1" cy="1919.8" r="8.6" fill="#152b8d"/>
<circle cx="1579.0" cy="1932.3" r="8.6" fill="#8f814f"/>
<circle cx="1466.9" cy="1932.9" r="8.6" fill="#2f68a7"/>
<circle cx="1476.8" cy="1936.2" r="8.6" fill="#36689e"/>
<circle cx="1486.7" cy="1941.2" r="8.6" fill="#3c6894"/>
<circle cx="1496.6" cy="1946.1" r="8.6" fill="#43688c"/>
<circle cx="1526.2" cy="1949.4" r="8.6" fill="#5a687c"/>
<circle cx="1522.9" cy="1957.7" r="8.6" fill="#58687e"/>
<circle cx="1433.9" cy="1962.6" r="8.6" fill="#1c66c1"/>
<circle cx="1331.1" cy="1961.9" r="8.6" fill="#152b8d"/>
<circle cx="1343.3" cy="1970.9" r="8.6" fill="#123397"/>
<circle cx="1331.7" cy="1975.8" r="8.6" fill="#152b8d"/>
<circle cx="1330.1" cy="1989.0" r="8.6" fill="#152a8c"/>
<circle cx="1394.4" cy="1970.9" r="8.6" fill="#085ad0"/>
<circle cx="1400.9" cy="1980.7" r="8.6" fill="#0760d9"/>
<circle cx="1387.8" cy="1984.0" r="8.6" fill="#0854c8"/>
<circle cx="1453.7" cy="1970.9" r="8.6" fill="#2767b2"/>
<circle cx="1463.6" cy="1967.6" r="8.6" fill="#2d68aa"/>
<circle cx="1481.7" cy="1962.6" r="8.6" fill="#396899"/>
<circle cx="1499.8" cy="1969.2" r="8.6" fill="#46688b"/>
<circle cx="1437.2" cy="1980.7" r="8.6" fill="#1e66be"/>
<circle cx="1450.4" cy="1982.4" r="8.6" fill="#2567b4"/>
<circle cx="1473.5" cy="1979.1" r="8.6" fill="#3468a1"/>
<circle cx="1490.0" cy="1982.4" r="8.6" fill="#3f6891"/>
<circle cx="1509.7" cy="1979.1" r="8.6" fill="#4e6885"/>
<circle cx="1526.2" cy="1979.1" r="8.6" fill="#5a687c"/>
<circle cx="1572.4" cy="1988.3" r="8.6" fill="#887d54"/>
<circle cx="1588.9" cy="1987.3" r="8.6" fill="#9d8648"/>
<circle cx="1293.8" cy="1994.9" r="8.6" fill="#1b1774"/>
<circle cx="1539.4" cy="1992.3" r="8.6" fill="#666b72"/>
<circle cx="1552.6" cy="1995.6" r="8.6" fill="#747266"/>
<circle cx="1562.5" cy="2005.5" r="8.6" fill="#7e775e"/>
<circle cx="1321.8" cy="2006.1" r="8.6" fill="#172586"/>
<circle cx="1340.0" cy="2006.5" r="8.6" fill="#133094"/>
<circle cx="1370.6" cy="2005.5" r="8.6" fill="#0b46b2"/>
<circle cx="1391.1" cy="2015.4" r="8.6" fill="#0857cc"/>
<circle cx="1407.5" cy="2008.8" r="8.6" fill="#0c61d5"/>
<circle cx="1424.0" cy="2008.8" r="8.6" fill="#1765c8"/>
<circle cx="1443.8" cy="2002.2" r="8.6" fill="#2266b9"/>
<circle cx="1460.3" cy="1998.9" r="8.6" fill="#2b68ad"/>
<circle cx="1476.8" cy="2002.2" r="8.6" fill="#36689e"/>
<circle cx="1490.0" cy="1998.9" r="8.6" fill="#3f6891"/>
<circle cx="1503.1" cy="1995.6" r="8.6" fill="#486889"/>
<circle cx="1519.6" cy="2002.2" r="8.6" fill="#556880"/>
<circle cx="1532.8" cy="2005.5" r="8.6" fill="#5f6879"/>
<circle cx="1387.8" cy="2028.5" r="8.6" fill="#0854c8"/>
<circle cx="1404.2" cy="2025.2" r="8.6" fill="#0961d8"/>
<circle cx="1420.7" cy="2028.5" r="8.6" fill="#1564cb"/>
<circle cx="1433.9" cy="2022.0" r="8.6" fill="#1c66c1"/>
<circle cx="1447.1" cy="2018.7" r="8.6" fill="#2367b7"/>
<circle cx="1463.6" cy="2022.0" r="8.6" fill="#2d68aa"/>
<circle cx="1476.8" cy="2025.2" r="8.6" fill="#36689e"/>
<circle cx="1493.3" cy="2015.4" r="8.6" fill="#41688e"/>
<circle cx="1506.4" cy="2022.0" r="8.6" fill="#4b6887"/>
<circle cx="1522.9" cy="2018.7" r="8.6" fill="#58687e"/>
<circle cx="1539.4" cy="2015.4" r="8.6" fill="#666b72"/>
<circle cx="1560.8" cy="2023.6" r="8.6" fill="#7c7660"/>
<circle cx="1565.8" cy="2033.5" r="8.6" fill="#81795b"/>
<circle cx="1328.4" cy="2031.8" r="8.6" fill="#15298b"/>
<circle cx="1343.3" cy="2035.1" r="8.6" fill="#123397"/>
<circle cx="1307.0" cy="2045.0" r="8.6" fill="#1a1c7a"/>
<circle cx="1335.0" cy="2048.3" r="8.6" fill="#142d90"/>
<circle cx="1354.8" cy="2045.0" r="8.6" fill="#0f3ba2"/>
<circle cx="1371.3" cy="2045.0" r="8.6" fill="#0a47b2"/>
<circle cx="1387.8" cy="2051.6" r="8.6" fill="#0854c8"/>
<circle cx="1404.2" cy="2041.7" r="8.6" fill="#0961d8"/>
<circle cx="1417.4" cy="2045.0" r="8.6" fill="#1364cd"/>
<circle cx="1433.9" cy="2041.7" r="8.6" fill="#1c66c1"/>
<circle cx="1447.1" cy="2045.0" r="8.6" fill="#2367b7"/>
<circle cx="1460.3" cy="2038.4" r="8.6" fill="#2b68ad"/>
<circle cx="1476.8" cy="2041.7" r="8.6" fill="#36689e"/>
<circle cx="1490.0" cy="2045.0" r="8.6" fill="#3f6891"/>
<circle cx="1503.1" cy="2038.4" r="8.6" fill="#486889"/>
<circle cx="1519.6" cy="2041.7" r="8.6" fill="#556880"/>
<circle cx="1529.5" cy="2035.1" r="8.6" fill="#5d687a"/>
<circle cx="1270.7" cy="2058.2" r="8.6" fill="#1a0e6b"/>
<circle cx="1555.9" cy="2054.3" r="8.6" fill="#777364"/>
<circle cx="1325.1" cy="2061.5" r="8.6" fill="#162788"/>
<circle cx="1344.9" cy="2061.5" r="8.6" fill="#113498"/>
<circle cx="1361.4" cy="2058.2" r="8.6" fill="#0d40a9"/>
<circle cx="1377.9" cy="2064.8" r="8.6" fill="#094cbb"/>
<circle cx="1400.9" cy="2058.2" r="8.6" fill="#0760d9"/>
<circle cx="1417.4" cy="2061.5" r="8.6" fill="#1364cd"/>
<circle cx="1430.6" cy="2058.2" r="8.6" fill="#1a65c3"/>
<circle cx="1443.8" cy="2061.5" r="8.6" fill="#2266b9"/>
<circle cx="1460.3" cy="2058.2" r="8.6" fill="#2b68ad"/>
<circle cx="1473.5" cy="2061.5" r="8.6" fill="#3468a1"/>
<circle cx="1490.0" cy="2058.2" r="8.6" fill="#3f6891"/>
<circle cx="1506.4" cy="2061.5" r="8.6" fill="#4b6887"/>
<circle cx="1280.6" cy="2086.2" r="8.6" fill="#1a126f"/>
<circle cx="1298.7" cy="2081.3" r="8.6" fill="#1b1876"/>
<circle cx="1311.9" cy="2084.6" r="8.6" fill="#191f7e"/>
<circle cx="1325.1" cy="2078.0" r="8.6" fill="#162788"/>
<circle cx="1338.3" cy="2081.3" r="8.6" fill="#132f92"/>
<circle cx="1354.8" cy="2074.7" r="8.6" fill="#0f3ba2"/>
<circle cx="1368.0" cy="2078.0" r="8.6" fill="#0b45af"/>
<circle cx="1381.2" cy="2081.3" r="8.6" fill="#094fbf"/>
<circle cx="1394.4" cy="2081.3" r="8.6" fill="#085ad0"/>
<circle cx="1407.5" cy="2074.7" r="8.6" fill="#0c61d5"/>
<circle cx="1424.0" cy="2078.0" r="8.6" fill="#1765c8"/>
<circle cx="1437.2" cy="2074.7" r="8.6" fill="#1e66be"/>
<circle cx="1450.4" cy="2081.3" r="8.6" fill="#2567b4"/>
<circle cx="1466.9" cy="2078.0" r="8.6" fill="#2f68a7"/>
<circle cx="1483.4" cy="2081.3" r="8.6" fill="#3a6897"/>
<circle cx="1496.6" cy="2071.4" r="8.6" fill="#43688c"/>
<circle cx="1513.0" cy="2084.6" r="8.6" fill="#506883"/>
<circle cx="1308.6" cy="2097.8" r="8.6" fill="#1a1d7c"/>
<circle cx="1321.8" cy="2101.1" r="8.6" fill="#172586"/>
<circle cx="1335.0" cy="2097.8" r="8.6" fill="#142d90"/>
<circle cx="1348.2" cy="2094.5" r="8.6" fill="#10369c"/>
<circle cx="1364.7" cy="2097.8" r="8.6" fill="#0c42ac"/>
<circle cx="1377.9" cy="2091.2" r="8.6" fill="#094cbb"/>
<circle cx="1391.1" cy="2094.5" r="8.6" fill="#0857cc"/>
<circle cx="1410.8" cy="2097.8" r="8.6" fill="#0e62d2"/>
<circle cx="1427.3" cy="2104.4" r="8.6" fill="#1965c6"/>
<circle cx="1443.8" cy="2094.5" r="8.6" fill="#2266b9"/>
<circle cx="1450.4" cy="2107.7" r="8.6" fill="#2567b4"/>
<circle cx="1463.6" cy="2101.1" r="8.6" fill="#2d68aa"/>
<circle cx="1490.0" cy="2089.5" r="8.6" fill="#3f6891"/>
<circle cx="1496.6" cy="2107.7" r="8.6" fill="#43688c"/>
<circle cx="1315.2" cy="2114.3" r="8.6" fill="#182181"/>
<circle cx="1328.4" cy="2111.0" r="8.6" fill="#15298b"/>
<circle cx="1344.9" cy="2114.3" r="8.6" fill="#113498"/>
<circle cx="1371.3" cy="2101.1" r="8.6" fill="#0a47b2"/>
<circle cx="1483.4" cy="2117.6" r="8.6" fill="#3a6897"/>
<circle cx="1330.1" cy="2127.4" r="8.6" fill="#152a8c"/>
<circle cx="1321.8" cy="2134.0" r="8.6" fill="#172586"/>
<circle cx="1368.0" cy="2124.1" r="8.6" fill="#0b45af"/>
<circle cx="1368.0" cy="2127.4" r="8.6" fill="#0b45af"/>
<circle cx="1407.5" cy="2125.8" r="8.6" fill="#0c61d5"/>
<circle cx="1420.7" cy="2124.1" r="8.6" fill="#1564cb"/>
<circle cx="1463.6" cy="2124.1" r="8.6" fill="#2d68aa"/>
<circle cx="1476.8" cy="2127.4" r="8.6" fill="#36689e"/>
<circle cx="1315.2" cy="2143.9" r="8.6" fill="#182181"/>
<circle cx="1417.4" cy="2143.9" r="8.6" fill="#1364cd"/>
<circle cx="1425.7" cy="2153.8" r="8.6" fill="#1865c7"/>
<circle cx="1442.2" cy="2147.2" r="8.6" fill="#2166bb"/>
<circle cx="1486.7" cy="2140.6" r="8.6" fill="#3c6894"/>
<circle cx="1359.7" cy="2162.1" r="8.6" fill="#0d3fa7"/>
<line x1="1246" x2="1845" y1="1603.6" y2="1603.6" stroke="#000" stroke-width="3.6" stroke-dasharray="15 17.5"/>
</g>
<rect x="1246" y="1567.2" width="599.0" height="623.0" fill="none" stroke="#333333" stroke-width="2.2"/>
<line x1="1280.1" x2="1280.1" y1="2190.2" y2="2200.7" stroke="#333333" stroke-width="3.2"/>
<text x="1280.1" y="2234.4" text-anchor="middle" class="tk">0.5</text>
<line x1="1482.5" x2="1482.5" y1="2190.2" y2="2200.7" stroke="#333333" stroke-width="3.2"/>
<text x="1482.5" y="2234.4" text-anchor="middle" class="tk">0.6</text>
<line x1="1684.9" x2="1684.9" y1="2190.2" y2="2200.7" stroke="#333333" stroke-width="3.2"/>
<text x="1684.9" y="2234.4" text-anchor="middle" class="tk">0.7</text>
<line x1="1235.5" x2="1246" y1="1757.4" y2="1757.4" stroke="#333333" stroke-width="3.2"/>
<text x="1225.5" y="1769.5" text-anchor="end" class="tk">0.2</text>
<line x1="1235.5" x2="1246" y1="2005.0" y2="2005.0" stroke="#333333" stroke-width="3.2"/>
<text x="1225.5" y="2017.1" text-anchor="end" class="tk">0.1</text>
<text x="1545.5" y="2281.7" text-anchor="middle" class="at">Transcriptome Correlation</text>
<text transform="translate(1159.7,1878.7) rotate(-90)" text-anchor="middle" class="at">Spearman ρ (mutation effect)</text>
<text x="1702.7" y="2119.8" text-anchor="middle" class="an">ρ=0.61</text>
<text x="1702.7" y="2173.4" text-anchor="middle" class="an">(p&lt;2.2<tspan dx="8.5" style="font-size:50px">×</tspan><tspan dx="8.5">10</tspan><tspan class="sup" dy="-15.4">-16</tspan><tspan dy="15.4" dx="4">)</tspan></text>
</g>
<text x="1910.5" y="208.5" class="lt">transcriptome</text>
<text x="1910.5" y="254.0" class="lt">correlation</text>
<linearGradient id="g1" x1="0" y1="1" x2="0" y2="0">
<stop offset="0.0" stop-color="#1a0a66"/>
<stop offset="0.08" stop-color="#1b1a78"/>
<stop offset="0.14" stop-color="#132f92"/>
<stop offset="0.2" stop-color="#0a48b4"/>
<stop offset="0.25" stop-color="#0760da"/>
<stop offset="0.28" stop-color="#1464cc"/>
<stop offset="0.35" stop-color="#2a68ae"/>
<stop offset="0.41" stop-color="#41688e"/>
<stop offset="0.48" stop-color="#606878"/>
<stop offset="0.5" stop-color="#6c6e6c"/>
<stop offset="0.527" stop-color="#7c7660"/>
<stop offset="0.555" stop-color="#8c8050"/>
<stop offset="0.575" stop-color="#9c8648"/>
<stop offset="0.61" stop-color="#b08c38"/>
<stop offset="0.64" stop-color="#c09428"/>
<stop offset="0.66" stop-color="#d29a08"/>
<stop offset="0.68" stop-color="#dca000"/>
<stop offset="0.7" stop-color="#eaa600"/>
<stop offset="0.716" stop-color="#ffb000"/>
<stop offset="0.745" stop-color="#ffaa00"/>
<stop offset="0.78" stop-color="#ffa000"/>
<stop offset="0.82" stop-color="#ff8c00"/>
<stop offset="0.88" stop-color="#ff7a00"/>
<stop offset="0.94" stop-color="#ff6400"/>
<stop offset="1.0" stop-color="#ff5200"/>
</linearGradient>
<rect x="1909.6" y="279.7" width="65" height="326.6" fill="url(#g1)"/>
<line x1="1909.6" x2="1922.6" y1="319" y2="319" stroke="#fff" stroke-opacity="0.8" stroke-width="2"/>
<line x1="1961.6" x2="1974.6" y1="319" y2="319" stroke="#fff" stroke-opacity="0.8" stroke-width="2"/>
<text x="1995.5" y="331.2" class="ll">0.5</text>
<line x1="1909.6" x2="1922.6" y1="384.4" y2="384.4" stroke="#fff" stroke-opacity="0.8" stroke-width="2"/>
<line x1="1961.6" x2="1974.6" y1="384.4" y2="384.4" stroke="#fff" stroke-opacity="0.8" stroke-width="2"/>
<text x="1995.5" y="396.6" class="ll">0.4</text>
<line x1="1909.6" x2="1922.6" y1="449.8" y2="449.8" stroke="#fff" stroke-opacity="0.8" stroke-width="2"/>
<line x1="1961.6" x2="1974.6" y1="449.8" y2="449.8" stroke="#fff" stroke-opacity="0.8" stroke-width="2"/>
<text x="1995.5" y="462.0" class="ll">0.3</text>
<line x1="1909.6" x2="1922.6" y1="514.9" y2="514.9" stroke="#fff" stroke-opacity="0.8" stroke-width="2"/>
<line x1="1961.6" x2="1974.6" y1="514.9" y2="514.9" stroke="#fff" stroke-opacity="0.8" stroke-width="2"/>
<text x="1995.5" y="527.1" class="ll">0.2</text>
<line x1="1909.6" x2="1922.6" y1="579.9" y2="579.9" stroke="#fff" stroke-opacity="0.8" stroke-width="2"/>
<line x1="1961.6" x2="1974.6" y1="579.9" y2="579.9" stroke="#fff" stroke-opacity="0.8" stroke-width="2"/>
<text x="1995.5" y="592.1" class="ll">0.1</text>
<text x="1910.5" y="951.0" class="lt">transcriptome</text>
<text x="1910.5" y="996.5" class="lt">correlation</text>
<linearGradient id="g2" x1="0" y1="1" x2="0" y2="0">
<stop offset="0.0" stop-color="#1a0a66"/>
<stop offset="0.08" stop-color="#1b1a78"/>
<stop offset="0.14" stop-color="#132f92"/>
<stop offset="0.2" stop-color="#0a48b4"/>
<stop offset="0.25" stop-color="#0760da"/>
<stop offset="0.28" stop-color="#1464cc"/>
<stop offset="0.35" stop-color="#2a68ae"/>
<stop offset="0.41" stop-color="#41688e"/>
<stop offset="0.48" stop-color="#606878"/>
<stop offset="0.5" stop-color="#6c6e6c"/>
<stop offset="0.527" stop-color="#7c7660"/>
<stop offset="0.555" stop-color="#8c8050"/>
<stop offset="0.575" stop-color="#9c8648"/>
<stop offset="0.61" stop-color="#b08c38"/>
<stop offset="0.64" stop-color="#c09428"/>
<stop offset="0.66" stop-color="#d29a08"/>
<stop offset="0.68" stop-color="#dca000"/>
<stop offset="0.7" stop-color="#eaa600"/>
<stop offset="0.716" stop-color="#ffb000"/>
<stop offset="0.745" stop-color="#ffaa00"/>
<stop offset="0.78" stop-color="#ffa000"/>
<stop offset="0.82" stop-color="#ff8c00"/>
<stop offset="0.88" stop-color="#ff7a00"/>
<stop offset="0.94" stop-color="#ff6400"/>
<stop offset="1.0" stop-color="#ff5200"/>
</linearGradient>
<rect x="1909.6" y="1022.4" width="65" height="326.6" fill="url(#g2)"/>
<line x1="1909.6" x2="1922.6" y1="1084.1" y2="1084.1" stroke="#fff" stroke-opacity="0.8" stroke-width="2"/>
<line x1="1961.6" x2="1974.6" y1="1084.1" y2="1084.1" stroke="#fff" stroke-opacity="0.8" stroke-width="2"/>
<text x="1995.5" y="1096.3" class="ll">0.6</text>
<line x1="1909.6" x2="1922.6" y1="1168" y2="1168" stroke="#fff" stroke-opacity="0.8" stroke-width="2"/>
<line x1="1961.6" x2="1974.6" y1="1168" y2="1168" stroke="#fff" stroke-opacity="0.8" stroke-width="2"/>
<text x="1995.5" y="1180.2" class="ll">0.5</text>
<line x1="1909.6" x2="1922.6" y1="1252.2" y2="1252.2" stroke="#fff" stroke-opacity="0.8" stroke-width="2"/>
<line x1="1961.6" x2="1974.6" y1="1252.2" y2="1252.2" stroke="#fff" stroke-opacity="0.8" stroke-width="2"/>
<text x="1995.5" y="1264.4" class="ll">0.4</text>
<line x1="1909.6" x2="1922.6" y1="1336.3" y2="1336.3" stroke="#fff" stroke-opacity="0.8" stroke-width="2"/>
<line x1="1961.6" x2="1974.6" y1="1336.3" y2="1336.3" stroke="#fff" stroke-opacity="0.8" stroke-width="2"/>
<text x="1995.5" y="1348.5" class="ll">0.3</text>
<text x="1910.5" y="1697.0" class="lt">transcriptome</text>
<text x="1910.5" y="1742.5" class="lt">correlation</text>
<linearGradient id="g3" x1="0" y1="1" x2="0" y2="0">
<stop offset="0.0" stop-color="#1a0a66"/>
<stop offset="0.08" stop-color="#1b1a78"/>
<stop offset="0.14" stop-color="#132f92"/>
<stop offset="0.2" stop-color="#0a48b4"/>
<stop offset="0.25" stop-color="#0760da"/>
<stop offset="0.28" stop-color="#1464cc"/>
<stop offset="0.35" stop-color="#2a68ae"/>
<stop offset="0.41" stop-color="#41688e"/>
<stop offset="0.48" stop-color="#606878"/>
<stop offset="0.5" stop-color="#6c6e6c"/>
<stop offset="0.527" stop-color="#7c7660"/>
<stop offset="0.555" stop-color="#8c8050"/>
<stop offset="0.575" stop-color="#9c8648"/>
<stop offset="0.61" stop-color="#b08c38"/>
<stop offset="0.64" stop-color="#c09428"/>
<stop offset="0.66" stop-color="#d29a08"/>
<stop offset="0.68" stop-color="#dca000"/>
<stop offset="0.7" stop-color="#eaa600"/>
<stop offset="0.716" stop-color="#ffb000"/>
<stop offset="0.745" stop-color="#ffaa00"/>
<stop offset="0.78" stop-color="#ffa000"/>
<stop offset="0.82" stop-color="#ff8c00"/>
<stop offset="0.88" stop-color="#ff7a00"/>
<stop offset="0.94" stop-color="#ff6400"/>
<stop offset="1.0" stop-color="#ff5200"/>
</linearGradient>
<rect x="1909.6" y="1767.6" width="65" height="327.2" fill="url(#g3)"/>
<line x1="1909.6" x2="1922.6" y1="1794.1" y2="1794.1" stroke="#fff" stroke-opacity="0.8" stroke-width="2"/>
<line x1="1961.6" x2="1974.6" y1="1794.1" y2="1794.1" stroke="#fff" stroke-opacity="0.8" stroke-width="2"/>
<text x="1995.5" y="1806.3" class="ll">0.75</text>
<line x1="1909.6" x2="1922.6" y1="1852" y2="1852" stroke="#fff" stroke-opacity="0.8" stroke-width="2"/>
<line x1="1961.6" x2="1974.6" y1="1852" y2="1852" stroke="#fff" stroke-opacity="0.8" stroke-width="2"/>
<text x="1995.5" y="1864.2" class="ll">0.70</text>
<line x1="1909.6" x2="1922.6" y1="1909.7" y2="1909.7" stroke="#fff" stroke-opacity="0.8" stroke-width="2"/>
<line x1="1961.6" x2="1974.6" y1="1909.7" y2="1909.7" stroke="#fff" stroke-opacity="0.8" stroke-width="2"/>
<text x="1995.5" y="1921.9" class="ll">0.65</text>
<line x1="1909.6" x2="1922.6" y1="1967.1" y2="1967.1" stroke="#fff" stroke-opacity="0.8" stroke-width="2"/>
<line x1="1961.6" x2="1974.6" y1="1967.1" y2="1967.1" stroke="#fff" stroke-opacity="0.8" stroke-width="2"/>
<text x="1995.5" y="1979.3" class="ll">0.60</text>
<line x1="1909.6" x2="1922.6" y1="2025" y2="2025" stroke="#fff" stroke-opacity="0.8" stroke-width="2"/>
<line x1="1961.6" x2="1974.6" y1="2025" y2="2025" stroke="#fff" stroke-opacity="0.8" stroke-width="2"/>
<text x="1995.5" y="2037.2" class="ll">0.55</text>
<line x1="1909.6" x2="1922.6" y1="2082.4" y2="2082.4" stroke="#fff" stroke-opacity="0.8" stroke-width="2"/>
<line x1="1961.6" x2="1974.6" y1="2082.4" y2="2082.4" stroke="#fff" stroke-opacity="0.8" stroke-width="2"/>
<text x="1995.5" y="2094.6" class="ll">0.50</text>
<line x1="799.7" x2="991" y1="2392.5" y2="2392.5" stroke="#000" stroke-width="6" stroke-dasharray="19.5 14.8"/>
<text x="1061" y="2414.5" style="font-size:58px;fill:#000">Spearman’s ρ of LCL</text>
</svg></body></html>
